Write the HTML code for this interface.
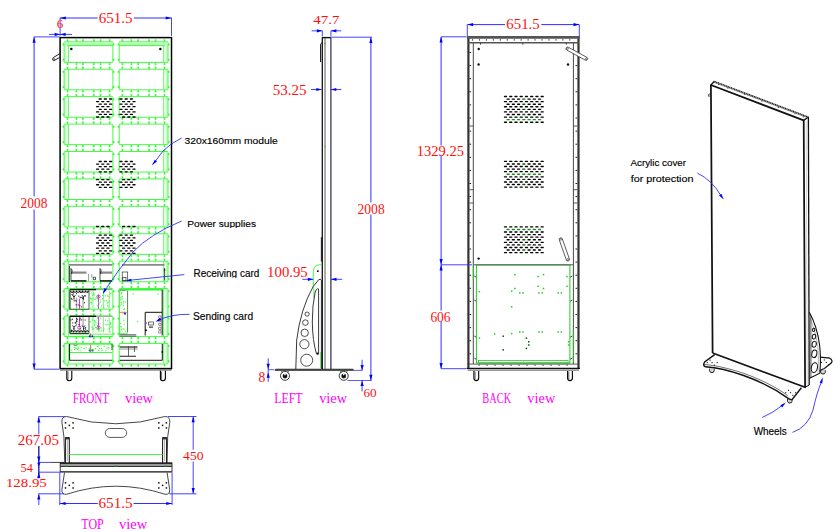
<!DOCTYPE html>
<html><head><meta charset="utf-8"><style>
html,body{margin:0;padding:0;background:#fff;width:840px;height:532px;overflow:hidden}
svg{display:block}

</style></head><body>
<svg width="840" height="532" viewBox="0 0 840 532">
<rect width="840" height="532" fill="#fff"/>
<rect x="62.6" y="43.65" width="1.7" height="1.7" rx="0" stroke="none" stroke-width="0" fill="#30f830" />
<rect x="112.7" y="43.65" width="1.7" height="1.7" rx="0" stroke="none" stroke-width="0" fill="#30f830" />
<rect x="62.6" y="58.85" width="1.7" height="1.7" rx="0" stroke="none" stroke-width="0" fill="#30f830" />
<rect x="112.7" y="58.85" width="1.7" height="1.7" rx="0" stroke="none" stroke-width="0" fill="#30f830" />
<rect x="64.4" y="42.3" width="2.1" height="19.6" rx="0" stroke="none" stroke-width="0" fill="#c8ffc8" />
<line x1="68.4" y1="42.3" x2="68.4" y2="61.9" stroke="#30f830" stroke-width="0.8" />
<rect x="64.1" y="41.8" width="48.8" height="20.6" rx="0.6" stroke="#30f830" stroke-width="0.9" fill="none" />
<rect x="66.65" y="39.3" width="1.7" height="1.7" rx="0" stroke="none" stroke-width="0" fill="#30f830" />
<line x1="67.5" y1="40.3" x2="67.5" y2="41.8" stroke="#30f830" stroke-width="0.7" />
<rect x="66.65" y="63.2" width="1.7" height="1.7" rx="0" stroke="none" stroke-width="0" fill="#30f830" />
<line x1="67.5" y1="62.4" x2="67.5" y2="63.9" stroke="#30f830" stroke-width="0.7" />
<rect x="75.55" y="39.3" width="1.7" height="1.7" rx="0" stroke="none" stroke-width="0" fill="#30f830" />
<line x1="76.4" y1="40.3" x2="76.4" y2="41.8" stroke="#30f830" stroke-width="0.7" />
<rect x="75.55" y="63.2" width="1.7" height="1.7" rx="0" stroke="none" stroke-width="0" fill="#30f830" />
<line x1="76.4" y1="62.4" x2="76.4" y2="63.9" stroke="#30f830" stroke-width="0.7" />
<rect x="82.05" y="39.3" width="1.7" height="1.7" rx="0" stroke="none" stroke-width="0" fill="#30f830" />
<line x1="82.9" y1="40.3" x2="82.9" y2="41.8" stroke="#30f830" stroke-width="0.7" />
<rect x="82.05" y="63.2" width="1.7" height="1.7" rx="0" stroke="none" stroke-width="0" fill="#30f830" />
<line x1="82.9" y1="62.4" x2="82.9" y2="63.9" stroke="#30f830" stroke-width="0.7" />
<rect x="92.95" y="39.3" width="1.7" height="1.7" rx="0" stroke="none" stroke-width="0" fill="#30f830" />
<line x1="93.8" y1="40.3" x2="93.8" y2="41.8" stroke="#30f830" stroke-width="0.7" />
<rect x="92.95" y="63.2" width="1.7" height="1.7" rx="0" stroke="none" stroke-width="0" fill="#30f830" />
<line x1="93.8" y1="62.4" x2="93.8" y2="63.9" stroke="#30f830" stroke-width="0.7" />
<rect x="99.75" y="39.3" width="1.7" height="1.7" rx="0" stroke="none" stroke-width="0" fill="#30f830" />
<line x1="100.6" y1="40.3" x2="100.6" y2="41.8" stroke="#30f830" stroke-width="0.7" />
<rect x="99.75" y="63.2" width="1.7" height="1.7" rx="0" stroke="none" stroke-width="0" fill="#30f830" />
<line x1="100.6" y1="62.4" x2="100.6" y2="63.9" stroke="#30f830" stroke-width="0.7" />
<rect x="108.75" y="39.3" width="1.7" height="1.7" rx="0" stroke="none" stroke-width="0" fill="#30f830" />
<line x1="109.6" y1="40.3" x2="109.6" y2="41.8" stroke="#30f830" stroke-width="0.7" />
<rect x="108.75" y="63.2" width="1.7" height="1.7" rx="0" stroke="none" stroke-width="0" fill="#30f830" />
<line x1="109.6" y1="62.4" x2="109.6" y2="63.9" stroke="#30f830" stroke-width="0.7" />
<rect x="117.7" y="43.65" width="1.7" height="1.7" rx="0" stroke="none" stroke-width="0" fill="#30f830" />
<rect x="167.8" y="43.65" width="1.7" height="1.7" rx="0" stroke="none" stroke-width="0" fill="#30f830" />
<rect x="117.7" y="58.85" width="1.7" height="1.7" rx="0" stroke="none" stroke-width="0" fill="#30f830" />
<rect x="167.8" y="58.85" width="1.7" height="1.7" rx="0" stroke="none" stroke-width="0" fill="#30f830" />
<rect x="165.6" y="42.3" width="2.1" height="19.6" rx="0" stroke="none" stroke-width="0" fill="#c8ffc8" />
<line x1="163.7" y1="42.3" x2="163.7" y2="61.9" stroke="#30f830" stroke-width="0.8" />
<rect x="119.2" y="41.8" width="48.8" height="20.6" rx="0.6" stroke="#30f830" stroke-width="0.9" fill="none" />
<rect x="163.65" y="39.3" width="1.7" height="1.7" rx="0" stroke="none" stroke-width="0" fill="#30f830" />
<line x1="164.5" y1="40.3" x2="164.5" y2="41.8" stroke="#30f830" stroke-width="0.7" />
<rect x="163.65" y="63.2" width="1.7" height="1.7" rx="0" stroke="none" stroke-width="0" fill="#30f830" />
<line x1="164.5" y1="62.4" x2="164.5" y2="63.9" stroke="#30f830" stroke-width="0.7" />
<rect x="154.75" y="39.3" width="1.7" height="1.7" rx="0" stroke="none" stroke-width="0" fill="#30f830" />
<line x1="155.6" y1="40.3" x2="155.6" y2="41.8" stroke="#30f830" stroke-width="0.7" />
<rect x="154.75" y="63.2" width="1.7" height="1.7" rx="0" stroke="none" stroke-width="0" fill="#30f830" />
<line x1="155.6" y1="62.4" x2="155.6" y2="63.9" stroke="#30f830" stroke-width="0.7" />
<rect x="148.25" y="39.3" width="1.7" height="1.7" rx="0" stroke="none" stroke-width="0" fill="#30f830" />
<line x1="149.1" y1="40.3" x2="149.1" y2="41.8" stroke="#30f830" stroke-width="0.7" />
<rect x="148.25" y="63.2" width="1.7" height="1.7" rx="0" stroke="none" stroke-width="0" fill="#30f830" />
<line x1="149.1" y1="62.4" x2="149.1" y2="63.9" stroke="#30f830" stroke-width="0.7" />
<rect x="137.35" y="39.3" width="1.7" height="1.7" rx="0" stroke="none" stroke-width="0" fill="#30f830" />
<line x1="138.2" y1="40.3" x2="138.2" y2="41.8" stroke="#30f830" stroke-width="0.7" />
<rect x="137.35" y="63.2" width="1.7" height="1.7" rx="0" stroke="none" stroke-width="0" fill="#30f830" />
<line x1="138.2" y1="62.4" x2="138.2" y2="63.9" stroke="#30f830" stroke-width="0.7" />
<rect x="130.55" y="39.3" width="1.7" height="1.7" rx="0" stroke="none" stroke-width="0" fill="#30f830" />
<line x1="131.4" y1="40.3" x2="131.4" y2="41.8" stroke="#30f830" stroke-width="0.7" />
<rect x="130.55" y="63.2" width="1.7" height="1.7" rx="0" stroke="none" stroke-width="0" fill="#30f830" />
<line x1="131.4" y1="62.4" x2="131.4" y2="63.9" stroke="#30f830" stroke-width="0.7" />
<rect x="121.55" y="39.3" width="1.7" height="1.7" rx="0" stroke="none" stroke-width="0" fill="#30f830" />
<line x1="122.4" y1="40.3" x2="122.4" y2="41.8" stroke="#30f830" stroke-width="0.7" />
<rect x="121.55" y="63.2" width="1.7" height="1.7" rx="0" stroke="none" stroke-width="0" fill="#30f830" />
<line x1="122.4" y1="62.4" x2="122.4" y2="63.9" stroke="#30f830" stroke-width="0.7" />
<rect x="62.6" y="71.07" width="1.7" height="1.7" rx="0" stroke="none" stroke-width="0" fill="#30f830" />
<rect x="112.7" y="71.07" width="1.7" height="1.7" rx="0" stroke="none" stroke-width="0" fill="#30f830" />
<rect x="62.6" y="86.27" width="1.7" height="1.7" rx="0" stroke="none" stroke-width="0" fill="#30f830" />
<rect x="112.7" y="86.27" width="1.7" height="1.7" rx="0" stroke="none" stroke-width="0" fill="#30f830" />
<rect x="64.4" y="69.72" width="2.1" height="19.6" rx="0" stroke="none" stroke-width="0" fill="#c8ffc8" />
<line x1="68.4" y1="69.72" x2="68.4" y2="89.32" stroke="#30f830" stroke-width="0.8" />
<rect x="64.1" y="69.22" width="48.8" height="20.6" rx="0.6" stroke="#30f830" stroke-width="0.9" fill="none" />
<rect x="66.65" y="66.72" width="1.7" height="1.7" rx="0" stroke="none" stroke-width="0" fill="#30f830" />
<line x1="67.5" y1="67.72" x2="67.5" y2="69.22" stroke="#30f830" stroke-width="0.7" />
<rect x="66.65" y="90.62" width="1.7" height="1.7" rx="0" stroke="none" stroke-width="0" fill="#30f830" />
<line x1="67.5" y1="89.82" x2="67.5" y2="91.32" stroke="#30f830" stroke-width="0.7" />
<rect x="75.55" y="66.72" width="1.7" height="1.7" rx="0" stroke="none" stroke-width="0" fill="#30f830" />
<line x1="76.4" y1="67.72" x2="76.4" y2="69.22" stroke="#30f830" stroke-width="0.7" />
<rect x="75.55" y="90.62" width="1.7" height="1.7" rx="0" stroke="none" stroke-width="0" fill="#30f830" />
<line x1="76.4" y1="89.82" x2="76.4" y2="91.32" stroke="#30f830" stroke-width="0.7" />
<rect x="82.05" y="66.72" width="1.7" height="1.7" rx="0" stroke="none" stroke-width="0" fill="#30f830" />
<line x1="82.9" y1="67.72" x2="82.9" y2="69.22" stroke="#30f830" stroke-width="0.7" />
<rect x="82.05" y="90.62" width="1.7" height="1.7" rx="0" stroke="none" stroke-width="0" fill="#30f830" />
<line x1="82.9" y1="89.82" x2="82.9" y2="91.32" stroke="#30f830" stroke-width="0.7" />
<rect x="92.95" y="66.72" width="1.7" height="1.7" rx="0" stroke="none" stroke-width="0" fill="#30f830" />
<line x1="93.8" y1="67.72" x2="93.8" y2="69.22" stroke="#30f830" stroke-width="0.7" />
<rect x="92.95" y="90.62" width="1.7" height="1.7" rx="0" stroke="none" stroke-width="0" fill="#30f830" />
<line x1="93.8" y1="89.82" x2="93.8" y2="91.32" stroke="#30f830" stroke-width="0.7" />
<rect x="99.75" y="66.72" width="1.7" height="1.7" rx="0" stroke="none" stroke-width="0" fill="#30f830" />
<line x1="100.6" y1="67.72" x2="100.6" y2="69.22" stroke="#30f830" stroke-width="0.7" />
<rect x="99.75" y="90.62" width="1.7" height="1.7" rx="0" stroke="none" stroke-width="0" fill="#30f830" />
<line x1="100.6" y1="89.82" x2="100.6" y2="91.32" stroke="#30f830" stroke-width="0.7" />
<rect x="108.75" y="66.72" width="1.7" height="1.7" rx="0" stroke="none" stroke-width="0" fill="#30f830" />
<line x1="109.6" y1="67.72" x2="109.6" y2="69.22" stroke="#30f830" stroke-width="0.7" />
<rect x="108.75" y="90.62" width="1.7" height="1.7" rx="0" stroke="none" stroke-width="0" fill="#30f830" />
<line x1="109.6" y1="89.82" x2="109.6" y2="91.32" stroke="#30f830" stroke-width="0.7" />
<rect x="117.7" y="71.07" width="1.7" height="1.7" rx="0" stroke="none" stroke-width="0" fill="#30f830" />
<rect x="167.8" y="71.07" width="1.7" height="1.7" rx="0" stroke="none" stroke-width="0" fill="#30f830" />
<rect x="117.7" y="86.27" width="1.7" height="1.7" rx="0" stroke="none" stroke-width="0" fill="#30f830" />
<rect x="167.8" y="86.27" width="1.7" height="1.7" rx="0" stroke="none" stroke-width="0" fill="#30f830" />
<rect x="165.6" y="69.72" width="2.1" height="19.6" rx="0" stroke="none" stroke-width="0" fill="#c8ffc8" />
<line x1="163.7" y1="69.72" x2="163.7" y2="89.32" stroke="#30f830" stroke-width="0.8" />
<rect x="119.2" y="69.22" width="48.8" height="20.6" rx="0.6" stroke="#30f830" stroke-width="0.9" fill="none" />
<rect x="163.65" y="66.72" width="1.7" height="1.7" rx="0" stroke="none" stroke-width="0" fill="#30f830" />
<line x1="164.5" y1="67.72" x2="164.5" y2="69.22" stroke="#30f830" stroke-width="0.7" />
<rect x="163.65" y="90.62" width="1.7" height="1.7" rx="0" stroke="none" stroke-width="0" fill="#30f830" />
<line x1="164.5" y1="89.82" x2="164.5" y2="91.32" stroke="#30f830" stroke-width="0.7" />
<rect x="154.75" y="66.72" width="1.7" height="1.7" rx="0" stroke="none" stroke-width="0" fill="#30f830" />
<line x1="155.6" y1="67.72" x2="155.6" y2="69.22" stroke="#30f830" stroke-width="0.7" />
<rect x="154.75" y="90.62" width="1.7" height="1.7" rx="0" stroke="none" stroke-width="0" fill="#30f830" />
<line x1="155.6" y1="89.82" x2="155.6" y2="91.32" stroke="#30f830" stroke-width="0.7" />
<rect x="148.25" y="66.72" width="1.7" height="1.7" rx="0" stroke="none" stroke-width="0" fill="#30f830" />
<line x1="149.1" y1="67.72" x2="149.1" y2="69.22" stroke="#30f830" stroke-width="0.7" />
<rect x="148.25" y="90.62" width="1.7" height="1.7" rx="0" stroke="none" stroke-width="0" fill="#30f830" />
<line x1="149.1" y1="89.82" x2="149.1" y2="91.32" stroke="#30f830" stroke-width="0.7" />
<rect x="137.35" y="66.72" width="1.7" height="1.7" rx="0" stroke="none" stroke-width="0" fill="#30f830" />
<line x1="138.2" y1="67.72" x2="138.2" y2="69.22" stroke="#30f830" stroke-width="0.7" />
<rect x="137.35" y="90.62" width="1.7" height="1.7" rx="0" stroke="none" stroke-width="0" fill="#30f830" />
<line x1="138.2" y1="89.82" x2="138.2" y2="91.32" stroke="#30f830" stroke-width="0.7" />
<rect x="130.55" y="66.72" width="1.7" height="1.7" rx="0" stroke="none" stroke-width="0" fill="#30f830" />
<line x1="131.4" y1="67.72" x2="131.4" y2="69.22" stroke="#30f830" stroke-width="0.7" />
<rect x="130.55" y="90.62" width="1.7" height="1.7" rx="0" stroke="none" stroke-width="0" fill="#30f830" />
<line x1="131.4" y1="89.82" x2="131.4" y2="91.32" stroke="#30f830" stroke-width="0.7" />
<rect x="121.55" y="66.72" width="1.7" height="1.7" rx="0" stroke="none" stroke-width="0" fill="#30f830" />
<line x1="122.4" y1="67.72" x2="122.4" y2="69.22" stroke="#30f830" stroke-width="0.7" />
<rect x="121.55" y="90.62" width="1.7" height="1.7" rx="0" stroke="none" stroke-width="0" fill="#30f830" />
<line x1="122.4" y1="89.82" x2="122.4" y2="91.32" stroke="#30f830" stroke-width="0.7" />
<rect x="62.6" y="98.49" width="1.7" height="1.7" rx="0" stroke="none" stroke-width="0" fill="#30f830" />
<rect x="112.7" y="98.49" width="1.7" height="1.7" rx="0" stroke="none" stroke-width="0" fill="#30f830" />
<rect x="62.6" y="113.69" width="1.7" height="1.7" rx="0" stroke="none" stroke-width="0" fill="#30f830" />
<rect x="112.7" y="113.69" width="1.7" height="1.7" rx="0" stroke="none" stroke-width="0" fill="#30f830" />
<rect x="64.4" y="97.14" width="2.1" height="19.6" rx="0" stroke="none" stroke-width="0" fill="#c8ffc8" />
<line x1="68.4" y1="97.14" x2="68.4" y2="116.74" stroke="#30f830" stroke-width="0.8" />
<rect x="64.1" y="96.64" width="48.8" height="20.6" rx="0.6" stroke="#30f830" stroke-width="0.9" fill="none" />
<rect x="66.65" y="94.14" width="1.7" height="1.7" rx="0" stroke="none" stroke-width="0" fill="#30f830" />
<line x1="67.5" y1="95.14" x2="67.5" y2="96.64" stroke="#30f830" stroke-width="0.7" />
<rect x="66.65" y="118.04" width="1.7" height="1.7" rx="0" stroke="none" stroke-width="0" fill="#30f830" />
<line x1="67.5" y1="117.24" x2="67.5" y2="118.74" stroke="#30f830" stroke-width="0.7" />
<rect x="75.55" y="94.14" width="1.7" height="1.7" rx="0" stroke="none" stroke-width="0" fill="#30f830" />
<line x1="76.4" y1="95.14" x2="76.4" y2="96.64" stroke="#30f830" stroke-width="0.7" />
<rect x="75.55" y="118.04" width="1.7" height="1.7" rx="0" stroke="none" stroke-width="0" fill="#30f830" />
<line x1="76.4" y1="117.24" x2="76.4" y2="118.74" stroke="#30f830" stroke-width="0.7" />
<rect x="82.05" y="94.14" width="1.7" height="1.7" rx="0" stroke="none" stroke-width="0" fill="#30f830" />
<line x1="82.9" y1="95.14" x2="82.9" y2="96.64" stroke="#30f830" stroke-width="0.7" />
<rect x="82.05" y="118.04" width="1.7" height="1.7" rx="0" stroke="none" stroke-width="0" fill="#30f830" />
<line x1="82.9" y1="117.24" x2="82.9" y2="118.74" stroke="#30f830" stroke-width="0.7" />
<rect x="92.95" y="94.14" width="1.7" height="1.7" rx="0" stroke="none" stroke-width="0" fill="#30f830" />
<line x1="93.8" y1="95.14" x2="93.8" y2="96.64" stroke="#30f830" stroke-width="0.7" />
<rect x="92.95" y="118.04" width="1.7" height="1.7" rx="0" stroke="none" stroke-width="0" fill="#30f830" />
<line x1="93.8" y1="117.24" x2="93.8" y2="118.74" stroke="#30f830" stroke-width="0.7" />
<rect x="99.75" y="94.14" width="1.7" height="1.7" rx="0" stroke="none" stroke-width="0" fill="#30f830" />
<line x1="100.6" y1="95.14" x2="100.6" y2="96.64" stroke="#30f830" stroke-width="0.7" />
<rect x="99.75" y="118.04" width="1.7" height="1.7" rx="0" stroke="none" stroke-width="0" fill="#30f830" />
<line x1="100.6" y1="117.24" x2="100.6" y2="118.74" stroke="#30f830" stroke-width="0.7" />
<rect x="108.75" y="94.14" width="1.7" height="1.7" rx="0" stroke="none" stroke-width="0" fill="#30f830" />
<line x1="109.6" y1="95.14" x2="109.6" y2="96.64" stroke="#30f830" stroke-width="0.7" />
<rect x="108.75" y="118.04" width="1.7" height="1.7" rx="0" stroke="none" stroke-width="0" fill="#30f830" />
<line x1="109.6" y1="117.24" x2="109.6" y2="118.74" stroke="#30f830" stroke-width="0.7" />
<rect x="117.7" y="98.49" width="1.7" height="1.7" rx="0" stroke="none" stroke-width="0" fill="#30f830" />
<rect x="167.8" y="98.49" width="1.7" height="1.7" rx="0" stroke="none" stroke-width="0" fill="#30f830" />
<rect x="117.7" y="113.69" width="1.7" height="1.7" rx="0" stroke="none" stroke-width="0" fill="#30f830" />
<rect x="167.8" y="113.69" width="1.7" height="1.7" rx="0" stroke="none" stroke-width="0" fill="#30f830" />
<rect x="165.6" y="97.14" width="2.1" height="19.6" rx="0" stroke="none" stroke-width="0" fill="#c8ffc8" />
<line x1="163.7" y1="97.14" x2="163.7" y2="116.74" stroke="#30f830" stroke-width="0.8" />
<rect x="119.2" y="96.64" width="48.8" height="20.6" rx="0.6" stroke="#30f830" stroke-width="0.9" fill="none" />
<rect x="163.65" y="94.14" width="1.7" height="1.7" rx="0" stroke="none" stroke-width="0" fill="#30f830" />
<line x1="164.5" y1="95.14" x2="164.5" y2="96.64" stroke="#30f830" stroke-width="0.7" />
<rect x="163.65" y="118.04" width="1.7" height="1.7" rx="0" stroke="none" stroke-width="0" fill="#30f830" />
<line x1="164.5" y1="117.24" x2="164.5" y2="118.74" stroke="#30f830" stroke-width="0.7" />
<rect x="154.75" y="94.14" width="1.7" height="1.7" rx="0" stroke="none" stroke-width="0" fill="#30f830" />
<line x1="155.6" y1="95.14" x2="155.6" y2="96.64" stroke="#30f830" stroke-width="0.7" />
<rect x="154.75" y="118.04" width="1.7" height="1.7" rx="0" stroke="none" stroke-width="0" fill="#30f830" />
<line x1="155.6" y1="117.24" x2="155.6" y2="118.74" stroke="#30f830" stroke-width="0.7" />
<rect x="148.25" y="94.14" width="1.7" height="1.7" rx="0" stroke="none" stroke-width="0" fill="#30f830" />
<line x1="149.1" y1="95.14" x2="149.1" y2="96.64" stroke="#30f830" stroke-width="0.7" />
<rect x="148.25" y="118.04" width="1.7" height="1.7" rx="0" stroke="none" stroke-width="0" fill="#30f830" />
<line x1="149.1" y1="117.24" x2="149.1" y2="118.74" stroke="#30f830" stroke-width="0.7" />
<rect x="137.35" y="94.14" width="1.7" height="1.7" rx="0" stroke="none" stroke-width="0" fill="#30f830" />
<line x1="138.2" y1="95.14" x2="138.2" y2="96.64" stroke="#30f830" stroke-width="0.7" />
<rect x="137.35" y="118.04" width="1.7" height="1.7" rx="0" stroke="none" stroke-width="0" fill="#30f830" />
<line x1="138.2" y1="117.24" x2="138.2" y2="118.74" stroke="#30f830" stroke-width="0.7" />
<rect x="130.55" y="94.14" width="1.7" height="1.7" rx="0" stroke="none" stroke-width="0" fill="#30f830" />
<line x1="131.4" y1="95.14" x2="131.4" y2="96.64" stroke="#30f830" stroke-width="0.7" />
<rect x="130.55" y="118.04" width="1.7" height="1.7" rx="0" stroke="none" stroke-width="0" fill="#30f830" />
<line x1="131.4" y1="117.24" x2="131.4" y2="118.74" stroke="#30f830" stroke-width="0.7" />
<rect x="121.55" y="94.14" width="1.7" height="1.7" rx="0" stroke="none" stroke-width="0" fill="#30f830" />
<line x1="122.4" y1="95.14" x2="122.4" y2="96.64" stroke="#30f830" stroke-width="0.7" />
<rect x="121.55" y="118.04" width="1.7" height="1.7" rx="0" stroke="none" stroke-width="0" fill="#30f830" />
<line x1="122.4" y1="117.24" x2="122.4" y2="118.74" stroke="#30f830" stroke-width="0.7" />
<rect x="62.6" y="125.91" width="1.7" height="1.7" rx="0" stroke="none" stroke-width="0" fill="#30f830" />
<rect x="112.7" y="125.91" width="1.7" height="1.7" rx="0" stroke="none" stroke-width="0" fill="#30f830" />
<rect x="62.6" y="141.11" width="1.7" height="1.7" rx="0" stroke="none" stroke-width="0" fill="#30f830" />
<rect x="112.7" y="141.11" width="1.7" height="1.7" rx="0" stroke="none" stroke-width="0" fill="#30f830" />
<rect x="64.4" y="124.56" width="2.1" height="19.6" rx="0" stroke="none" stroke-width="0" fill="#c8ffc8" />
<line x1="68.4" y1="124.56" x2="68.4" y2="144.16" stroke="#30f830" stroke-width="0.8" />
<rect x="64.1" y="124.06" width="48.8" height="20.6" rx="0.6" stroke="#30f830" stroke-width="0.9" fill="none" />
<rect x="66.65" y="121.56" width="1.7" height="1.7" rx="0" stroke="none" stroke-width="0" fill="#30f830" />
<line x1="67.5" y1="122.56" x2="67.5" y2="124.06" stroke="#30f830" stroke-width="0.7" />
<rect x="66.65" y="145.46" width="1.7" height="1.7" rx="0" stroke="none" stroke-width="0" fill="#30f830" />
<line x1="67.5" y1="144.66" x2="67.5" y2="146.16" stroke="#30f830" stroke-width="0.7" />
<rect x="75.55" y="121.56" width="1.7" height="1.7" rx="0" stroke="none" stroke-width="0" fill="#30f830" />
<line x1="76.4" y1="122.56" x2="76.4" y2="124.06" stroke="#30f830" stroke-width="0.7" />
<rect x="75.55" y="145.46" width="1.7" height="1.7" rx="0" stroke="none" stroke-width="0" fill="#30f830" />
<line x1="76.4" y1="144.66" x2="76.4" y2="146.16" stroke="#30f830" stroke-width="0.7" />
<rect x="82.05" y="121.56" width="1.7" height="1.7" rx="0" stroke="none" stroke-width="0" fill="#30f830" />
<line x1="82.9" y1="122.56" x2="82.9" y2="124.06" stroke="#30f830" stroke-width="0.7" />
<rect x="82.05" y="145.46" width="1.7" height="1.7" rx="0" stroke="none" stroke-width="0" fill="#30f830" />
<line x1="82.9" y1="144.66" x2="82.9" y2="146.16" stroke="#30f830" stroke-width="0.7" />
<rect x="92.95" y="121.56" width="1.7" height="1.7" rx="0" stroke="none" stroke-width="0" fill="#30f830" />
<line x1="93.8" y1="122.56" x2="93.8" y2="124.06" stroke="#30f830" stroke-width="0.7" />
<rect x="92.95" y="145.46" width="1.7" height="1.7" rx="0" stroke="none" stroke-width="0" fill="#30f830" />
<line x1="93.8" y1="144.66" x2="93.8" y2="146.16" stroke="#30f830" stroke-width="0.7" />
<rect x="99.75" y="121.56" width="1.7" height="1.7" rx="0" stroke="none" stroke-width="0" fill="#30f830" />
<line x1="100.6" y1="122.56" x2="100.6" y2="124.06" stroke="#30f830" stroke-width="0.7" />
<rect x="99.75" y="145.46" width="1.7" height="1.7" rx="0" stroke="none" stroke-width="0" fill="#30f830" />
<line x1="100.6" y1="144.66" x2="100.6" y2="146.16" stroke="#30f830" stroke-width="0.7" />
<rect x="108.75" y="121.56" width="1.7" height="1.7" rx="0" stroke="none" stroke-width="0" fill="#30f830" />
<line x1="109.6" y1="122.56" x2="109.6" y2="124.06" stroke="#30f830" stroke-width="0.7" />
<rect x="108.75" y="145.46" width="1.7" height="1.7" rx="0" stroke="none" stroke-width="0" fill="#30f830" />
<line x1="109.6" y1="144.66" x2="109.6" y2="146.16" stroke="#30f830" stroke-width="0.7" />
<rect x="117.7" y="125.91" width="1.7" height="1.7" rx="0" stroke="none" stroke-width="0" fill="#30f830" />
<rect x="167.8" y="125.91" width="1.7" height="1.7" rx="0" stroke="none" stroke-width="0" fill="#30f830" />
<rect x="117.7" y="141.11" width="1.7" height="1.7" rx="0" stroke="none" stroke-width="0" fill="#30f830" />
<rect x="167.8" y="141.11" width="1.7" height="1.7" rx="0" stroke="none" stroke-width="0" fill="#30f830" />
<rect x="165.6" y="124.56" width="2.1" height="19.6" rx="0" stroke="none" stroke-width="0" fill="#c8ffc8" />
<line x1="163.7" y1="124.56" x2="163.7" y2="144.16" stroke="#30f830" stroke-width="0.8" />
<rect x="119.2" y="124.06" width="48.8" height="20.6" rx="0.6" stroke="#30f830" stroke-width="0.9" fill="none" />
<rect x="163.65" y="121.56" width="1.7" height="1.7" rx="0" stroke="none" stroke-width="0" fill="#30f830" />
<line x1="164.5" y1="122.56" x2="164.5" y2="124.06" stroke="#30f830" stroke-width="0.7" />
<rect x="163.65" y="145.46" width="1.7" height="1.7" rx="0" stroke="none" stroke-width="0" fill="#30f830" />
<line x1="164.5" y1="144.66" x2="164.5" y2="146.16" stroke="#30f830" stroke-width="0.7" />
<rect x="154.75" y="121.56" width="1.7" height="1.7" rx="0" stroke="none" stroke-width="0" fill="#30f830" />
<line x1="155.6" y1="122.56" x2="155.6" y2="124.06" stroke="#30f830" stroke-width="0.7" />
<rect x="154.75" y="145.46" width="1.7" height="1.7" rx="0" stroke="none" stroke-width="0" fill="#30f830" />
<line x1="155.6" y1="144.66" x2="155.6" y2="146.16" stroke="#30f830" stroke-width="0.7" />
<rect x="148.25" y="121.56" width="1.7" height="1.7" rx="0" stroke="none" stroke-width="0" fill="#30f830" />
<line x1="149.1" y1="122.56" x2="149.1" y2="124.06" stroke="#30f830" stroke-width="0.7" />
<rect x="148.25" y="145.46" width="1.7" height="1.7" rx="0" stroke="none" stroke-width="0" fill="#30f830" />
<line x1="149.1" y1="144.66" x2="149.1" y2="146.16" stroke="#30f830" stroke-width="0.7" />
<rect x="137.35" y="121.56" width="1.7" height="1.7" rx="0" stroke="none" stroke-width="0" fill="#30f830" />
<line x1="138.2" y1="122.56" x2="138.2" y2="124.06" stroke="#30f830" stroke-width="0.7" />
<rect x="137.35" y="145.46" width="1.7" height="1.7" rx="0" stroke="none" stroke-width="0" fill="#30f830" />
<line x1="138.2" y1="144.66" x2="138.2" y2="146.16" stroke="#30f830" stroke-width="0.7" />
<rect x="130.55" y="121.56" width="1.7" height="1.7" rx="0" stroke="none" stroke-width="0" fill="#30f830" />
<line x1="131.4" y1="122.56" x2="131.4" y2="124.06" stroke="#30f830" stroke-width="0.7" />
<rect x="130.55" y="145.46" width="1.7" height="1.7" rx="0" stroke="none" stroke-width="0" fill="#30f830" />
<line x1="131.4" y1="144.66" x2="131.4" y2="146.16" stroke="#30f830" stroke-width="0.7" />
<rect x="121.55" y="121.56" width="1.7" height="1.7" rx="0" stroke="none" stroke-width="0" fill="#30f830" />
<line x1="122.4" y1="122.56" x2="122.4" y2="124.06" stroke="#30f830" stroke-width="0.7" />
<rect x="121.55" y="145.46" width="1.7" height="1.7" rx="0" stroke="none" stroke-width="0" fill="#30f830" />
<line x1="122.4" y1="144.66" x2="122.4" y2="146.16" stroke="#30f830" stroke-width="0.7" />
<rect x="62.6" y="153.33" width="1.7" height="1.7" rx="0" stroke="none" stroke-width="0" fill="#30f830" />
<rect x="112.7" y="153.33" width="1.7" height="1.7" rx="0" stroke="none" stroke-width="0" fill="#30f830" />
<rect x="62.6" y="168.53" width="1.7" height="1.7" rx="0" stroke="none" stroke-width="0" fill="#30f830" />
<rect x="112.7" y="168.53" width="1.7" height="1.7" rx="0" stroke="none" stroke-width="0" fill="#30f830" />
<rect x="64.4" y="151.98" width="2.1" height="19.6" rx="0" stroke="none" stroke-width="0" fill="#c8ffc8" />
<line x1="68.4" y1="151.98" x2="68.4" y2="171.58" stroke="#30f830" stroke-width="0.8" />
<rect x="64.1" y="151.48" width="48.8" height="20.6" rx="0.6" stroke="#30f830" stroke-width="0.9" fill="none" />
<rect x="66.65" y="148.98" width="1.7" height="1.7" rx="0" stroke="none" stroke-width="0" fill="#30f830" />
<line x1="67.5" y1="149.98" x2="67.5" y2="151.48" stroke="#30f830" stroke-width="0.7" />
<rect x="66.65" y="172.88" width="1.7" height="1.7" rx="0" stroke="none" stroke-width="0" fill="#30f830" />
<line x1="67.5" y1="172.08" x2="67.5" y2="173.58" stroke="#30f830" stroke-width="0.7" />
<rect x="75.55" y="148.98" width="1.7" height="1.7" rx="0" stroke="none" stroke-width="0" fill="#30f830" />
<line x1="76.4" y1="149.98" x2="76.4" y2="151.48" stroke="#30f830" stroke-width="0.7" />
<rect x="75.55" y="172.88" width="1.7" height="1.7" rx="0" stroke="none" stroke-width="0" fill="#30f830" />
<line x1="76.4" y1="172.08" x2="76.4" y2="173.58" stroke="#30f830" stroke-width="0.7" />
<rect x="82.05" y="148.98" width="1.7" height="1.7" rx="0" stroke="none" stroke-width="0" fill="#30f830" />
<line x1="82.9" y1="149.98" x2="82.9" y2="151.48" stroke="#30f830" stroke-width="0.7" />
<rect x="82.05" y="172.88" width="1.7" height="1.7" rx="0" stroke="none" stroke-width="0" fill="#30f830" />
<line x1="82.9" y1="172.08" x2="82.9" y2="173.58" stroke="#30f830" stroke-width="0.7" />
<rect x="92.95" y="148.98" width="1.7" height="1.7" rx="0" stroke="none" stroke-width="0" fill="#30f830" />
<line x1="93.8" y1="149.98" x2="93.8" y2="151.48" stroke="#30f830" stroke-width="0.7" />
<rect x="92.95" y="172.88" width="1.7" height="1.7" rx="0" stroke="none" stroke-width="0" fill="#30f830" />
<line x1="93.8" y1="172.08" x2="93.8" y2="173.58" stroke="#30f830" stroke-width="0.7" />
<rect x="99.75" y="148.98" width="1.7" height="1.7" rx="0" stroke="none" stroke-width="0" fill="#30f830" />
<line x1="100.6" y1="149.98" x2="100.6" y2="151.48" stroke="#30f830" stroke-width="0.7" />
<rect x="99.75" y="172.88" width="1.7" height="1.7" rx="0" stroke="none" stroke-width="0" fill="#30f830" />
<line x1="100.6" y1="172.08" x2="100.6" y2="173.58" stroke="#30f830" stroke-width="0.7" />
<rect x="108.75" y="148.98" width="1.7" height="1.7" rx="0" stroke="none" stroke-width="0" fill="#30f830" />
<line x1="109.6" y1="149.98" x2="109.6" y2="151.48" stroke="#30f830" stroke-width="0.7" />
<rect x="108.75" y="172.88" width="1.7" height="1.7" rx="0" stroke="none" stroke-width="0" fill="#30f830" />
<line x1="109.6" y1="172.08" x2="109.6" y2="173.58" stroke="#30f830" stroke-width="0.7" />
<rect x="117.7" y="153.33" width="1.7" height="1.7" rx="0" stroke="none" stroke-width="0" fill="#30f830" />
<rect x="167.8" y="153.33" width="1.7" height="1.7" rx="0" stroke="none" stroke-width="0" fill="#30f830" />
<rect x="117.7" y="168.53" width="1.7" height="1.7" rx="0" stroke="none" stroke-width="0" fill="#30f830" />
<rect x="167.8" y="168.53" width="1.7" height="1.7" rx="0" stroke="none" stroke-width="0" fill="#30f830" />
<rect x="165.6" y="151.98" width="2.1" height="19.6" rx="0" stroke="none" stroke-width="0" fill="#c8ffc8" />
<line x1="163.7" y1="151.98" x2="163.7" y2="171.58" stroke="#30f830" stroke-width="0.8" />
<rect x="119.2" y="151.48" width="48.8" height="20.6" rx="0.6" stroke="#30f830" stroke-width="0.9" fill="none" />
<rect x="163.65" y="148.98" width="1.7" height="1.7" rx="0" stroke="none" stroke-width="0" fill="#30f830" />
<line x1="164.5" y1="149.98" x2="164.5" y2="151.48" stroke="#30f830" stroke-width="0.7" />
<rect x="163.65" y="172.88" width="1.7" height="1.7" rx="0" stroke="none" stroke-width="0" fill="#30f830" />
<line x1="164.5" y1="172.08" x2="164.5" y2="173.58" stroke="#30f830" stroke-width="0.7" />
<rect x="154.75" y="148.98" width="1.7" height="1.7" rx="0" stroke="none" stroke-width="0" fill="#30f830" />
<line x1="155.6" y1="149.98" x2="155.6" y2="151.48" stroke="#30f830" stroke-width="0.7" />
<rect x="154.75" y="172.88" width="1.7" height="1.7" rx="0" stroke="none" stroke-width="0" fill="#30f830" />
<line x1="155.6" y1="172.08" x2="155.6" y2="173.58" stroke="#30f830" stroke-width="0.7" />
<rect x="148.25" y="148.98" width="1.7" height="1.7" rx="0" stroke="none" stroke-width="0" fill="#30f830" />
<line x1="149.1" y1="149.98" x2="149.1" y2="151.48" stroke="#30f830" stroke-width="0.7" />
<rect x="148.25" y="172.88" width="1.7" height="1.7" rx="0" stroke="none" stroke-width="0" fill="#30f830" />
<line x1="149.1" y1="172.08" x2="149.1" y2="173.58" stroke="#30f830" stroke-width="0.7" />
<rect x="137.35" y="148.98" width="1.7" height="1.7" rx="0" stroke="none" stroke-width="0" fill="#30f830" />
<line x1="138.2" y1="149.98" x2="138.2" y2="151.48" stroke="#30f830" stroke-width="0.7" />
<rect x="137.35" y="172.88" width="1.7" height="1.7" rx="0" stroke="none" stroke-width="0" fill="#30f830" />
<line x1="138.2" y1="172.08" x2="138.2" y2="173.58" stroke="#30f830" stroke-width="0.7" />
<rect x="130.55" y="148.98" width="1.7" height="1.7" rx="0" stroke="none" stroke-width="0" fill="#30f830" />
<line x1="131.4" y1="149.98" x2="131.4" y2="151.48" stroke="#30f830" stroke-width="0.7" />
<rect x="130.55" y="172.88" width="1.7" height="1.7" rx="0" stroke="none" stroke-width="0" fill="#30f830" />
<line x1="131.4" y1="172.08" x2="131.4" y2="173.58" stroke="#30f830" stroke-width="0.7" />
<rect x="121.55" y="148.98" width="1.7" height="1.7" rx="0" stroke="none" stroke-width="0" fill="#30f830" />
<line x1="122.4" y1="149.98" x2="122.4" y2="151.48" stroke="#30f830" stroke-width="0.7" />
<rect x="121.55" y="172.88" width="1.7" height="1.7" rx="0" stroke="none" stroke-width="0" fill="#30f830" />
<line x1="122.4" y1="172.08" x2="122.4" y2="173.58" stroke="#30f830" stroke-width="0.7" />
<rect x="62.6" y="180.75" width="1.7" height="1.7" rx="0" stroke="none" stroke-width="0" fill="#30f830" />
<rect x="112.7" y="180.75" width="1.7" height="1.7" rx="0" stroke="none" stroke-width="0" fill="#30f830" />
<rect x="62.6" y="195.95" width="1.7" height="1.7" rx="0" stroke="none" stroke-width="0" fill="#30f830" />
<rect x="112.7" y="195.95" width="1.7" height="1.7" rx="0" stroke="none" stroke-width="0" fill="#30f830" />
<rect x="64.4" y="179.4" width="2.1" height="19.6" rx="0" stroke="none" stroke-width="0" fill="#c8ffc8" />
<line x1="68.4" y1="179.4" x2="68.4" y2="199" stroke="#30f830" stroke-width="0.8" />
<rect x="64.1" y="178.9" width="48.8" height="20.6" rx="0.6" stroke="#30f830" stroke-width="0.9" fill="none" />
<rect x="66.65" y="176.4" width="1.7" height="1.7" rx="0" stroke="none" stroke-width="0" fill="#30f830" />
<line x1="67.5" y1="177.4" x2="67.5" y2="178.9" stroke="#30f830" stroke-width="0.7" />
<rect x="66.65" y="200.3" width="1.7" height="1.7" rx="0" stroke="none" stroke-width="0" fill="#30f830" />
<line x1="67.5" y1="199.5" x2="67.5" y2="201" stroke="#30f830" stroke-width="0.7" />
<rect x="75.55" y="176.4" width="1.7" height="1.7" rx="0" stroke="none" stroke-width="0" fill="#30f830" />
<line x1="76.4" y1="177.4" x2="76.4" y2="178.9" stroke="#30f830" stroke-width="0.7" />
<rect x="75.55" y="200.3" width="1.7" height="1.7" rx="0" stroke="none" stroke-width="0" fill="#30f830" />
<line x1="76.4" y1="199.5" x2="76.4" y2="201" stroke="#30f830" stroke-width="0.7" />
<rect x="82.05" y="176.4" width="1.7" height="1.7" rx="0" stroke="none" stroke-width="0" fill="#30f830" />
<line x1="82.9" y1="177.4" x2="82.9" y2="178.9" stroke="#30f830" stroke-width="0.7" />
<rect x="82.05" y="200.3" width="1.7" height="1.7" rx="0" stroke="none" stroke-width="0" fill="#30f830" />
<line x1="82.9" y1="199.5" x2="82.9" y2="201" stroke="#30f830" stroke-width="0.7" />
<rect x="92.95" y="176.4" width="1.7" height="1.7" rx="0" stroke="none" stroke-width="0" fill="#30f830" />
<line x1="93.8" y1="177.4" x2="93.8" y2="178.9" stroke="#30f830" stroke-width="0.7" />
<rect x="92.95" y="200.3" width="1.7" height="1.7" rx="0" stroke="none" stroke-width="0" fill="#30f830" />
<line x1="93.8" y1="199.5" x2="93.8" y2="201" stroke="#30f830" stroke-width="0.7" />
<rect x="99.75" y="176.4" width="1.7" height="1.7" rx="0" stroke="none" stroke-width="0" fill="#30f830" />
<line x1="100.6" y1="177.4" x2="100.6" y2="178.9" stroke="#30f830" stroke-width="0.7" />
<rect x="99.75" y="200.3" width="1.7" height="1.7" rx="0" stroke="none" stroke-width="0" fill="#30f830" />
<line x1="100.6" y1="199.5" x2="100.6" y2="201" stroke="#30f830" stroke-width="0.7" />
<rect x="108.75" y="176.4" width="1.7" height="1.7" rx="0" stroke="none" stroke-width="0" fill="#30f830" />
<line x1="109.6" y1="177.4" x2="109.6" y2="178.9" stroke="#30f830" stroke-width="0.7" />
<rect x="108.75" y="200.3" width="1.7" height="1.7" rx="0" stroke="none" stroke-width="0" fill="#30f830" />
<line x1="109.6" y1="199.5" x2="109.6" y2="201" stroke="#30f830" stroke-width="0.7" />
<rect x="117.7" y="180.75" width="1.7" height="1.7" rx="0" stroke="none" stroke-width="0" fill="#30f830" />
<rect x="167.8" y="180.75" width="1.7" height="1.7" rx="0" stroke="none" stroke-width="0" fill="#30f830" />
<rect x="117.7" y="195.95" width="1.7" height="1.7" rx="0" stroke="none" stroke-width="0" fill="#30f830" />
<rect x="167.8" y="195.95" width="1.7" height="1.7" rx="0" stroke="none" stroke-width="0" fill="#30f830" />
<rect x="165.6" y="179.4" width="2.1" height="19.6" rx="0" stroke="none" stroke-width="0" fill="#c8ffc8" />
<line x1="163.7" y1="179.4" x2="163.7" y2="199" stroke="#30f830" stroke-width="0.8" />
<rect x="119.2" y="178.9" width="48.8" height="20.6" rx="0.6" stroke="#30f830" stroke-width="0.9" fill="none" />
<rect x="163.65" y="176.4" width="1.7" height="1.7" rx="0" stroke="none" stroke-width="0" fill="#30f830" />
<line x1="164.5" y1="177.4" x2="164.5" y2="178.9" stroke="#30f830" stroke-width="0.7" />
<rect x="163.65" y="200.3" width="1.7" height="1.7" rx="0" stroke="none" stroke-width="0" fill="#30f830" />
<line x1="164.5" y1="199.5" x2="164.5" y2="201" stroke="#30f830" stroke-width="0.7" />
<rect x="154.75" y="176.4" width="1.7" height="1.7" rx="0" stroke="none" stroke-width="0" fill="#30f830" />
<line x1="155.6" y1="177.4" x2="155.6" y2="178.9" stroke="#30f830" stroke-width="0.7" />
<rect x="154.75" y="200.3" width="1.7" height="1.7" rx="0" stroke="none" stroke-width="0" fill="#30f830" />
<line x1="155.6" y1="199.5" x2="155.6" y2="201" stroke="#30f830" stroke-width="0.7" />
<rect x="148.25" y="176.4" width="1.7" height="1.7" rx="0" stroke="none" stroke-width="0" fill="#30f830" />
<line x1="149.1" y1="177.4" x2="149.1" y2="178.9" stroke="#30f830" stroke-width="0.7" />
<rect x="148.25" y="200.3" width="1.7" height="1.7" rx="0" stroke="none" stroke-width="0" fill="#30f830" />
<line x1="149.1" y1="199.5" x2="149.1" y2="201" stroke="#30f830" stroke-width="0.7" />
<rect x="137.35" y="176.4" width="1.7" height="1.7" rx="0" stroke="none" stroke-width="0" fill="#30f830" />
<line x1="138.2" y1="177.4" x2="138.2" y2="178.9" stroke="#30f830" stroke-width="0.7" />
<rect x="137.35" y="200.3" width="1.7" height="1.7" rx="0" stroke="none" stroke-width="0" fill="#30f830" />
<line x1="138.2" y1="199.5" x2="138.2" y2="201" stroke="#30f830" stroke-width="0.7" />
<rect x="130.55" y="176.4" width="1.7" height="1.7" rx="0" stroke="none" stroke-width="0" fill="#30f830" />
<line x1="131.4" y1="177.4" x2="131.4" y2="178.9" stroke="#30f830" stroke-width="0.7" />
<rect x="130.55" y="200.3" width="1.7" height="1.7" rx="0" stroke="none" stroke-width="0" fill="#30f830" />
<line x1="131.4" y1="199.5" x2="131.4" y2="201" stroke="#30f830" stroke-width="0.7" />
<rect x="121.55" y="176.4" width="1.7" height="1.7" rx="0" stroke="none" stroke-width="0" fill="#30f830" />
<line x1="122.4" y1="177.4" x2="122.4" y2="178.9" stroke="#30f830" stroke-width="0.7" />
<rect x="121.55" y="200.3" width="1.7" height="1.7" rx="0" stroke="none" stroke-width="0" fill="#30f830" />
<line x1="122.4" y1="199.5" x2="122.4" y2="201" stroke="#30f830" stroke-width="0.7" />
<rect x="62.6" y="208.17" width="1.7" height="1.7" rx="0" stroke="none" stroke-width="0" fill="#30f830" />
<rect x="112.7" y="208.17" width="1.7" height="1.7" rx="0" stroke="none" stroke-width="0" fill="#30f830" />
<rect x="62.6" y="223.37" width="1.7" height="1.7" rx="0" stroke="none" stroke-width="0" fill="#30f830" />
<rect x="112.7" y="223.37" width="1.7" height="1.7" rx="0" stroke="none" stroke-width="0" fill="#30f830" />
<rect x="64.4" y="206.82" width="2.1" height="19.6" rx="0" stroke="none" stroke-width="0" fill="#c8ffc8" />
<line x1="68.4" y1="206.82" x2="68.4" y2="226.42" stroke="#30f830" stroke-width="0.8" />
<rect x="64.1" y="206.32" width="48.8" height="20.6" rx="0.6" stroke="#30f830" stroke-width="0.9" fill="none" />
<rect x="66.65" y="203.82" width="1.7" height="1.7" rx="0" stroke="none" stroke-width="0" fill="#30f830" />
<line x1="67.5" y1="204.82" x2="67.5" y2="206.32" stroke="#30f830" stroke-width="0.7" />
<rect x="66.65" y="227.72" width="1.7" height="1.7" rx="0" stroke="none" stroke-width="0" fill="#30f830" />
<line x1="67.5" y1="226.92" x2="67.5" y2="228.42" stroke="#30f830" stroke-width="0.7" />
<rect x="75.55" y="203.82" width="1.7" height="1.7" rx="0" stroke="none" stroke-width="0" fill="#30f830" />
<line x1="76.4" y1="204.82" x2="76.4" y2="206.32" stroke="#30f830" stroke-width="0.7" />
<rect x="75.55" y="227.72" width="1.7" height="1.7" rx="0" stroke="none" stroke-width="0" fill="#30f830" />
<line x1="76.4" y1="226.92" x2="76.4" y2="228.42" stroke="#30f830" stroke-width="0.7" />
<rect x="82.05" y="203.82" width="1.7" height="1.7" rx="0" stroke="none" stroke-width="0" fill="#30f830" />
<line x1="82.9" y1="204.82" x2="82.9" y2="206.32" stroke="#30f830" stroke-width="0.7" />
<rect x="82.05" y="227.72" width="1.7" height="1.7" rx="0" stroke="none" stroke-width="0" fill="#30f830" />
<line x1="82.9" y1="226.92" x2="82.9" y2="228.42" stroke="#30f830" stroke-width="0.7" />
<rect x="92.95" y="203.82" width="1.7" height="1.7" rx="0" stroke="none" stroke-width="0" fill="#30f830" />
<line x1="93.8" y1="204.82" x2="93.8" y2="206.32" stroke="#30f830" stroke-width="0.7" />
<rect x="92.95" y="227.72" width="1.7" height="1.7" rx="0" stroke="none" stroke-width="0" fill="#30f830" />
<line x1="93.8" y1="226.92" x2="93.8" y2="228.42" stroke="#30f830" stroke-width="0.7" />
<rect x="99.75" y="203.82" width="1.7" height="1.7" rx="0" stroke="none" stroke-width="0" fill="#30f830" />
<line x1="100.6" y1="204.82" x2="100.6" y2="206.32" stroke="#30f830" stroke-width="0.7" />
<rect x="99.75" y="227.72" width="1.7" height="1.7" rx="0" stroke="none" stroke-width="0" fill="#30f830" />
<line x1="100.6" y1="226.92" x2="100.6" y2="228.42" stroke="#30f830" stroke-width="0.7" />
<rect x="108.75" y="203.82" width="1.7" height="1.7" rx="0" stroke="none" stroke-width="0" fill="#30f830" />
<line x1="109.6" y1="204.82" x2="109.6" y2="206.32" stroke="#30f830" stroke-width="0.7" />
<rect x="108.75" y="227.72" width="1.7" height="1.7" rx="0" stroke="none" stroke-width="0" fill="#30f830" />
<line x1="109.6" y1="226.92" x2="109.6" y2="228.42" stroke="#30f830" stroke-width="0.7" />
<rect x="117.7" y="208.17" width="1.7" height="1.7" rx="0" stroke="none" stroke-width="0" fill="#30f830" />
<rect x="167.8" y="208.17" width="1.7" height="1.7" rx="0" stroke="none" stroke-width="0" fill="#30f830" />
<rect x="117.7" y="223.37" width="1.7" height="1.7" rx="0" stroke="none" stroke-width="0" fill="#30f830" />
<rect x="167.8" y="223.37" width="1.7" height="1.7" rx="0" stroke="none" stroke-width="0" fill="#30f830" />
<rect x="165.6" y="206.82" width="2.1" height="19.6" rx="0" stroke="none" stroke-width="0" fill="#c8ffc8" />
<line x1="163.7" y1="206.82" x2="163.7" y2="226.42" stroke="#30f830" stroke-width="0.8" />
<rect x="119.2" y="206.32" width="48.8" height="20.6" rx="0.6" stroke="#30f830" stroke-width="0.9" fill="none" />
<rect x="163.65" y="203.82" width="1.7" height="1.7" rx="0" stroke="none" stroke-width="0" fill="#30f830" />
<line x1="164.5" y1="204.82" x2="164.5" y2="206.32" stroke="#30f830" stroke-width="0.7" />
<rect x="163.65" y="227.72" width="1.7" height="1.7" rx="0" stroke="none" stroke-width="0" fill="#30f830" />
<line x1="164.5" y1="226.92" x2="164.5" y2="228.42" stroke="#30f830" stroke-width="0.7" />
<rect x="154.75" y="203.82" width="1.7" height="1.7" rx="0" stroke="none" stroke-width="0" fill="#30f830" />
<line x1="155.6" y1="204.82" x2="155.6" y2="206.32" stroke="#30f830" stroke-width="0.7" />
<rect x="154.75" y="227.72" width="1.7" height="1.7" rx="0" stroke="none" stroke-width="0" fill="#30f830" />
<line x1="155.6" y1="226.92" x2="155.6" y2="228.42" stroke="#30f830" stroke-width="0.7" />
<rect x="148.25" y="203.82" width="1.7" height="1.7" rx="0" stroke="none" stroke-width="0" fill="#30f830" />
<line x1="149.1" y1="204.82" x2="149.1" y2="206.32" stroke="#30f830" stroke-width="0.7" />
<rect x="148.25" y="227.72" width="1.7" height="1.7" rx="0" stroke="none" stroke-width="0" fill="#30f830" />
<line x1="149.1" y1="226.92" x2="149.1" y2="228.42" stroke="#30f830" stroke-width="0.7" />
<rect x="137.35" y="203.82" width="1.7" height="1.7" rx="0" stroke="none" stroke-width="0" fill="#30f830" />
<line x1="138.2" y1="204.82" x2="138.2" y2="206.32" stroke="#30f830" stroke-width="0.7" />
<rect x="137.35" y="227.72" width="1.7" height="1.7" rx="0" stroke="none" stroke-width="0" fill="#30f830" />
<line x1="138.2" y1="226.92" x2="138.2" y2="228.42" stroke="#30f830" stroke-width="0.7" />
<rect x="130.55" y="203.82" width="1.7" height="1.7" rx="0" stroke="none" stroke-width="0" fill="#30f830" />
<line x1="131.4" y1="204.82" x2="131.4" y2="206.32" stroke="#30f830" stroke-width="0.7" />
<rect x="130.55" y="227.72" width="1.7" height="1.7" rx="0" stroke="none" stroke-width="0" fill="#30f830" />
<line x1="131.4" y1="226.92" x2="131.4" y2="228.42" stroke="#30f830" stroke-width="0.7" />
<rect x="121.55" y="203.82" width="1.7" height="1.7" rx="0" stroke="none" stroke-width="0" fill="#30f830" />
<line x1="122.4" y1="204.82" x2="122.4" y2="206.32" stroke="#30f830" stroke-width="0.7" />
<rect x="121.55" y="227.72" width="1.7" height="1.7" rx="0" stroke="none" stroke-width="0" fill="#30f830" />
<line x1="122.4" y1="226.92" x2="122.4" y2="228.42" stroke="#30f830" stroke-width="0.7" />
<rect x="62.6" y="235.59" width="1.7" height="1.7" rx="0" stroke="none" stroke-width="0" fill="#30f830" />
<rect x="112.7" y="235.59" width="1.7" height="1.7" rx="0" stroke="none" stroke-width="0" fill="#30f830" />
<rect x="62.6" y="250.79" width="1.7" height="1.7" rx="0" stroke="none" stroke-width="0" fill="#30f830" />
<rect x="112.7" y="250.79" width="1.7" height="1.7" rx="0" stroke="none" stroke-width="0" fill="#30f830" />
<rect x="64.4" y="234.24" width="2.1" height="19.6" rx="0" stroke="none" stroke-width="0" fill="#c8ffc8" />
<line x1="68.4" y1="234.24" x2="68.4" y2="253.84" stroke="#30f830" stroke-width="0.8" />
<rect x="64.1" y="233.74" width="48.8" height="20.6" rx="0.6" stroke="#30f830" stroke-width="0.9" fill="none" />
<rect x="66.65" y="231.24" width="1.7" height="1.7" rx="0" stroke="none" stroke-width="0" fill="#30f830" />
<line x1="67.5" y1="232.24" x2="67.5" y2="233.74" stroke="#30f830" stroke-width="0.7" />
<rect x="66.65" y="255.14" width="1.7" height="1.7" rx="0" stroke="none" stroke-width="0" fill="#30f830" />
<line x1="67.5" y1="254.34" x2="67.5" y2="255.84" stroke="#30f830" stroke-width="0.7" />
<rect x="75.55" y="231.24" width="1.7" height="1.7" rx="0" stroke="none" stroke-width="0" fill="#30f830" />
<line x1="76.4" y1="232.24" x2="76.4" y2="233.74" stroke="#30f830" stroke-width="0.7" />
<rect x="75.55" y="255.14" width="1.7" height="1.7" rx="0" stroke="none" stroke-width="0" fill="#30f830" />
<line x1="76.4" y1="254.34" x2="76.4" y2="255.84" stroke="#30f830" stroke-width="0.7" />
<rect x="82.05" y="231.24" width="1.7" height="1.7" rx="0" stroke="none" stroke-width="0" fill="#30f830" />
<line x1="82.9" y1="232.24" x2="82.9" y2="233.74" stroke="#30f830" stroke-width="0.7" />
<rect x="82.05" y="255.14" width="1.7" height="1.7" rx="0" stroke="none" stroke-width="0" fill="#30f830" />
<line x1="82.9" y1="254.34" x2="82.9" y2="255.84" stroke="#30f830" stroke-width="0.7" />
<rect x="92.95" y="231.24" width="1.7" height="1.7" rx="0" stroke="none" stroke-width="0" fill="#30f830" />
<line x1="93.8" y1="232.24" x2="93.8" y2="233.74" stroke="#30f830" stroke-width="0.7" />
<rect x="92.95" y="255.14" width="1.7" height="1.7" rx="0" stroke="none" stroke-width="0" fill="#30f830" />
<line x1="93.8" y1="254.34" x2="93.8" y2="255.84" stroke="#30f830" stroke-width="0.7" />
<rect x="99.75" y="231.24" width="1.7" height="1.7" rx="0" stroke="none" stroke-width="0" fill="#30f830" />
<line x1="100.6" y1="232.24" x2="100.6" y2="233.74" stroke="#30f830" stroke-width="0.7" />
<rect x="99.75" y="255.14" width="1.7" height="1.7" rx="0" stroke="none" stroke-width="0" fill="#30f830" />
<line x1="100.6" y1="254.34" x2="100.6" y2="255.84" stroke="#30f830" stroke-width="0.7" />
<rect x="108.75" y="231.24" width="1.7" height="1.7" rx="0" stroke="none" stroke-width="0" fill="#30f830" />
<line x1="109.6" y1="232.24" x2="109.6" y2="233.74" stroke="#30f830" stroke-width="0.7" />
<rect x="108.75" y="255.14" width="1.7" height="1.7" rx="0" stroke="none" stroke-width="0" fill="#30f830" />
<line x1="109.6" y1="254.34" x2="109.6" y2="255.84" stroke="#30f830" stroke-width="0.7" />
<rect x="117.7" y="235.59" width="1.7" height="1.7" rx="0" stroke="none" stroke-width="0" fill="#30f830" />
<rect x="167.8" y="235.59" width="1.7" height="1.7" rx="0" stroke="none" stroke-width="0" fill="#30f830" />
<rect x="117.7" y="250.79" width="1.7" height="1.7" rx="0" stroke="none" stroke-width="0" fill="#30f830" />
<rect x="167.8" y="250.79" width="1.7" height="1.7" rx="0" stroke="none" stroke-width="0" fill="#30f830" />
<rect x="165.6" y="234.24" width="2.1" height="19.6" rx="0" stroke="none" stroke-width="0" fill="#c8ffc8" />
<line x1="163.7" y1="234.24" x2="163.7" y2="253.84" stroke="#30f830" stroke-width="0.8" />
<rect x="119.2" y="233.74" width="48.8" height="20.6" rx="0.6" stroke="#30f830" stroke-width="0.9" fill="none" />
<rect x="163.65" y="231.24" width="1.7" height="1.7" rx="0" stroke="none" stroke-width="0" fill="#30f830" />
<line x1="164.5" y1="232.24" x2="164.5" y2="233.74" stroke="#30f830" stroke-width="0.7" />
<rect x="163.65" y="255.14" width="1.7" height="1.7" rx="0" stroke="none" stroke-width="0" fill="#30f830" />
<line x1="164.5" y1="254.34" x2="164.5" y2="255.84" stroke="#30f830" stroke-width="0.7" />
<rect x="154.75" y="231.24" width="1.7" height="1.7" rx="0" stroke="none" stroke-width="0" fill="#30f830" />
<line x1="155.6" y1="232.24" x2="155.6" y2="233.74" stroke="#30f830" stroke-width="0.7" />
<rect x="154.75" y="255.14" width="1.7" height="1.7" rx="0" stroke="none" stroke-width="0" fill="#30f830" />
<line x1="155.6" y1="254.34" x2="155.6" y2="255.84" stroke="#30f830" stroke-width="0.7" />
<rect x="148.25" y="231.24" width="1.7" height="1.7" rx="0" stroke="none" stroke-width="0" fill="#30f830" />
<line x1="149.1" y1="232.24" x2="149.1" y2="233.74" stroke="#30f830" stroke-width="0.7" />
<rect x="148.25" y="255.14" width="1.7" height="1.7" rx="0" stroke="none" stroke-width="0" fill="#30f830" />
<line x1="149.1" y1="254.34" x2="149.1" y2="255.84" stroke="#30f830" stroke-width="0.7" />
<rect x="137.35" y="231.24" width="1.7" height="1.7" rx="0" stroke="none" stroke-width="0" fill="#30f830" />
<line x1="138.2" y1="232.24" x2="138.2" y2="233.74" stroke="#30f830" stroke-width="0.7" />
<rect x="137.35" y="255.14" width="1.7" height="1.7" rx="0" stroke="none" stroke-width="0" fill="#30f830" />
<line x1="138.2" y1="254.34" x2="138.2" y2="255.84" stroke="#30f830" stroke-width="0.7" />
<rect x="130.55" y="231.24" width="1.7" height="1.7" rx="0" stroke="none" stroke-width="0" fill="#30f830" />
<line x1="131.4" y1="232.24" x2="131.4" y2="233.74" stroke="#30f830" stroke-width="0.7" />
<rect x="130.55" y="255.14" width="1.7" height="1.7" rx="0" stroke="none" stroke-width="0" fill="#30f830" />
<line x1="131.4" y1="254.34" x2="131.4" y2="255.84" stroke="#30f830" stroke-width="0.7" />
<rect x="121.55" y="231.24" width="1.7" height="1.7" rx="0" stroke="none" stroke-width="0" fill="#30f830" />
<line x1="122.4" y1="232.24" x2="122.4" y2="233.74" stroke="#30f830" stroke-width="0.7" />
<rect x="121.55" y="255.14" width="1.7" height="1.7" rx="0" stroke="none" stroke-width="0" fill="#30f830" />
<line x1="122.4" y1="254.34" x2="122.4" y2="255.84" stroke="#30f830" stroke-width="0.7" />
<rect x="62.6" y="263.01" width="1.7" height="1.7" rx="0" stroke="none" stroke-width="0" fill="#30f830" />
<rect x="112.7" y="263.01" width="1.7" height="1.7" rx="0" stroke="none" stroke-width="0" fill="#30f830" />
<rect x="62.6" y="278.21" width="1.7" height="1.7" rx="0" stroke="none" stroke-width="0" fill="#30f830" />
<rect x="112.7" y="278.21" width="1.7" height="1.7" rx="0" stroke="none" stroke-width="0" fill="#30f830" />
<rect x="64.4" y="261.66" width="2.1" height="19.6" rx="0" stroke="none" stroke-width="0" fill="#c8ffc8" />
<line x1="68.4" y1="261.66" x2="68.4" y2="281.26" stroke="#30f830" stroke-width="0.8" />
<rect x="64.1" y="261.16" width="48.8" height="20.6" rx="0.6" stroke="#30f830" stroke-width="0.9" fill="none" />
<rect x="66.65" y="258.66" width="1.7" height="1.7" rx="0" stroke="none" stroke-width="0" fill="#30f830" />
<line x1="67.5" y1="259.66" x2="67.5" y2="261.16" stroke="#30f830" stroke-width="0.7" />
<rect x="66.65" y="282.56" width="1.7" height="1.7" rx="0" stroke="none" stroke-width="0" fill="#30f830" />
<line x1="67.5" y1="281.76" x2="67.5" y2="283.26" stroke="#30f830" stroke-width="0.7" />
<rect x="75.55" y="258.66" width="1.7" height="1.7" rx="0" stroke="none" stroke-width="0" fill="#30f830" />
<line x1="76.4" y1="259.66" x2="76.4" y2="261.16" stroke="#30f830" stroke-width="0.7" />
<rect x="75.55" y="282.56" width="1.7" height="1.7" rx="0" stroke="none" stroke-width="0" fill="#30f830" />
<line x1="76.4" y1="281.76" x2="76.4" y2="283.26" stroke="#30f830" stroke-width="0.7" />
<rect x="82.05" y="258.66" width="1.7" height="1.7" rx="0" stroke="none" stroke-width="0" fill="#30f830" />
<line x1="82.9" y1="259.66" x2="82.9" y2="261.16" stroke="#30f830" stroke-width="0.7" />
<rect x="82.05" y="282.56" width="1.7" height="1.7" rx="0" stroke="none" stroke-width="0" fill="#30f830" />
<line x1="82.9" y1="281.76" x2="82.9" y2="283.26" stroke="#30f830" stroke-width="0.7" />
<rect x="92.95" y="258.66" width="1.7" height="1.7" rx="0" stroke="none" stroke-width="0" fill="#30f830" />
<line x1="93.8" y1="259.66" x2="93.8" y2="261.16" stroke="#30f830" stroke-width="0.7" />
<rect x="92.95" y="282.56" width="1.7" height="1.7" rx="0" stroke="none" stroke-width="0" fill="#30f830" />
<line x1="93.8" y1="281.76" x2="93.8" y2="283.26" stroke="#30f830" stroke-width="0.7" />
<rect x="99.75" y="258.66" width="1.7" height="1.7" rx="0" stroke="none" stroke-width="0" fill="#30f830" />
<line x1="100.6" y1="259.66" x2="100.6" y2="261.16" stroke="#30f830" stroke-width="0.7" />
<rect x="99.75" y="282.56" width="1.7" height="1.7" rx="0" stroke="none" stroke-width="0" fill="#30f830" />
<line x1="100.6" y1="281.76" x2="100.6" y2="283.26" stroke="#30f830" stroke-width="0.7" />
<rect x="108.75" y="258.66" width="1.7" height="1.7" rx="0" stroke="none" stroke-width="0" fill="#30f830" />
<line x1="109.6" y1="259.66" x2="109.6" y2="261.16" stroke="#30f830" stroke-width="0.7" />
<rect x="108.75" y="282.56" width="1.7" height="1.7" rx="0" stroke="none" stroke-width="0" fill="#30f830" />
<line x1="109.6" y1="281.76" x2="109.6" y2="283.26" stroke="#30f830" stroke-width="0.7" />
<rect x="117.7" y="263.01" width="1.7" height="1.7" rx="0" stroke="none" stroke-width="0" fill="#30f830" />
<rect x="167.8" y="263.01" width="1.7" height="1.7" rx="0" stroke="none" stroke-width="0" fill="#30f830" />
<rect x="117.7" y="278.21" width="1.7" height="1.7" rx="0" stroke="none" stroke-width="0" fill="#30f830" />
<rect x="167.8" y="278.21" width="1.7" height="1.7" rx="0" stroke="none" stroke-width="0" fill="#30f830" />
<rect x="165.6" y="261.66" width="2.1" height="19.6" rx="0" stroke="none" stroke-width="0" fill="#c8ffc8" />
<line x1="163.7" y1="261.66" x2="163.7" y2="281.26" stroke="#30f830" stroke-width="0.8" />
<rect x="119.2" y="261.16" width="48.8" height="20.6" rx="0.6" stroke="#30f830" stroke-width="0.9" fill="none" />
<rect x="163.65" y="258.66" width="1.7" height="1.7" rx="0" stroke="none" stroke-width="0" fill="#30f830" />
<line x1="164.5" y1="259.66" x2="164.5" y2="261.16" stroke="#30f830" stroke-width="0.7" />
<rect x="163.65" y="282.56" width="1.7" height="1.7" rx="0" stroke="none" stroke-width="0" fill="#30f830" />
<line x1="164.5" y1="281.76" x2="164.5" y2="283.26" stroke="#30f830" stroke-width="0.7" />
<rect x="154.75" y="258.66" width="1.7" height="1.7" rx="0" stroke="none" stroke-width="0" fill="#30f830" />
<line x1="155.6" y1="259.66" x2="155.6" y2="261.16" stroke="#30f830" stroke-width="0.7" />
<rect x="154.75" y="282.56" width="1.7" height="1.7" rx="0" stroke="none" stroke-width="0" fill="#30f830" />
<line x1="155.6" y1="281.76" x2="155.6" y2="283.26" stroke="#30f830" stroke-width="0.7" />
<rect x="148.25" y="258.66" width="1.7" height="1.7" rx="0" stroke="none" stroke-width="0" fill="#30f830" />
<line x1="149.1" y1="259.66" x2="149.1" y2="261.16" stroke="#30f830" stroke-width="0.7" />
<rect x="148.25" y="282.56" width="1.7" height="1.7" rx="0" stroke="none" stroke-width="0" fill="#30f830" />
<line x1="149.1" y1="281.76" x2="149.1" y2="283.26" stroke="#30f830" stroke-width="0.7" />
<rect x="137.35" y="258.66" width="1.7" height="1.7" rx="0" stroke="none" stroke-width="0" fill="#30f830" />
<line x1="138.2" y1="259.66" x2="138.2" y2="261.16" stroke="#30f830" stroke-width="0.7" />
<rect x="137.35" y="282.56" width="1.7" height="1.7" rx="0" stroke="none" stroke-width="0" fill="#30f830" />
<line x1="138.2" y1="281.76" x2="138.2" y2="283.26" stroke="#30f830" stroke-width="0.7" />
<rect x="130.55" y="258.66" width="1.7" height="1.7" rx="0" stroke="none" stroke-width="0" fill="#30f830" />
<line x1="131.4" y1="259.66" x2="131.4" y2="261.16" stroke="#30f830" stroke-width="0.7" />
<rect x="130.55" y="282.56" width="1.7" height="1.7" rx="0" stroke="none" stroke-width="0" fill="#30f830" />
<line x1="131.4" y1="281.76" x2="131.4" y2="283.26" stroke="#30f830" stroke-width="0.7" />
<rect x="121.55" y="258.66" width="1.7" height="1.7" rx="0" stroke="none" stroke-width="0" fill="#30f830" />
<line x1="122.4" y1="259.66" x2="122.4" y2="261.16" stroke="#30f830" stroke-width="0.7" />
<rect x="121.55" y="282.56" width="1.7" height="1.7" rx="0" stroke="none" stroke-width="0" fill="#30f830" />
<line x1="122.4" y1="281.76" x2="122.4" y2="283.26" stroke="#30f830" stroke-width="0.7" />
<rect x="62.6" y="290.43" width="1.7" height="1.7" rx="0" stroke="none" stroke-width="0" fill="#30f830" />
<rect x="112.7" y="290.43" width="1.7" height="1.7" rx="0" stroke="none" stroke-width="0" fill="#30f830" />
<rect x="62.6" y="305.63" width="1.7" height="1.7" rx="0" stroke="none" stroke-width="0" fill="#30f830" />
<rect x="112.7" y="305.63" width="1.7" height="1.7" rx="0" stroke="none" stroke-width="0" fill="#30f830" />
<rect x="64.4" y="289.08" width="2.1" height="19.6" rx="0" stroke="none" stroke-width="0" fill="#c8ffc8" />
<line x1="68.4" y1="289.08" x2="68.4" y2="308.68" stroke="#30f830" stroke-width="0.8" />
<rect x="64.1" y="288.58" width="48.8" height="20.6" rx="0.6" stroke="#30f830" stroke-width="0.9" fill="none" />
<rect x="66.65" y="286.08" width="1.7" height="1.7" rx="0" stroke="none" stroke-width="0" fill="#30f830" />
<line x1="67.5" y1="287.08" x2="67.5" y2="288.58" stroke="#30f830" stroke-width="0.7" />
<rect x="66.65" y="309.98" width="1.7" height="1.7" rx="0" stroke="none" stroke-width="0" fill="#30f830" />
<line x1="67.5" y1="309.18" x2="67.5" y2="310.68" stroke="#30f830" stroke-width="0.7" />
<rect x="75.55" y="286.08" width="1.7" height="1.7" rx="0" stroke="none" stroke-width="0" fill="#30f830" />
<line x1="76.4" y1="287.08" x2="76.4" y2="288.58" stroke="#30f830" stroke-width="0.7" />
<rect x="75.55" y="309.98" width="1.7" height="1.7" rx="0" stroke="none" stroke-width="0" fill="#30f830" />
<line x1="76.4" y1="309.18" x2="76.4" y2="310.68" stroke="#30f830" stroke-width="0.7" />
<rect x="82.05" y="286.08" width="1.7" height="1.7" rx="0" stroke="none" stroke-width="0" fill="#30f830" />
<line x1="82.9" y1="287.08" x2="82.9" y2="288.58" stroke="#30f830" stroke-width="0.7" />
<rect x="82.05" y="309.98" width="1.7" height="1.7" rx="0" stroke="none" stroke-width="0" fill="#30f830" />
<line x1="82.9" y1="309.18" x2="82.9" y2="310.68" stroke="#30f830" stroke-width="0.7" />
<rect x="92.95" y="286.08" width="1.7" height="1.7" rx="0" stroke="none" stroke-width="0" fill="#30f830" />
<line x1="93.8" y1="287.08" x2="93.8" y2="288.58" stroke="#30f830" stroke-width="0.7" />
<rect x="92.95" y="309.98" width="1.7" height="1.7" rx="0" stroke="none" stroke-width="0" fill="#30f830" />
<line x1="93.8" y1="309.18" x2="93.8" y2="310.68" stroke="#30f830" stroke-width="0.7" />
<rect x="99.75" y="286.08" width="1.7" height="1.7" rx="0" stroke="none" stroke-width="0" fill="#30f830" />
<line x1="100.6" y1="287.08" x2="100.6" y2="288.58" stroke="#30f830" stroke-width="0.7" />
<rect x="99.75" y="309.98" width="1.7" height="1.7" rx="0" stroke="none" stroke-width="0" fill="#30f830" />
<line x1="100.6" y1="309.18" x2="100.6" y2="310.68" stroke="#30f830" stroke-width="0.7" />
<rect x="108.75" y="286.08" width="1.7" height="1.7" rx="0" stroke="none" stroke-width="0" fill="#30f830" />
<line x1="109.6" y1="287.08" x2="109.6" y2="288.58" stroke="#30f830" stroke-width="0.7" />
<rect x="108.75" y="309.98" width="1.7" height="1.7" rx="0" stroke="none" stroke-width="0" fill="#30f830" />
<line x1="109.6" y1="309.18" x2="109.6" y2="310.68" stroke="#30f830" stroke-width="0.7" />
<rect x="117.7" y="290.43" width="1.7" height="1.7" rx="0" stroke="none" stroke-width="0" fill="#30f830" />
<rect x="167.8" y="290.43" width="1.7" height="1.7" rx="0" stroke="none" stroke-width="0" fill="#30f830" />
<rect x="117.7" y="305.63" width="1.7" height="1.7" rx="0" stroke="none" stroke-width="0" fill="#30f830" />
<rect x="167.8" y="305.63" width="1.7" height="1.7" rx="0" stroke="none" stroke-width="0" fill="#30f830" />
<rect x="165.6" y="289.08" width="2.1" height="47.02" rx="0" stroke="none" stroke-width="0" fill="#c8ffc8" />
<line x1="163.7" y1="289.08" x2="163.7" y2="336.1" stroke="#30f830" stroke-width="0.8" />
<rect x="119.2" y="288.58" width="48.8" height="48.02" rx="0.6" stroke="#30f830" stroke-width="0.9" fill="none" />
<rect x="163.65" y="286.08" width="1.7" height="1.7" rx="0" stroke="none" stroke-width="0" fill="#30f830" />
<line x1="164.5" y1="287.08" x2="164.5" y2="288.58" stroke="#30f830" stroke-width="0.7" />
<rect x="163.65" y="337.4" width="1.7" height="1.7" rx="0" stroke="none" stroke-width="0" fill="#30f830" />
<line x1="164.5" y1="336.6" x2="164.5" y2="338.1" stroke="#30f830" stroke-width="0.7" />
<rect x="154.75" y="286.08" width="1.7" height="1.7" rx="0" stroke="none" stroke-width="0" fill="#30f830" />
<line x1="155.6" y1="287.08" x2="155.6" y2="288.58" stroke="#30f830" stroke-width="0.7" />
<rect x="154.75" y="337.4" width="1.7" height="1.7" rx="0" stroke="none" stroke-width="0" fill="#30f830" />
<line x1="155.6" y1="336.6" x2="155.6" y2="338.1" stroke="#30f830" stroke-width="0.7" />
<rect x="148.25" y="286.08" width="1.7" height="1.7" rx="0" stroke="none" stroke-width="0" fill="#30f830" />
<line x1="149.1" y1="287.08" x2="149.1" y2="288.58" stroke="#30f830" stroke-width="0.7" />
<rect x="148.25" y="337.4" width="1.7" height="1.7" rx="0" stroke="none" stroke-width="0" fill="#30f830" />
<line x1="149.1" y1="336.6" x2="149.1" y2="338.1" stroke="#30f830" stroke-width="0.7" />
<rect x="137.35" y="286.08" width="1.7" height="1.7" rx="0" stroke="none" stroke-width="0" fill="#30f830" />
<line x1="138.2" y1="287.08" x2="138.2" y2="288.58" stroke="#30f830" stroke-width="0.7" />
<rect x="137.35" y="337.4" width="1.7" height="1.7" rx="0" stroke="none" stroke-width="0" fill="#30f830" />
<line x1="138.2" y1="336.6" x2="138.2" y2="338.1" stroke="#30f830" stroke-width="0.7" />
<rect x="130.55" y="286.08" width="1.7" height="1.7" rx="0" stroke="none" stroke-width="0" fill="#30f830" />
<line x1="131.4" y1="287.08" x2="131.4" y2="288.58" stroke="#30f830" stroke-width="0.7" />
<rect x="130.55" y="337.4" width="1.7" height="1.7" rx="0" stroke="none" stroke-width="0" fill="#30f830" />
<line x1="131.4" y1="336.6" x2="131.4" y2="338.1" stroke="#30f830" stroke-width="0.7" />
<rect x="121.55" y="286.08" width="1.7" height="1.7" rx="0" stroke="none" stroke-width="0" fill="#30f830" />
<line x1="122.4" y1="287.08" x2="122.4" y2="288.58" stroke="#30f830" stroke-width="0.7" />
<rect x="121.55" y="337.4" width="1.7" height="1.7" rx="0" stroke="none" stroke-width="0" fill="#30f830" />
<line x1="122.4" y1="336.6" x2="122.4" y2="338.1" stroke="#30f830" stroke-width="0.7" />
<rect x="62.6" y="317.85" width="1.7" height="1.7" rx="0" stroke="none" stroke-width="0" fill="#30f830" />
<rect x="112.7" y="317.85" width="1.7" height="1.7" rx="0" stroke="none" stroke-width="0" fill="#30f830" />
<rect x="62.6" y="333.05" width="1.7" height="1.7" rx="0" stroke="none" stroke-width="0" fill="#30f830" />
<rect x="112.7" y="333.05" width="1.7" height="1.7" rx="0" stroke="none" stroke-width="0" fill="#30f830" />
<rect x="64.4" y="316.5" width="2.1" height="19.6" rx="0" stroke="none" stroke-width="0" fill="#c8ffc8" />
<line x1="68.4" y1="316.5" x2="68.4" y2="336.1" stroke="#30f830" stroke-width="0.8" />
<rect x="64.1" y="316" width="48.8" height="20.6" rx="0.6" stroke="#30f830" stroke-width="0.9" fill="none" />
<rect x="66.65" y="313.5" width="1.7" height="1.7" rx="0" stroke="none" stroke-width="0" fill="#30f830" />
<line x1="67.5" y1="314.5" x2="67.5" y2="316" stroke="#30f830" stroke-width="0.7" />
<rect x="66.65" y="337.4" width="1.7" height="1.7" rx="0" stroke="none" stroke-width="0" fill="#30f830" />
<line x1="67.5" y1="336.6" x2="67.5" y2="338.1" stroke="#30f830" stroke-width="0.7" />
<rect x="75.55" y="313.5" width="1.7" height="1.7" rx="0" stroke="none" stroke-width="0" fill="#30f830" />
<line x1="76.4" y1="314.5" x2="76.4" y2="316" stroke="#30f830" stroke-width="0.7" />
<rect x="75.55" y="337.4" width="1.7" height="1.7" rx="0" stroke="none" stroke-width="0" fill="#30f830" />
<line x1="76.4" y1="336.6" x2="76.4" y2="338.1" stroke="#30f830" stroke-width="0.7" />
<rect x="82.05" y="313.5" width="1.7" height="1.7" rx="0" stroke="none" stroke-width="0" fill="#30f830" />
<line x1="82.9" y1="314.5" x2="82.9" y2="316" stroke="#30f830" stroke-width="0.7" />
<rect x="82.05" y="337.4" width="1.7" height="1.7" rx="0" stroke="none" stroke-width="0" fill="#30f830" />
<line x1="82.9" y1="336.6" x2="82.9" y2="338.1" stroke="#30f830" stroke-width="0.7" />
<rect x="92.95" y="313.5" width="1.7" height="1.7" rx="0" stroke="none" stroke-width="0" fill="#30f830" />
<line x1="93.8" y1="314.5" x2="93.8" y2="316" stroke="#30f830" stroke-width="0.7" />
<rect x="92.95" y="337.4" width="1.7" height="1.7" rx="0" stroke="none" stroke-width="0" fill="#30f830" />
<line x1="93.8" y1="336.6" x2="93.8" y2="338.1" stroke="#30f830" stroke-width="0.7" />
<rect x="99.75" y="313.5" width="1.7" height="1.7" rx="0" stroke="none" stroke-width="0" fill="#30f830" />
<line x1="100.6" y1="314.5" x2="100.6" y2="316" stroke="#30f830" stroke-width="0.7" />
<rect x="99.75" y="337.4" width="1.7" height="1.7" rx="0" stroke="none" stroke-width="0" fill="#30f830" />
<line x1="100.6" y1="336.6" x2="100.6" y2="338.1" stroke="#30f830" stroke-width="0.7" />
<rect x="108.75" y="313.5" width="1.7" height="1.7" rx="0" stroke="none" stroke-width="0" fill="#30f830" />
<line x1="109.6" y1="314.5" x2="109.6" y2="316" stroke="#30f830" stroke-width="0.7" />
<rect x="108.75" y="337.4" width="1.7" height="1.7" rx="0" stroke="none" stroke-width="0" fill="#30f830" />
<line x1="109.6" y1="336.6" x2="109.6" y2="338.1" stroke="#30f830" stroke-width="0.7" />
<rect x="117.7" y="317.85" width="1.7" height="1.7" rx="0" stroke="none" stroke-width="0" fill="#30f830" />
<rect x="167.8" y="317.85" width="1.7" height="1.7" rx="0" stroke="none" stroke-width="0" fill="#30f830" />
<rect x="117.7" y="333.05" width="1.7" height="1.7" rx="0" stroke="none" stroke-width="0" fill="#30f830" />
<rect x="167.8" y="333.05" width="1.7" height="1.7" rx="0" stroke="none" stroke-width="0" fill="#30f830" />
<rect x="62.6" y="345.27" width="1.7" height="1.7" rx="0" stroke="none" stroke-width="0" fill="#30f830" />
<rect x="112.7" y="345.27" width="1.7" height="1.7" rx="0" stroke="none" stroke-width="0" fill="#30f830" />
<rect x="62.6" y="360.47" width="1.7" height="1.7" rx="0" stroke="none" stroke-width="0" fill="#30f830" />
<rect x="112.7" y="360.47" width="1.7" height="1.7" rx="0" stroke="none" stroke-width="0" fill="#30f830" />
<rect x="64.4" y="343.92" width="2.1" height="19.6" rx="0" stroke="none" stroke-width="0" fill="#c8ffc8" />
<line x1="68.4" y1="343.92" x2="68.4" y2="363.52" stroke="#30f830" stroke-width="0.8" />
<rect x="64.1" y="343.42" width="48.8" height="20.6" rx="0.6" stroke="#30f830" stroke-width="0.9" fill="none" />
<rect x="66.65" y="340.92" width="1.7" height="1.7" rx="0" stroke="none" stroke-width="0" fill="#30f830" />
<line x1="67.5" y1="341.92" x2="67.5" y2="343.42" stroke="#30f830" stroke-width="0.7" />
<rect x="66.65" y="364.82" width="1.7" height="1.7" rx="0" stroke="none" stroke-width="0" fill="#30f830" />
<line x1="67.5" y1="364.02" x2="67.5" y2="365.52" stroke="#30f830" stroke-width="0.7" />
<rect x="75.55" y="340.92" width="1.7" height="1.7" rx="0" stroke="none" stroke-width="0" fill="#30f830" />
<line x1="76.4" y1="341.92" x2="76.4" y2="343.42" stroke="#30f830" stroke-width="0.7" />
<rect x="75.55" y="364.82" width="1.7" height="1.7" rx="0" stroke="none" stroke-width="0" fill="#30f830" />
<line x1="76.4" y1="364.02" x2="76.4" y2="365.52" stroke="#30f830" stroke-width="0.7" />
<rect x="82.05" y="340.92" width="1.7" height="1.7" rx="0" stroke="none" stroke-width="0" fill="#30f830" />
<line x1="82.9" y1="341.92" x2="82.9" y2="343.42" stroke="#30f830" stroke-width="0.7" />
<rect x="82.05" y="364.82" width="1.7" height="1.7" rx="0" stroke="none" stroke-width="0" fill="#30f830" />
<line x1="82.9" y1="364.02" x2="82.9" y2="365.52" stroke="#30f830" stroke-width="0.7" />
<rect x="92.95" y="340.92" width="1.7" height="1.7" rx="0" stroke="none" stroke-width="0" fill="#30f830" />
<line x1="93.8" y1="341.92" x2="93.8" y2="343.42" stroke="#30f830" stroke-width="0.7" />
<rect x="92.95" y="364.82" width="1.7" height="1.7" rx="0" stroke="none" stroke-width="0" fill="#30f830" />
<line x1="93.8" y1="364.02" x2="93.8" y2="365.52" stroke="#30f830" stroke-width="0.7" />
<rect x="99.75" y="340.92" width="1.7" height="1.7" rx="0" stroke="none" stroke-width="0" fill="#30f830" />
<line x1="100.6" y1="341.92" x2="100.6" y2="343.42" stroke="#30f830" stroke-width="0.7" />
<rect x="99.75" y="364.82" width="1.7" height="1.7" rx="0" stroke="none" stroke-width="0" fill="#30f830" />
<line x1="100.6" y1="364.02" x2="100.6" y2="365.52" stroke="#30f830" stroke-width="0.7" />
<rect x="108.75" y="340.92" width="1.7" height="1.7" rx="0" stroke="none" stroke-width="0" fill="#30f830" />
<line x1="109.6" y1="341.92" x2="109.6" y2="343.42" stroke="#30f830" stroke-width="0.7" />
<rect x="108.75" y="364.82" width="1.7" height="1.7" rx="0" stroke="none" stroke-width="0" fill="#30f830" />
<line x1="109.6" y1="364.02" x2="109.6" y2="365.52" stroke="#30f830" stroke-width="0.7" />
<rect x="117.7" y="345.27" width="1.7" height="1.7" rx="0" stroke="none" stroke-width="0" fill="#30f830" />
<rect x="167.8" y="345.27" width="1.7" height="1.7" rx="0" stroke="none" stroke-width="0" fill="#30f830" />
<rect x="117.7" y="360.47" width="1.7" height="1.7" rx="0" stroke="none" stroke-width="0" fill="#30f830" />
<rect x="167.8" y="360.47" width="1.7" height="1.7" rx="0" stroke="none" stroke-width="0" fill="#30f830" />
<rect x="165.6" y="343.92" width="2.1" height="19.6" rx="0" stroke="none" stroke-width="0" fill="#c8ffc8" />
<line x1="163.7" y1="343.92" x2="163.7" y2="363.52" stroke="#30f830" stroke-width="0.8" />
<rect x="119.2" y="343.42" width="48.8" height="20.6" rx="0.6" stroke="#30f830" stroke-width="0.9" fill="none" />
<rect x="163.65" y="340.92" width="1.7" height="1.7" rx="0" stroke="none" stroke-width="0" fill="#30f830" />
<line x1="164.5" y1="341.92" x2="164.5" y2="343.42" stroke="#30f830" stroke-width="0.7" />
<rect x="163.65" y="364.82" width="1.7" height="1.7" rx="0" stroke="none" stroke-width="0" fill="#30f830" />
<line x1="164.5" y1="364.02" x2="164.5" y2="365.52" stroke="#30f830" stroke-width="0.7" />
<rect x="154.75" y="340.92" width="1.7" height="1.7" rx="0" stroke="none" stroke-width="0" fill="#30f830" />
<line x1="155.6" y1="341.92" x2="155.6" y2="343.42" stroke="#30f830" stroke-width="0.7" />
<rect x="154.75" y="364.82" width="1.7" height="1.7" rx="0" stroke="none" stroke-width="0" fill="#30f830" />
<line x1="155.6" y1="364.02" x2="155.6" y2="365.52" stroke="#30f830" stroke-width="0.7" />
<rect x="148.25" y="340.92" width="1.7" height="1.7" rx="0" stroke="none" stroke-width="0" fill="#30f830" />
<line x1="149.1" y1="341.92" x2="149.1" y2="343.42" stroke="#30f830" stroke-width="0.7" />
<rect x="148.25" y="364.82" width="1.7" height="1.7" rx="0" stroke="none" stroke-width="0" fill="#30f830" />
<line x1="149.1" y1="364.02" x2="149.1" y2="365.52" stroke="#30f830" stroke-width="0.7" />
<rect x="137.35" y="340.92" width="1.7" height="1.7" rx="0" stroke="none" stroke-width="0" fill="#30f830" />
<line x1="138.2" y1="341.92" x2="138.2" y2="343.42" stroke="#30f830" stroke-width="0.7" />
<rect x="137.35" y="364.82" width="1.7" height="1.7" rx="0" stroke="none" stroke-width="0" fill="#30f830" />
<line x1="138.2" y1="364.02" x2="138.2" y2="365.52" stroke="#30f830" stroke-width="0.7" />
<rect x="130.55" y="340.92" width="1.7" height="1.7" rx="0" stroke="none" stroke-width="0" fill="#30f830" />
<line x1="131.4" y1="341.92" x2="131.4" y2="343.42" stroke="#30f830" stroke-width="0.7" />
<rect x="130.55" y="364.82" width="1.7" height="1.7" rx="0" stroke="none" stroke-width="0" fill="#30f830" />
<line x1="131.4" y1="364.02" x2="131.4" y2="365.52" stroke="#30f830" stroke-width="0.7" />
<rect x="121.55" y="340.92" width="1.7" height="1.7" rx="0" stroke="none" stroke-width="0" fill="#30f830" />
<line x1="122.4" y1="341.92" x2="122.4" y2="343.42" stroke="#30f830" stroke-width="0.7" />
<rect x="121.55" y="364.82" width="1.7" height="1.7" rx="0" stroke="none" stroke-width="0" fill="#30f830" />
<line x1="122.4" y1="364.02" x2="122.4" y2="365.52" stroke="#30f830" stroke-width="0.7" />
<rect x="64.6" y="42.4" width="47.8" height="3" rx="0" stroke="none" stroke-width="0" fill="#b8ffb8" />
<rect x="119.7" y="42.4" width="47.8" height="3" rx="0" stroke="none" stroke-width="0" fill="#b8ffb8" />
<line x1="67.5" y1="45.6" x2="112.9" y2="45.6" stroke="#30f830" stroke-width="0.9" />
<line x1="119.2" y1="45.6" x2="164.7" y2="45.6" stroke="#30f830" stroke-width="0.9" />
<circle cx="71.3" cy="49" r="1.25" stroke="none" stroke-width="0" fill="#000"/>
<circle cx="160.4" cy="49" r="1.25" stroke="none" stroke-width="0" fill="#000"/>
<rect x="98.55" y="98.35" width="3.3" height="1.3" rx="0.6" stroke="none" stroke-width="0" fill="#000" />
<rect x="103.75" y="98.35" width="3.3" height="1.3" rx="0.6" stroke="none" stroke-width="0" fill="#000" />
<rect x="108.95" y="98.35" width="3.3" height="1.3" rx="0.6" stroke="none" stroke-width="0" fill="#000" />
<rect x="119.35" y="98.35" width="3.3" height="1.3" rx="0.6" stroke="none" stroke-width="0" fill="#000" />
<rect x="124.55" y="98.35" width="3.3" height="1.3" rx="0.6" stroke="none" stroke-width="0" fill="#000" />
<rect x="129.75" y="98.35" width="3.3" height="1.3" rx="0.6" stroke="none" stroke-width="0" fill="#000" />
<rect x="95.95" y="100.92" width="3.3" height="1.3" rx="0.6" stroke="none" stroke-width="0" fill="#000" />
<rect x="101.15" y="100.92" width="3.3" height="1.3" rx="0.6" stroke="none" stroke-width="0" fill="#000" />
<rect x="106.35" y="100.92" width="3.3" height="1.3" rx="0.6" stroke="none" stroke-width="0" fill="#000" />
<rect x="121.95" y="100.92" width="3.3" height="1.3" rx="0.6" stroke="none" stroke-width="0" fill="#000" />
<rect x="127.15" y="100.92" width="3.3" height="1.3" rx="0.6" stroke="none" stroke-width="0" fill="#000" />
<rect x="132.35" y="100.92" width="3.3" height="1.3" rx="0.6" stroke="none" stroke-width="0" fill="#000" />
<rect x="98.55" y="103.49" width="3.3" height="1.3" rx="0.6" stroke="none" stroke-width="0" fill="#000" />
<rect x="103.75" y="103.49" width="3.3" height="1.3" rx="0.6" stroke="none" stroke-width="0" fill="#000" />
<rect x="108.95" y="103.49" width="3.3" height="1.3" rx="0.6" stroke="none" stroke-width="0" fill="#000" />
<rect x="119.35" y="103.49" width="3.3" height="1.3" rx="0.6" stroke="none" stroke-width="0" fill="#000" />
<rect x="124.55" y="103.49" width="3.3" height="1.3" rx="0.6" stroke="none" stroke-width="0" fill="#000" />
<rect x="129.75" y="103.49" width="3.3" height="1.3" rx="0.6" stroke="none" stroke-width="0" fill="#000" />
<rect x="95.95" y="106.06" width="3.3" height="1.3" rx="0.6" stroke="none" stroke-width="0" fill="#000" />
<rect x="101.15" y="106.06" width="3.3" height="1.3" rx="0.6" stroke="none" stroke-width="0" fill="#000" />
<rect x="106.35" y="106.06" width="3.3" height="1.3" rx="0.6" stroke="none" stroke-width="0" fill="#000" />
<rect x="121.95" y="106.06" width="3.3" height="1.3" rx="0.6" stroke="none" stroke-width="0" fill="#000" />
<rect x="127.15" y="106.06" width="3.3" height="1.3" rx="0.6" stroke="none" stroke-width="0" fill="#000" />
<rect x="132.35" y="106.06" width="3.3" height="1.3" rx="0.6" stroke="none" stroke-width="0" fill="#000" />
<rect x="98.55" y="108.63" width="3.3" height="1.3" rx="0.6" stroke="none" stroke-width="0" fill="#000" />
<rect x="103.75" y="108.63" width="3.3" height="1.3" rx="0.6" stroke="none" stroke-width="0" fill="#000" />
<rect x="108.95" y="108.63" width="3.3" height="1.3" rx="0.6" stroke="none" stroke-width="0" fill="#000" />
<rect x="119.35" y="108.63" width="3.3" height="1.3" rx="0.6" stroke="none" stroke-width="0" fill="#000" />
<rect x="124.55" y="108.63" width="3.3" height="1.3" rx="0.6" stroke="none" stroke-width="0" fill="#000" />
<rect x="129.75" y="108.63" width="3.3" height="1.3" rx="0.6" stroke="none" stroke-width="0" fill="#000" />
<rect x="95.95" y="111.2" width="3.3" height="1.3" rx="0.6" stroke="none" stroke-width="0" fill="#000" />
<rect x="101.15" y="111.2" width="3.3" height="1.3" rx="0.6" stroke="none" stroke-width="0" fill="#000" />
<rect x="106.35" y="111.2" width="3.3" height="1.3" rx="0.6" stroke="none" stroke-width="0" fill="#000" />
<rect x="121.95" y="111.2" width="3.3" height="1.3" rx="0.6" stroke="none" stroke-width="0" fill="#000" />
<rect x="127.15" y="111.2" width="3.3" height="1.3" rx="0.6" stroke="none" stroke-width="0" fill="#000" />
<rect x="132.35" y="111.2" width="3.3" height="1.3" rx="0.6" stroke="none" stroke-width="0" fill="#000" />
<rect x="98.55" y="113.77" width="3.3" height="1.3" rx="0.6" stroke="none" stroke-width="0" fill="#000" />
<rect x="103.75" y="113.77" width="3.3" height="1.3" rx="0.6" stroke="none" stroke-width="0" fill="#000" />
<rect x="108.95" y="113.77" width="3.3" height="1.3" rx="0.6" stroke="none" stroke-width="0" fill="#000" />
<rect x="119.35" y="113.77" width="3.3" height="1.3" rx="0.6" stroke="none" stroke-width="0" fill="#000" />
<rect x="124.55" y="113.77" width="3.3" height="1.3" rx="0.6" stroke="none" stroke-width="0" fill="#000" />
<rect x="129.75" y="113.77" width="3.3" height="1.3" rx="0.6" stroke="none" stroke-width="0" fill="#000" />
<rect x="95.95" y="116.34" width="3.3" height="1.3" rx="0.6" stroke="none" stroke-width="0" fill="#000" />
<rect x="101.15" y="116.34" width="3.3" height="1.3" rx="0.6" stroke="none" stroke-width="0" fill="#000" />
<rect x="106.35" y="116.34" width="3.3" height="1.3" rx="0.6" stroke="none" stroke-width="0" fill="#000" />
<rect x="121.95" y="116.34" width="3.3" height="1.3" rx="0.6" stroke="none" stroke-width="0" fill="#000" />
<rect x="127.15" y="116.34" width="3.3" height="1.3" rx="0.6" stroke="none" stroke-width="0" fill="#000" />
<rect x="132.35" y="116.34" width="3.3" height="1.3" rx="0.6" stroke="none" stroke-width="0" fill="#000" />
<rect x="98.55" y="160.85" width="3.3" height="1.3" rx="0.6" stroke="none" stroke-width="0" fill="#000" />
<rect x="103.75" y="160.85" width="3.3" height="1.3" rx="0.6" stroke="none" stroke-width="0" fill="#000" />
<rect x="108.95" y="160.85" width="3.3" height="1.3" rx="0.6" stroke="none" stroke-width="0" fill="#000" />
<rect x="119.35" y="160.85" width="3.3" height="1.3" rx="0.6" stroke="none" stroke-width="0" fill="#000" />
<rect x="124.55" y="160.85" width="3.3" height="1.3" rx="0.6" stroke="none" stroke-width="0" fill="#000" />
<rect x="129.75" y="160.85" width="3.3" height="1.3" rx="0.6" stroke="none" stroke-width="0" fill="#000" />
<rect x="95.95" y="163.42" width="3.3" height="1.3" rx="0.6" stroke="none" stroke-width="0" fill="#000" />
<rect x="101.15" y="163.42" width="3.3" height="1.3" rx="0.6" stroke="none" stroke-width="0" fill="#000" />
<rect x="106.35" y="163.42" width="3.3" height="1.3" rx="0.6" stroke="none" stroke-width="0" fill="#000" />
<rect x="121.95" y="163.42" width="3.3" height="1.3" rx="0.6" stroke="none" stroke-width="0" fill="#000" />
<rect x="127.15" y="163.42" width="3.3" height="1.3" rx="0.6" stroke="none" stroke-width="0" fill="#000" />
<rect x="132.35" y="163.42" width="3.3" height="1.3" rx="0.6" stroke="none" stroke-width="0" fill="#000" />
<rect x="98.55" y="165.99" width="3.3" height="1.3" rx="0.6" stroke="none" stroke-width="0" fill="#000" />
<rect x="103.75" y="165.99" width="3.3" height="1.3" rx="0.6" stroke="none" stroke-width="0" fill="#000" />
<rect x="108.95" y="165.99" width="3.3" height="1.3" rx="0.6" stroke="none" stroke-width="0" fill="#000" />
<rect x="119.35" y="165.99" width="3.3" height="1.3" rx="0.6" stroke="none" stroke-width="0" fill="#000" />
<rect x="124.55" y="165.99" width="3.3" height="1.3" rx="0.6" stroke="none" stroke-width="0" fill="#000" />
<rect x="129.75" y="165.99" width="3.3" height="1.3" rx="0.6" stroke="none" stroke-width="0" fill="#000" />
<rect x="95.95" y="168.56" width="3.3" height="1.3" rx="0.6" stroke="none" stroke-width="0" fill="#000" />
<rect x="101.15" y="168.56" width="3.3" height="1.3" rx="0.6" stroke="none" stroke-width="0" fill="#000" />
<rect x="106.35" y="168.56" width="3.3" height="1.3" rx="0.6" stroke="none" stroke-width="0" fill="#000" />
<rect x="121.95" y="168.56" width="3.3" height="1.3" rx="0.6" stroke="none" stroke-width="0" fill="#000" />
<rect x="127.15" y="168.56" width="3.3" height="1.3" rx="0.6" stroke="none" stroke-width="0" fill="#000" />
<rect x="132.35" y="168.56" width="3.3" height="1.3" rx="0.6" stroke="none" stroke-width="0" fill="#000" />
<rect x="98.55" y="171.13" width="3.3" height="1.3" rx="0.6" stroke="none" stroke-width="0" fill="#000" />
<rect x="103.75" y="171.13" width="3.3" height="1.3" rx="0.6" stroke="none" stroke-width="0" fill="#000" />
<rect x="108.95" y="171.13" width="3.3" height="1.3" rx="0.6" stroke="none" stroke-width="0" fill="#000" />
<rect x="119.35" y="171.13" width="3.3" height="1.3" rx="0.6" stroke="none" stroke-width="0" fill="#000" />
<rect x="124.55" y="171.13" width="3.3" height="1.3" rx="0.6" stroke="none" stroke-width="0" fill="#000" />
<rect x="129.75" y="171.13" width="3.3" height="1.3" rx="0.6" stroke="none" stroke-width="0" fill="#000" />
<rect x="95.95" y="178.95" width="3.3" height="1.3" rx="0.6" stroke="none" stroke-width="0" fill="#000" />
<rect x="101.15" y="178.95" width="3.3" height="1.3" rx="0.6" stroke="none" stroke-width="0" fill="#000" />
<rect x="106.35" y="178.95" width="3.3" height="1.3" rx="0.6" stroke="none" stroke-width="0" fill="#000" />
<rect x="121.95" y="178.95" width="3.3" height="1.3" rx="0.6" stroke="none" stroke-width="0" fill="#000" />
<rect x="127.15" y="178.95" width="3.3" height="1.3" rx="0.6" stroke="none" stroke-width="0" fill="#000" />
<rect x="132.35" y="178.95" width="3.3" height="1.3" rx="0.6" stroke="none" stroke-width="0" fill="#000" />
<rect x="98.55" y="181.52" width="3.3" height="1.3" rx="0.6" stroke="none" stroke-width="0" fill="#000" />
<rect x="103.75" y="181.52" width="3.3" height="1.3" rx="0.6" stroke="none" stroke-width="0" fill="#000" />
<rect x="108.95" y="181.52" width="3.3" height="1.3" rx="0.6" stroke="none" stroke-width="0" fill="#000" />
<rect x="119.35" y="181.52" width="3.3" height="1.3" rx="0.6" stroke="none" stroke-width="0" fill="#000" />
<rect x="124.55" y="181.52" width="3.3" height="1.3" rx="0.6" stroke="none" stroke-width="0" fill="#000" />
<rect x="129.75" y="181.52" width="3.3" height="1.3" rx="0.6" stroke="none" stroke-width="0" fill="#000" />
<rect x="95.95" y="184.09" width="3.3" height="1.3" rx="0.6" stroke="none" stroke-width="0" fill="#000" />
<rect x="101.15" y="184.09" width="3.3" height="1.3" rx="0.6" stroke="none" stroke-width="0" fill="#000" />
<rect x="106.35" y="184.09" width="3.3" height="1.3" rx="0.6" stroke="none" stroke-width="0" fill="#000" />
<rect x="121.95" y="184.09" width="3.3" height="1.3" rx="0.6" stroke="none" stroke-width="0" fill="#000" />
<rect x="127.15" y="184.09" width="3.3" height="1.3" rx="0.6" stroke="none" stroke-width="0" fill="#000" />
<rect x="132.35" y="184.09" width="3.3" height="1.3" rx="0.6" stroke="none" stroke-width="0" fill="#000" />
<rect x="98.55" y="186.66" width="3.3" height="1.3" rx="0.6" stroke="none" stroke-width="0" fill="#000" />
<rect x="103.75" y="186.66" width="3.3" height="1.3" rx="0.6" stroke="none" stroke-width="0" fill="#000" />
<rect x="108.95" y="186.66" width="3.3" height="1.3" rx="0.6" stroke="none" stroke-width="0" fill="#000" />
<rect x="119.35" y="186.66" width="3.3" height="1.3" rx="0.6" stroke="none" stroke-width="0" fill="#000" />
<rect x="124.55" y="186.66" width="3.3" height="1.3" rx="0.6" stroke="none" stroke-width="0" fill="#000" />
<rect x="129.75" y="186.66" width="3.3" height="1.3" rx="0.6" stroke="none" stroke-width="0" fill="#000" />
<rect x="95.95" y="225.85" width="3.3" height="1.3" rx="0.6" stroke="none" stroke-width="0" fill="#000" />
<rect x="101.15" y="225.85" width="3.3" height="1.3" rx="0.6" stroke="none" stroke-width="0" fill="#000" />
<rect x="106.35" y="225.85" width="3.3" height="1.3" rx="0.6" stroke="none" stroke-width="0" fill="#000" />
<rect x="121.95" y="225.85" width="3.3" height="1.3" rx="0.6" stroke="none" stroke-width="0" fill="#000" />
<rect x="127.15" y="225.85" width="3.3" height="1.3" rx="0.6" stroke="none" stroke-width="0" fill="#000" />
<rect x="132.35" y="225.85" width="3.3" height="1.3" rx="0.6" stroke="none" stroke-width="0" fill="#000" />
<rect x="98.55" y="234.55" width="3.3" height="1.3" rx="0.6" stroke="none" stroke-width="0" fill="#000" />
<rect x="103.75" y="234.55" width="3.3" height="1.3" rx="0.6" stroke="none" stroke-width="0" fill="#000" />
<rect x="108.95" y="234.55" width="3.3" height="1.3" rx="0.6" stroke="none" stroke-width="0" fill="#000" />
<rect x="119.35" y="234.55" width="3.3" height="1.3" rx="0.6" stroke="none" stroke-width="0" fill="#000" />
<rect x="124.55" y="234.55" width="3.3" height="1.3" rx="0.6" stroke="none" stroke-width="0" fill="#000" />
<rect x="129.75" y="234.55" width="3.3" height="1.3" rx="0.6" stroke="none" stroke-width="0" fill="#000" />
<rect x="95.95" y="237.15" width="3.3" height="1.3" rx="0.6" stroke="none" stroke-width="0" fill="#000" />
<rect x="101.15" y="237.15" width="3.3" height="1.3" rx="0.6" stroke="none" stroke-width="0" fill="#000" />
<rect x="106.35" y="237.15" width="3.3" height="1.3" rx="0.6" stroke="none" stroke-width="0" fill="#000" />
<rect x="121.95" y="237.15" width="3.3" height="1.3" rx="0.6" stroke="none" stroke-width="0" fill="#000" />
<rect x="127.15" y="237.15" width="3.3" height="1.3" rx="0.6" stroke="none" stroke-width="0" fill="#000" />
<rect x="132.35" y="237.15" width="3.3" height="1.3" rx="0.6" stroke="none" stroke-width="0" fill="#000" />
<rect x="98.55" y="239.75" width="3.3" height="1.3" rx="0.6" stroke="none" stroke-width="0" fill="#000" />
<rect x="103.75" y="239.75" width="3.3" height="1.3" rx="0.6" stroke="none" stroke-width="0" fill="#000" />
<rect x="108.95" y="239.75" width="3.3" height="1.3" rx="0.6" stroke="none" stroke-width="0" fill="#000" />
<rect x="119.35" y="239.75" width="3.3" height="1.3" rx="0.6" stroke="none" stroke-width="0" fill="#000" />
<rect x="124.55" y="239.75" width="3.3" height="1.3" rx="0.6" stroke="none" stroke-width="0" fill="#000" />
<rect x="129.75" y="239.75" width="3.3" height="1.3" rx="0.6" stroke="none" stroke-width="0" fill="#000" />
<rect x="95.95" y="242.35" width="3.3" height="1.3" rx="0.6" stroke="none" stroke-width="0" fill="#000" />
<rect x="101.15" y="242.35" width="3.3" height="1.3" rx="0.6" stroke="none" stroke-width="0" fill="#000" />
<rect x="106.35" y="242.35" width="3.3" height="1.3" rx="0.6" stroke="none" stroke-width="0" fill="#000" />
<rect x="121.95" y="242.35" width="3.3" height="1.3" rx="0.6" stroke="none" stroke-width="0" fill="#000" />
<rect x="127.15" y="242.35" width="3.3" height="1.3" rx="0.6" stroke="none" stroke-width="0" fill="#000" />
<rect x="132.35" y="242.35" width="3.3" height="1.3" rx="0.6" stroke="none" stroke-width="0" fill="#000" />
<rect x="98.55" y="244.95" width="3.3" height="1.3" rx="0.6" stroke="none" stroke-width="0" fill="#000" />
<rect x="103.75" y="244.95" width="3.3" height="1.3" rx="0.6" stroke="none" stroke-width="0" fill="#000" />
<rect x="108.95" y="244.95" width="3.3" height="1.3" rx="0.6" stroke="none" stroke-width="0" fill="#000" />
<rect x="119.35" y="244.95" width="3.3" height="1.3" rx="0.6" stroke="none" stroke-width="0" fill="#000" />
<rect x="124.55" y="244.95" width="3.3" height="1.3" rx="0.6" stroke="none" stroke-width="0" fill="#000" />
<rect x="129.75" y="244.95" width="3.3" height="1.3" rx="0.6" stroke="none" stroke-width="0" fill="#000" />
<rect x="95.95" y="247.55" width="3.3" height="1.3" rx="0.6" stroke="none" stroke-width="0" fill="#000" />
<rect x="101.15" y="247.55" width="3.3" height="1.3" rx="0.6" stroke="none" stroke-width="0" fill="#000" />
<rect x="106.35" y="247.55" width="3.3" height="1.3" rx="0.6" stroke="none" stroke-width="0" fill="#000" />
<rect x="121.95" y="247.55" width="3.3" height="1.3" rx="0.6" stroke="none" stroke-width="0" fill="#000" />
<rect x="127.15" y="247.55" width="3.3" height="1.3" rx="0.6" stroke="none" stroke-width="0" fill="#000" />
<rect x="132.35" y="247.55" width="3.3" height="1.3" rx="0.6" stroke="none" stroke-width="0" fill="#000" />
<rect x="98.55" y="250.15" width="3.3" height="1.3" rx="0.6" stroke="none" stroke-width="0" fill="#000" />
<rect x="103.75" y="250.15" width="3.3" height="1.3" rx="0.6" stroke="none" stroke-width="0" fill="#000" />
<rect x="108.95" y="250.15" width="3.3" height="1.3" rx="0.6" stroke="none" stroke-width="0" fill="#000" />
<rect x="119.35" y="250.15" width="3.3" height="1.3" rx="0.6" stroke="none" stroke-width="0" fill="#000" />
<rect x="124.55" y="250.15" width="3.3" height="1.3" rx="0.6" stroke="none" stroke-width="0" fill="#000" />
<rect x="129.75" y="250.15" width="3.3" height="1.3" rx="0.6" stroke="none" stroke-width="0" fill="#000" />
<rect x="95.95" y="252.75" width="3.3" height="1.3" rx="0.6" stroke="none" stroke-width="0" fill="#000" />
<rect x="101.15" y="252.75" width="3.3" height="1.3" rx="0.6" stroke="none" stroke-width="0" fill="#000" />
<rect x="106.35" y="252.75" width="3.3" height="1.3" rx="0.6" stroke="none" stroke-width="0" fill="#000" />
<rect x="121.95" y="252.75" width="3.3" height="1.3" rx="0.6" stroke="none" stroke-width="0" fill="#000" />
<rect x="127.15" y="252.75" width="3.3" height="1.3" rx="0.6" stroke="none" stroke-width="0" fill="#000" />
<rect x="132.35" y="252.75" width="3.3" height="1.3" rx="0.6" stroke="none" stroke-width="0" fill="#000" />
<line x1="69" y1="264.8" x2="112.3" y2="264.8" stroke="#888" stroke-width="1.7" />
<line x1="122" y1="264.8" x2="164.5" y2="264.8" stroke="#888" stroke-width="1.7" />
<line x1="69.4" y1="266" x2="69.4" y2="282" stroke="#222" stroke-width="0.9" />
<line x1="71" y1="272.6" x2="86.5" y2="272.6" stroke="#888" stroke-width="2.2" />
<line x1="71" y1="280.9" x2="86.5" y2="280.9" stroke="#111" stroke-width="1.5" />
<line x1="71" y1="268.5" x2="71" y2="280.9" stroke="#222" stroke-width="0.8" />
<path d="M71,268.5 q1.5,1 1,3.5 q-1,1 0,2" stroke="#111" stroke-width="0.8" fill="none" />
<line x1="100" y1="272.6" x2="112" y2="272.6" stroke="#888" stroke-width="2.2" />
<line x1="100" y1="280.9" x2="112" y2="280.9" stroke="#111" stroke-width="1.5" />
<line x1="100" y1="268.5" x2="100" y2="280.9" stroke="#222" stroke-width="0.8" />
<path d="M100,268.5 q1.5,1 1,3.5 q-1,1 0,2" stroke="#111" stroke-width="0.8" fill="none" />
<line x1="88.5" y1="274" x2="88.5" y2="281" stroke="#777" stroke-width="0.7" />
<rect x="93.2" y="277.2" width="2.4" height="2.6" rx="0" stroke="#222" stroke-width="0.7" fill="none" />
<line x1="91.8" y1="274" x2="91.8" y2="277.5" stroke="#777" stroke-width="0.7" />
<rect x="122.2" y="272" width="5.5" height="9" rx="0" stroke="#333" stroke-width="0.7" fill="none" />
<rect x="122.8" y="277.5" width="3.2" height="2.8" rx="0" stroke="#111" stroke-width="0.6" fill="none" />
<line x1="164.6" y1="268" x2="164.6" y2="280.6" stroke="#333" stroke-width="0.9" />
<circle cx="164.5" cy="270" r="0.8" stroke="none" stroke-width="0" fill="#222"/>
<line x1="69.9" y1="289.6" x2="69.9" y2="309.3" stroke="#111" stroke-width="1.1" />
<line x1="69.9" y1="289.6" x2="96.2" y2="289.6" stroke="#111" stroke-width="1.4" />
<line x1="96.2" y1="289.6" x2="112" y2="289.6" stroke="#999" stroke-width="1" />
<line x1="76.5" y1="297.6" x2="76.5" y2="308.3" stroke="#aaa" stroke-width="1.3" />
<line x1="83.1" y1="297.6" x2="83.1" y2="308.3" stroke="#aaa" stroke-width="1.3" />
<line x1="79.5" y1="298.6" x2="79.5" y2="308.8" stroke="#ff00ff" stroke-width="0.9" />
<line x1="89" y1="289.6" x2="89" y2="309.3" stroke="#2a6a2a" stroke-width="0.9" />
<line x1="98.5" y1="294.6" x2="98.5" y2="308.8" stroke="#ff00ff" stroke-width="0.9" />
<circle cx="98.5" cy="296.6" r="1.6" stroke="#905090" stroke-width="0.9" fill="none"/>
<line x1="93" y1="290.6" x2="93" y2="308.3" stroke="#30f830" stroke-width="0.6" />
<line x1="103.5" y1="290.6" x2="103.5" y2="308.3" stroke="#30f830" stroke-width="0.6" />
<line x1="109.4" y1="290.6" x2="109.4" y2="308.3" stroke="#30f830" stroke-width="0.6" />
<path d="M70.6,291.2 q1.5,2.2 3,0 q1.5,2.2 3,0 q1.5,2.2 3,0 q1.5,2.2 3,0 q1.5,2.2 3,0 q1.5,2.2 3,0" stroke="#111" stroke-width="1.1" fill="none" />
<path d="M72.5,295.1 l1.5,2 l1.5,-2 M74,297.1 l0,2.5 M82,295.1 l1.5,2 l1.5,-2 M83.5,297.1 l0,2.5" stroke="#111" stroke-width="0.9" fill="none" />
<rect x="76.01" y="293.12" width="1" height="1" rx="0" stroke="none" stroke-width="0" fill="#111" />
<rect x="81.57" y="291.81" width="1" height="1" rx="0" stroke="none" stroke-width="0" fill="#111" />
<rect x="79.61" y="296.71" width="1" height="1" rx="0" stroke="none" stroke-width="0" fill="#111" />
<rect x="71.49" y="299.07" width="1" height="1" rx="0" stroke="none" stroke-width="0" fill="#111" />
<rect x="71.14" y="297.84" width="1" height="1" rx="0" stroke="none" stroke-width="0" fill="#111" />
<rect x="71.69" y="292.11" width="1" height="1" rx="0" stroke="none" stroke-width="0" fill="#111" />
<rect x="77.72" y="304.41" width="1" height="1" rx="0" stroke="none" stroke-width="0" fill="#111" />
<rect x="72.6" y="294.33" width="1" height="1" rx="0" stroke="none" stroke-width="0" fill="#111" />
<rect x="81.17" y="306.43" width="1" height="1" rx="0" stroke="none" stroke-width="0" fill="#111" />
<rect x="80.31" y="297.22" width="1" height="1" rx="0" stroke="none" stroke-width="0" fill="#111" />
<rect x="87.1" y="291.38" width="1" height="1" rx="0" stroke="none" stroke-width="0" fill="#111" />
<rect x="85.09" y="295.44" width="1" height="1" rx="0" stroke="none" stroke-width="0" fill="#111" />
<rect x="72.95" y="292.57" width="1" height="1" rx="0" stroke="none" stroke-width="0" fill="#111" />
<rect x="75.74" y="304.23" width="1" height="1" rx="0" stroke="none" stroke-width="0" fill="#111" />
<rect x="73.57" y="300.31" width="1" height="1" rx="0" stroke="none" stroke-width="0" fill="#111" />
<rect x="81.36" y="296.82" width="1" height="1" rx="0" stroke="none" stroke-width="0" fill="#111" />
<rect x="79.81" y="291.65" width="1" height="1" rx="0" stroke="none" stroke-width="0" fill="#111" />
<rect x="71.51" y="294.04" width="1" height="1" rx="0" stroke="none" stroke-width="0" fill="#111" />
<rect x="82.07" y="297.74" width="1" height="1" rx="0" stroke="none" stroke-width="0" fill="#111" />
<rect x="75.84" y="300.38" width="1" height="1" rx="0" stroke="none" stroke-width="0" fill="#111" />
<rect x="78.2" y="295.61" width="1" height="1" rx="0" stroke="none" stroke-width="0" fill="#111" />
<rect x="84" y="302.27" width="1" height="1" rx="0" stroke="none" stroke-width="0" fill="#111" />
<rect x="74.65" y="300.19" width="1" height="1" rx="0" stroke="none" stroke-width="0" fill="#111" />
<rect x="79.43" y="305.21" width="1" height="1" rx="0" stroke="none" stroke-width="0" fill="#111" />
<rect x="105.11" y="295.38" width="1.1" height="1.1" rx="0" stroke="none" stroke-width="0" fill="#30f830" />
<rect x="110.48" y="292.56" width="1.1" height="1.1" rx="0" stroke="none" stroke-width="0" fill="#30f830" />
<rect x="98.45" y="303.17" width="1.1" height="1.1" rx="0" stroke="none" stroke-width="0" fill="#30f830" />
<rect x="92.75" y="298.72" width="1.1" height="1.1" rx="0" stroke="none" stroke-width="0" fill="#30f830" />
<rect x="90.34" y="301.69" width="1.1" height="1.1" rx="0" stroke="none" stroke-width="0" fill="#30f830" />
<rect x="105.86" y="300.11" width="1.1" height="1.1" rx="0" stroke="none" stroke-width="0" fill="#30f830" />
<rect x="108.24" y="295.81" width="1.1" height="1.1" rx="0" stroke="none" stroke-width="0" fill="#30f830" />
<rect x="104.38" y="300.47" width="1.1" height="1.1" rx="0" stroke="none" stroke-width="0" fill="#30f830" />
<rect x="101.91" y="298.17" width="1.1" height="1.1" rx="0" stroke="none" stroke-width="0" fill="#30f830" />
<rect x="107.48" y="306.28" width="1.1" height="1.1" rx="0" stroke="none" stroke-width="0" fill="#30f830" />
<rect x="99.65" y="301.62" width="1.1" height="1.1" rx="0" stroke="none" stroke-width="0" fill="#30f830" />
<rect x="90.8" y="302.24" width="1.1" height="1.1" rx="0" stroke="none" stroke-width="0" fill="#30f830" />
<rect x="103.35" y="307.09" width="1.1" height="1.1" rx="0" stroke="none" stroke-width="0" fill="#30f830" />
<rect x="107.09" y="295.32" width="1.1" height="1.1" rx="0" stroke="none" stroke-width="0" fill="#30f830" />
<rect x="97.76" y="301.7" width="1.1" height="1.1" rx="0" stroke="none" stroke-width="0" fill="#30f830" />
<rect x="89.98" y="298.26" width="1.1" height="1.1" rx="0" stroke="none" stroke-width="0" fill="#30f830" />
<rect x="93.1" y="292.54" width="1.1" height="1.1" rx="0" stroke="none" stroke-width="0" fill="#30f830" />
<rect x="90.76" y="303.35" width="1.1" height="1.1" rx="0" stroke="none" stroke-width="0" fill="#30f830" />
<rect x="92.27" y="294.71" width="1.1" height="1.1" rx="0" stroke="none" stroke-width="0" fill="#30f830" />
<rect x="97.87" y="305.07" width="1.1" height="1.1" rx="0" stroke="none" stroke-width="0" fill="#30f830" />
<rect x="91.22" y="298.06" width="1.1" height="1.1" rx="0" stroke="none" stroke-width="0" fill="#30f830" />
<rect x="101.26" y="305.26" width="1.1" height="1.1" rx="0" stroke="none" stroke-width="0" fill="#30f830" />
<rect x="107.03" y="304.94" width="1.1" height="1.1" rx="0" stroke="none" stroke-width="0" fill="#30f830" />
<rect x="95.46" y="297.49" width="1.1" height="1.1" rx="0" stroke="none" stroke-width="0" fill="#30f830" />
<rect x="97.18" y="305.28" width="1.1" height="1.1" rx="0" stroke="none" stroke-width="0" fill="#30f830" />
<rect x="110" y="293.11" width="1.1" height="1.1" rx="0" stroke="none" stroke-width="0" fill="#30f830" />
<rect x="93.27" y="294.45" width="1.1" height="1.1" rx="0" stroke="none" stroke-width="0" fill="#30f830" />
<rect x="94.49" y="298.65" width="1.1" height="1.1" rx="0" stroke="none" stroke-width="0" fill="#30f830" />
<rect x="102.11" y="294.96" width="1.1" height="1.1" rx="0" stroke="none" stroke-width="0" fill="#30f830" />
<rect x="89.59" y="297.55" width="1.1" height="1.1" rx="0" stroke="none" stroke-width="0" fill="#30f830" />
<path d="M97.07,298.36 q1,1.2 0,2.2" stroke="#30f830" stroke-width="0.6" fill="none" />
<path d="M109.04,300.06 q1,1.2 0,2.2" stroke="#30f830" stroke-width="0.6" fill="none" />
<path d="M100.07,299.06 q1,1.2 0,2.2" stroke="#30f830" stroke-width="0.6" fill="none" />
<path d="M103.36,291.34 q1,1.2 0,2.2" stroke="#30f830" stroke-width="0.6" fill="none" />
<path d="M107.94,301.29 q1,1.2 0,2.2" stroke="#30f830" stroke-width="0.6" fill="none" />
<path d="M107.43,301.53 q1,1.2 0,2.2" stroke="#30f830" stroke-width="0.6" fill="none" />
<path d="M97.54,296.07 q1,1.2 0,2.2" stroke="#30f830" stroke-width="0.6" fill="none" />
<path d="M91.62,299.29 q1,1.2 0,2.2" stroke="#30f830" stroke-width="0.6" fill="none" />
<path d="M90.78,291.52 q1,1.2 0,2.2" stroke="#30f830" stroke-width="0.6" fill="none" />
<path d="M93.78,292.82 q1,1.2 0,2.2" stroke="#30f830" stroke-width="0.6" fill="none" />
<line x1="69.9" y1="309.3" x2="88.8" y2="309.3" stroke="#111" stroke-width="0.6" />
<line x1="69.9" y1="316.3" x2="69.9" y2="333.4" stroke="#111" stroke-width="1.1" />
<line x1="69.9" y1="316.3" x2="96.2" y2="316.3" stroke="#111" stroke-width="1.4" />
<line x1="96.2" y1="316.3" x2="112" y2="316.3" stroke="#999" stroke-width="1" />
<line x1="76.5" y1="317.3" x2="76.5" y2="326.4" stroke="#aaa" stroke-width="1.3" />
<line x1="83.1" y1="317.3" x2="83.1" y2="326.4" stroke="#aaa" stroke-width="1.3" />
<line x1="79.5" y1="317.3" x2="79.5" y2="327.4" stroke="#ff00ff" stroke-width="0.9" />
<line x1="89" y1="316.3" x2="89" y2="333.4" stroke="#2a6a2a" stroke-width="0.9" />
<line x1="98.5" y1="316.8" x2="98.5" y2="329.4" stroke="#ff00ff" stroke-width="0.9" />
<circle cx="98.5" cy="327.7" r="1.6" stroke="#905090" stroke-width="0.9" fill="none"/>
<circle cx="79.3" cy="327.7" r="1.6" stroke="#905090" stroke-width="0.9" fill="none"/>
<line x1="93" y1="317.3" x2="93" y2="332.4" stroke="#30f830" stroke-width="0.6" />
<line x1="103.5" y1="317.3" x2="103.5" y2="332.4" stroke="#30f830" stroke-width="0.6" />
<line x1="109.4" y1="317.3" x2="109.4" y2="332.4" stroke="#30f830" stroke-width="0.6" />
<path d="M70.6,331.8 q1.5,-2.2 3,0 q1.5,-2.2 3,0 q1.5,-2.2 3,0 q1.5,-2.2 3,0 q1.5,-2.2 3,0 q1.5,-2.2 3,0" stroke="#111" stroke-width="1.1" fill="none" />
<path d="M72.5,325.4 l1.5,2 l1.5,-2 M74,327.4 l0,2.5 M82,325.4 l1.5,2 l1.5,-2 M83.5,327.4 l0,2.5" stroke="#111" stroke-width="0.9" fill="none" />
<rect x="76.28" y="318.04" width="1" height="1" rx="0" stroke="none" stroke-width="0" fill="#111" />
<rect x="70.5" y="319.43" width="1" height="1" rx="0" stroke="none" stroke-width="0" fill="#111" />
<rect x="72.22" y="322.43" width="1" height="1" rx="0" stroke="none" stroke-width="0" fill="#111" />
<rect x="70.93" y="329.63" width="1" height="1" rx="0" stroke="none" stroke-width="0" fill="#111" />
<rect x="80.94" y="319.39" width="1" height="1" rx="0" stroke="none" stroke-width="0" fill="#111" />
<rect x="74.79" y="322.2" width="1" height="1" rx="0" stroke="none" stroke-width="0" fill="#111" />
<rect x="76.69" y="319.03" width="1" height="1" rx="0" stroke="none" stroke-width="0" fill="#111" />
<rect x="84.93" y="331.3" width="1" height="1" rx="0" stroke="none" stroke-width="0" fill="#111" />
<rect x="78.42" y="324.12" width="1" height="1" rx="0" stroke="none" stroke-width="0" fill="#111" />
<rect x="71.96" y="318.74" width="1" height="1" rx="0" stroke="none" stroke-width="0" fill="#111" />
<rect x="76.32" y="321.03" width="1" height="1" rx="0" stroke="none" stroke-width="0" fill="#111" />
<rect x="84.59" y="319.58" width="1" height="1" rx="0" stroke="none" stroke-width="0" fill="#111" />
<rect x="70.89" y="330.71" width="1" height="1" rx="0" stroke="none" stroke-width="0" fill="#111" />
<rect x="79.48" y="319.37" width="1" height="1" rx="0" stroke="none" stroke-width="0" fill="#111" />
<rect x="79.73" y="317.68" width="1" height="1" rx="0" stroke="none" stroke-width="0" fill="#111" />
<rect x="79.48" y="331.1" width="1" height="1" rx="0" stroke="none" stroke-width="0" fill="#111" />
<rect x="85.18" y="327.12" width="1" height="1" rx="0" stroke="none" stroke-width="0" fill="#111" />
<rect x="74.94" y="322.47" width="1" height="1" rx="0" stroke="none" stroke-width="0" fill="#111" />
<rect x="73.34" y="328.18" width="1" height="1" rx="0" stroke="none" stroke-width="0" fill="#111" />
<rect x="79.55" y="328.28" width="1" height="1" rx="0" stroke="none" stroke-width="0" fill="#111" />
<rect x="76.1" y="320.44" width="1" height="1" rx="0" stroke="none" stroke-width="0" fill="#111" />
<rect x="84.3" y="331.19" width="1" height="1" rx="0" stroke="none" stroke-width="0" fill="#111" />
<rect x="84.99" y="328.67" width="1" height="1" rx="0" stroke="none" stroke-width="0" fill="#111" />
<rect x="84.41" y="327.73" width="1" height="1" rx="0" stroke="none" stroke-width="0" fill="#111" />
<rect x="94.35" y="324.55" width="1.1" height="1.1" rx="0" stroke="none" stroke-width="0" fill="#30f830" />
<rect x="97.11" y="317.71" width="1.1" height="1.1" rx="0" stroke="none" stroke-width="0" fill="#30f830" />
<rect x="90.1" y="321.21" width="1.1" height="1.1" rx="0" stroke="none" stroke-width="0" fill="#30f830" />
<rect x="95.05" y="327" width="1.1" height="1.1" rx="0" stroke="none" stroke-width="0" fill="#30f830" />
<rect x="109.97" y="323.56" width="1.1" height="1.1" rx="0" stroke="none" stroke-width="0" fill="#30f830" />
<rect x="109.55" y="331.13" width="1.1" height="1.1" rx="0" stroke="none" stroke-width="0" fill="#30f830" />
<rect x="109.94" y="322.4" width="1.1" height="1.1" rx="0" stroke="none" stroke-width="0" fill="#30f830" />
<rect x="94.22" y="320.48" width="1.1" height="1.1" rx="0" stroke="none" stroke-width="0" fill="#30f830" />
<rect x="93.71" y="320.16" width="1.1" height="1.1" rx="0" stroke="none" stroke-width="0" fill="#30f830" />
<rect x="102.86" y="329.9" width="1.1" height="1.1" rx="0" stroke="none" stroke-width="0" fill="#30f830" />
<rect x="107.49" y="324.01" width="1.1" height="1.1" rx="0" stroke="none" stroke-width="0" fill="#30f830" />
<rect x="103.47" y="328.5" width="1.1" height="1.1" rx="0" stroke="none" stroke-width="0" fill="#30f830" />
<rect x="91.31" y="326.55" width="1.1" height="1.1" rx="0" stroke="none" stroke-width="0" fill="#30f830" />
<rect x="108.97" y="328.25" width="1.1" height="1.1" rx="0" stroke="none" stroke-width="0" fill="#30f830" />
<rect x="105.55" y="323.99" width="1.1" height="1.1" rx="0" stroke="none" stroke-width="0" fill="#30f830" />
<rect x="93.32" y="328.35" width="1.1" height="1.1" rx="0" stroke="none" stroke-width="0" fill="#30f830" />
<rect x="96.62" y="328.51" width="1.1" height="1.1" rx="0" stroke="none" stroke-width="0" fill="#30f830" />
<rect x="110.29" y="322.84" width="1.1" height="1.1" rx="0" stroke="none" stroke-width="0" fill="#30f830" />
<rect x="98.09" y="330.56" width="1.1" height="1.1" rx="0" stroke="none" stroke-width="0" fill="#30f830" />
<rect x="105.01" y="319.68" width="1.1" height="1.1" rx="0" stroke="none" stroke-width="0" fill="#30f830" />
<rect x="92.22" y="319.42" width="1.1" height="1.1" rx="0" stroke="none" stroke-width="0" fill="#30f830" />
<rect x="108.86" y="328.59" width="1.1" height="1.1" rx="0" stroke="none" stroke-width="0" fill="#30f830" />
<rect x="92.63" y="328.87" width="1.1" height="1.1" rx="0" stroke="none" stroke-width="0" fill="#30f830" />
<rect x="110.48" y="326.5" width="1.1" height="1.1" rx="0" stroke="none" stroke-width="0" fill="#30f830" />
<rect x="97" y="324.98" width="1.1" height="1.1" rx="0" stroke="none" stroke-width="0" fill="#30f830" />
<rect x="92.3" y="317.5" width="1.1" height="1.1" rx="0" stroke="none" stroke-width="0" fill="#30f830" />
<rect x="110.28" y="326.4" width="1.1" height="1.1" rx="0" stroke="none" stroke-width="0" fill="#30f830" />
<rect x="100.77" y="330.37" width="1.1" height="1.1" rx="0" stroke="none" stroke-width="0" fill="#30f830" />
<rect x="98.78" y="329.5" width="1.1" height="1.1" rx="0" stroke="none" stroke-width="0" fill="#30f830" />
<rect x="107.18" y="320.25" width="1.1" height="1.1" rx="0" stroke="none" stroke-width="0" fill="#30f830" />
<path d="M94.66,320.55 q1,1.2 0,2.2" stroke="#30f830" stroke-width="0.6" fill="none" />
<path d="M94.43,323.81 q1,1.2 0,2.2" stroke="#30f830" stroke-width="0.6" fill="none" />
<path d="M94.82,321.95 q1,1.2 0,2.2" stroke="#30f830" stroke-width="0.6" fill="none" />
<path d="M92.19,327.4 q1,1.2 0,2.2" stroke="#30f830" stroke-width="0.6" fill="none" />
<path d="M96.75,322.39 q1,1.2 0,2.2" stroke="#30f830" stroke-width="0.6" fill="none" />
<path d="M101.46,327.34 q1,1.2 0,2.2" stroke="#30f830" stroke-width="0.6" fill="none" />
<path d="M98.12,327.49 q1,1.2 0,2.2" stroke="#30f830" stroke-width="0.6" fill="none" />
<path d="M99.78,323.2 q1,1.2 0,2.2" stroke="#30f830" stroke-width="0.6" fill="none" />
<path d="M100.23,317.51 q1,1.2 0,2.2" stroke="#30f830" stroke-width="0.6" fill="none" />
<path d="M98.52,319.33 q1,1.2 0,2.2" stroke="#30f830" stroke-width="0.6" fill="none" />
<line x1="69.9" y1="333.4" x2="88.8" y2="333.4" stroke="#111" stroke-width="1.2" />
<line x1="70" y1="334.2" x2="112" y2="334.2" stroke="#30f830" stroke-width="0.8" />
<line x1="70" y1="336.8" x2="112" y2="336.8" stroke="#30f830" stroke-width="0.8" />
<circle cx="89.7" cy="336.2" r="1" stroke="none" stroke-width="0" fill="#1010ff"/>
<circle cx="92.4" cy="336.2" r="1" stroke="none" stroke-width="0" fill="#1010ff"/>
<circle cx="89.7" cy="350.4" r="1" stroke="none" stroke-width="0" fill="#1010ff"/>
<circle cx="92.4" cy="350.4" r="1" stroke="none" stroke-width="0" fill="#1010ff"/>
<line x1="90.6" y1="333.4" x2="90.6" y2="337.5" stroke="#ff1010" stroke-width="0.7" />
<line x1="90.6" y1="344.5" x2="90.6" y2="353" stroke="#ff1010" stroke-width="0.7" />
<line x1="70" y1="344.2" x2="112" y2="344.2" stroke="#30f830" stroke-width="0.9" />
<line x1="70" y1="352.5" x2="112" y2="352.5" stroke="#30f830" stroke-width="0.9" />
<rect x="71.15" y="349.42" width="1.1" height="1.1" rx="0" stroke="none" stroke-width="0" fill="#30f830" />
<rect x="77.7" y="347.82" width="1.1" height="1.1" rx="0" stroke="none" stroke-width="0" fill="#30f830" />
<rect x="99.21" y="348.23" width="1.1" height="1.1" rx="0" stroke="none" stroke-width="0" fill="#30f830" />
<rect x="83.68" y="348.04" width="1.1" height="1.1" rx="0" stroke="none" stroke-width="0" fill="#30f830" />
<rect x="92.61" y="349.34" width="1.1" height="1.1" rx="0" stroke="none" stroke-width="0" fill="#30f830" />
<rect x="75.13" y="348.25" width="1.1" height="1.1" rx="0" stroke="none" stroke-width="0" fill="#30f830" />
<rect x="80.67" y="346.86" width="1.1" height="1.1" rx="0" stroke="none" stroke-width="0" fill="#30f830" />
<rect x="101.04" y="347.99" width="1.1" height="1.1" rx="0" stroke="none" stroke-width="0" fill="#30f830" />
<rect x="92.85" y="349.22" width="1.1" height="1.1" rx="0" stroke="none" stroke-width="0" fill="#30f830" />
<rect x="106.5" y="347.67" width="1.1" height="1.1" rx="0" stroke="none" stroke-width="0" fill="#30f830" />
<rect x="94.83" y="347.98" width="1.1" height="1.1" rx="0" stroke="none" stroke-width="0" fill="#30f830" />
<rect x="90.92" y="348.89" width="1.1" height="1.1" rx="0" stroke="none" stroke-width="0" fill="#30f830" />
<rect x="88.6" y="348.11" width="1.1" height="1.1" rx="0" stroke="none" stroke-width="0" fill="#30f830" />
<rect x="89.6" y="350.11" width="1.1" height="1.1" rx="0" stroke="none" stroke-width="0" fill="#30f830" />
<rect x="98.2" y="349.8" width="1.1" height="1.1" rx="0" stroke="none" stroke-width="0" fill="#30f830" />
<rect x="107.65" y="346.77" width="1.1" height="1.1" rx="0" stroke="none" stroke-width="0" fill="#30f830" />
<rect x="92.77" y="350.12" width="1.1" height="1.1" rx="0" stroke="none" stroke-width="0" fill="#30f830" />
<rect x="103.68" y="346.17" width="1.1" height="1.1" rx="0" stroke="none" stroke-width="0" fill="#30f830" />
<rect x="75.73" y="347.67" width="1.1" height="1.1" rx="0" stroke="none" stroke-width="0" fill="#30f830" />
<rect x="73.82" y="346.68" width="1.1" height="1.1" rx="0" stroke="none" stroke-width="0" fill="#30f830" />
<rect x="73.84" y="348.78" width="1.1" height="1.1" rx="0" stroke="none" stroke-width="0" fill="#30f830" />
<rect x="101.5" y="349.9" width="1.1" height="1.1" rx="0" stroke="none" stroke-width="0" fill="#30f830" />
<rect x="77.01" y="349.01" width="1.1" height="1.1" rx="0" stroke="none" stroke-width="0" fill="#30f830" />
<rect x="96.68" y="346.2" width="1.1" height="1.1" rx="0" stroke="none" stroke-width="0" fill="#30f830" />
<rect x="105.34" y="350.24" width="1.1" height="1.1" rx="0" stroke="none" stroke-width="0" fill="#30f830" />
<rect x="79.54" y="350.17" width="1.1" height="1.1" rx="0" stroke="none" stroke-width="0" fill="#30f830" />
<path d="M86.13,346.46 q1,1.2 0,2.2" stroke="#30f830" stroke-width="0.6" fill="none" />
<path d="M108.62,347.5 q1,1.2 0,2.2" stroke="#30f830" stroke-width="0.6" fill="none" />
<path d="M77.14,346.29 q1,1.2 0,2.2" stroke="#30f830" stroke-width="0.6" fill="none" />
<path d="M90.59,346.02 q1,1.2 0,2.2" stroke="#30f830" stroke-width="0.6" fill="none" />
<path d="M78.44,345.96 q1,1.2 0,2.2" stroke="#30f830" stroke-width="0.6" fill="none" />
<path d="M98.44,345.06 q1,1.2 0,2.2" stroke="#30f830" stroke-width="0.6" fill="none" />
<line x1="69.6" y1="344" x2="69.6" y2="360.5" stroke="#111" stroke-width="1" />
<line x1="69.6" y1="360.3" x2="112.3" y2="360.3" stroke="#143814" stroke-width="1" />
<line x1="112" y1="344" x2="112" y2="350" stroke="#111" stroke-width="0.8" />
<path d="M73.5,344.8 q2,1.5 4,0" stroke="#333" stroke-width="0.7" fill="none" />
<line x1="119.3" y1="289.6" x2="162" y2="289.6" stroke="#30f830" stroke-width="1.6" />
<rect x="119.3" y="290" width="8.3" height="43.4" rx="0" stroke="#30f830" stroke-width="0.7" fill="none" />
<line x1="127.6" y1="291" x2="127.6" y2="332" stroke="#444" stroke-width="0.6" />
<rect x="123.27" y="309.01" width="1.1" height="1.1" rx="0" stroke="none" stroke-width="0" fill="#30f830" />
<rect x="120.11" y="304.56" width="1.1" height="1.1" rx="0" stroke="none" stroke-width="0" fill="#30f830" />
<rect x="123.68" y="311.95" width="1.1" height="1.1" rx="0" stroke="none" stroke-width="0" fill="#30f830" />
<rect x="120.38" y="331.29" width="1.1" height="1.1" rx="0" stroke="none" stroke-width="0" fill="#30f830" />
<rect x="124.65" y="330.74" width="1.1" height="1.1" rx="0" stroke="none" stroke-width="0" fill="#30f830" />
<rect x="120.62" y="301.86" width="1.1" height="1.1" rx="0" stroke="none" stroke-width="0" fill="#30f830" />
<rect x="120.23" y="322.86" width="1.1" height="1.1" rx="0" stroke="none" stroke-width="0" fill="#30f830" />
<rect x="121.6" y="296.3" width="1.1" height="1.1" rx="0" stroke="none" stroke-width="0" fill="#30f830" />
<rect x="122.49" y="328.28" width="1.1" height="1.1" rx="0" stroke="none" stroke-width="0" fill="#30f830" />
<rect x="124.83" y="301.58" width="1.1" height="1.1" rx="0" stroke="none" stroke-width="0" fill="#30f830" />
<rect x="120.88" y="328.59" width="1.1" height="1.1" rx="0" stroke="none" stroke-width="0" fill="#30f830" />
<rect x="123.37" y="319.65" width="1.1" height="1.1" rx="0" stroke="none" stroke-width="0" fill="#30f830" />
<rect x="120.53" y="293.35" width="1.1" height="1.1" rx="0" stroke="none" stroke-width="0" fill="#30f830" />
<rect x="124.06" y="308.4" width="1.1" height="1.1" rx="0" stroke="none" stroke-width="0" fill="#30f830" />
<rect x="120.43" y="329.38" width="1.1" height="1.1" rx="0" stroke="none" stroke-width="0" fill="#30f830" />
<rect x="123.74" y="323.79" width="1.1" height="1.1" rx="0" stroke="none" stroke-width="0" fill="#30f830" />
<rect x="120.49" y="326.02" width="1.1" height="1.1" rx="0" stroke="none" stroke-width="0" fill="#30f830" />
<rect x="120.39" y="326.29" width="1.1" height="1.1" rx="0" stroke="none" stroke-width="0" fill="#30f830" />
<rect x="122.68" y="304.87" width="1.1" height="1.1" rx="0" stroke="none" stroke-width="0" fill="#30f830" />
<rect x="123.26" y="328.9" width="1.1" height="1.1" rx="0" stroke="none" stroke-width="0" fill="#30f830" />
<rect x="121.58" y="296.29" width="1.1" height="1.1" rx="0" stroke="none" stroke-width="0" fill="#30f830" />
<rect x="123.11" y="300.75" width="1.1" height="1.1" rx="0" stroke="none" stroke-width="0" fill="#30f830" />
<path d="M120.44,297.14 q1,1.2 0,2.2" stroke="#30f830" stroke-width="0.6" fill="none" />
<path d="M120.2,298.67 q1,1.2 0,2.2" stroke="#30f830" stroke-width="0.6" fill="none" />
<path d="M121.25,302.59 q1,1.2 0,2.2" stroke="#30f830" stroke-width="0.6" fill="none" />
<path d="M123.04,302.02 q1,1.2 0,2.2" stroke="#30f830" stroke-width="0.6" fill="none" />
<path d="M122,297.76 q1,1.2 0,2.2" stroke="#30f830" stroke-width="0.6" fill="none" />
<path d="M121.39,291.69 q1,1.2 0,2.2" stroke="#30f830" stroke-width="0.6" fill="none" />
<path d="M121,291.58 q1,1.2 0,2.2" stroke="#30f830" stroke-width="0.6" fill="none" />
<path d="M122.93,311.94 q1,1.2 0,2.2" stroke="#30f830" stroke-width="0.6" fill="none" />
<line x1="119.5" y1="312.3" x2="127" y2="312.3" stroke="#ff4040" stroke-width="0.8" />
<circle cx="125" cy="313.8" r="1" stroke="none" stroke-width="0" fill="#1010ff"/>
<line x1="120" y1="290.3" x2="125.5" y2="290.3" stroke="#a080a0" stroke-width="1" />
<line x1="162.2" y1="289.5" x2="162.2" y2="335.5" stroke="#111" stroke-width="1" />
<line x1="119.5" y1="334.8" x2="136.3" y2="334.8" stroke="#888" stroke-width="1.6" />
<line x1="119.5" y1="336.3" x2="136.3" y2="336.3" stroke="#555" stroke-width="0.8" />
<path d="M145.2,335.5 L145.2,312.3 L162,312.3" stroke="#111" stroke-width="1" fill="none" />
<rect x="148.5" y="322" width="5" height="3" rx="0" stroke="#333" stroke-width="0.7" fill="none" />
<rect x="149" y="326.5" width="4" height="1.2" rx="0" stroke="none" stroke-width="0" fill="#333" />
<circle cx="146" cy="323" r="0.9" stroke="none" stroke-width="0" fill="#a040a0"/>
<circle cx="146" cy="330.3" r="1" stroke="none" stroke-width="0" fill="#111"/>
<rect x="158.8" y="316" width="2.2" height="2.2" rx="0" stroke="#333" stroke-width="0.5" fill="none" />
<rect x="158.8" y="319.7" width="2.2" height="2.2" rx="0" stroke="#333" stroke-width="0.5" fill="none" />
<rect x="158.8" y="323.4" width="2.2" height="2.2" rx="0" stroke="#333" stroke-width="0.5" fill="none" />
<rect x="158.8" y="327.1" width="2.2" height="2.2" rx="0" stroke="#333" stroke-width="0.5" fill="none" />
<rect x="158.8" y="330.8" width="2.2" height="2.2" rx="0" stroke="#333" stroke-width="0.5" fill="none" />
<circle cx="137.7" cy="321.5" r="0.7" stroke="none" stroke-width="0" fill="#30f830"/>
<circle cx="133" cy="294" r="0.7" stroke="none" stroke-width="0" fill="#30f830"/>
<circle cx="158" cy="294" r="0.7" stroke="none" stroke-width="0" fill="#30f830"/>
<line x1="119.8" y1="347" x2="137.5" y2="347" stroke="#222" stroke-width="1.2" />
<line x1="119.8" y1="349" x2="137.5" y2="349" stroke="#888" stroke-width="0.9" />
<line x1="128.5" y1="346" x2="128.5" y2="356" stroke="#444" stroke-width="0.8" />
<line x1="134.5" y1="346" x2="134.5" y2="352" stroke="#444" stroke-width="0.8" />
<line x1="119.8" y1="356.3" x2="136" y2="356.3" stroke="#444" stroke-width="1.2" />
<line x1="162.3" y1="344" x2="162.3" y2="360.3" stroke="#111" stroke-width="1" />
<line x1="119.8" y1="360.3" x2="162.3" y2="360.3" stroke="#111" stroke-width="1" />
<circle cx="162.3" cy="352" r="0.9" stroke="none" stroke-width="0" fill="#111"/>
<rect x="60.1" y="37.6" width="111.4" height="331" rx="0" stroke="#000" stroke-width="1.5" fill="none" />
<line x1="60.1" y1="369.9" x2="171.5" y2="369.9" stroke="#888" stroke-width="1.8" />
<path d="M66.8,370.8 L66.8,378 Q66.8,380.7 69.3,380.7 Q71.8,380.7 71.8,378 L71.8,370.8" stroke="#000" stroke-width="1.1" fill="none" />
<line x1="68" y1="371.5" x2="68" y2="379" stroke="#444" stroke-width="0.8" />
<path d="M160.4,370.8 L160.4,378 Q160.4,380.7 162.9,380.7 Q165.4,380.7 165.4,378 L165.4,370.8" stroke="#000" stroke-width="1.1" fill="none" />
<line x1="161.6" y1="371.5" x2="161.6" y2="379" stroke="#444" stroke-width="0.8" />
<path d="M59.8,53.6 L53.3,57.6 Q51.6,59.6 53.6,60.8 L59.8,57.4" stroke="#222" stroke-width="1" fill="none" />
<circle cx="54.2" cy="59.3" r="0.8" stroke="#333" stroke-width="0.6" fill="none"/>
<line x1="60.1" y1="17.9" x2="60.1" y2="35.8" stroke="#3030ff" stroke-width="0.9" />
<line x1="171.5" y1="17.9" x2="171.5" y2="35.8" stroke="#3030ff" stroke-width="0.9" />
<line x1="60.1" y1="18" x2="97.7" y2="18" stroke="#3030ff" stroke-width="1" />
<line x1="133.8" y1="18" x2="171.5" y2="18" stroke="#3030ff" stroke-width="1" />
<polygon points="60.1,18 65.9,16.4 65.9,19.6" stroke="none" stroke-width="1" fill="#0000ff" />
<polygon points="171.5,18 165.7,19.6 165.7,16.4" stroke="none" stroke-width="1" fill="#0000ff" />
<line x1="49" y1="34.4" x2="72" y2="34.4" stroke="#3030ff" stroke-width="0.9" />
<polygon points="60.1,34.4 54.6,36 54.6,32.8" stroke="none" stroke-width="1" fill="#0000ff" />
<polygon points="60.1,34.4 65.6,32.8 65.6,36" stroke="none" stroke-width="1" fill="#0000ff" />
<line x1="33.9" y1="36.9" x2="59.5" y2="36.9" stroke="#3030ff" stroke-width="0.9" />
<line x1="33.9" y1="369.2" x2="59" y2="369.2" stroke="#3030ff" stroke-width="0.9" />
<line x1="34.1" y1="36.9" x2="34.1" y2="196.5" stroke="#3030ff" stroke-width="1" />
<line x1="34.1" y1="209.6" x2="34.1" y2="369.2" stroke="#3030ff" stroke-width="1" />
<polygon points="34.1,36.9 35.7,42.7 32.5,42.7" stroke="none" stroke-width="1" fill="#0000ff" />
<polygon points="34.1,369.2 32.5,363.4 35.7,363.4" stroke="none" stroke-width="1" fill="#0000ff" />
<path d="M181.7,138 Q170,143.5 163,151 L155.5,161" stroke="#3030ff" stroke-width="0.9" fill="none" />
<polygon points="151.8,165.6 154.8,159.66 156.97,161.42" stroke="none" stroke-width="1" fill="#0000ff" />
<path d="M181.7,221 Q150,234 133,252 Q118,270 103.5,292.5" stroke="#3030ff" stroke-width="0.9" fill="none" />
<polygon points="102.8,294 104.46,288.07 106.92,289.42" stroke="none" stroke-width="1" fill="#0000ff" />
<path d="M184.3,274.6 L127,280.5" stroke="#3030ff" stroke-width="0.9" fill="none" />
<polygon points="125.4,280.7 131.23,278.71 131.51,281.5" stroke="none" stroke-width="1" fill="#0000ff" />
<path d="M189.6,314.3 Q170,314 157,321" stroke="#3030ff" stroke-width="0.9" fill="none" />
<polygon points="155.4,321.8 159.98,317.68 161.33,320.14" stroke="none" stroke-width="1" fill="#0000ff" />
<line x1="322.3" y1="37.3" x2="322.3" y2="369" stroke="#111" stroke-width="1.3" />
<line x1="325" y1="38" x2="325" y2="369" stroke="#333" stroke-width="0.8" />
<line x1="330.9" y1="37.3" x2="330.9" y2="369" stroke="#2a2a50" stroke-width="1.2" />
<line x1="322.3" y1="37.6" x2="330.9" y2="37.6" stroke="#111" stroke-width="1.4" />
<path d="M322,42.6 Q320.6,43.5 320.6,45 L320.6,62" stroke="#111" stroke-width="1" fill="none" />
<line x1="321.4" y1="237.3" x2="321.4" y2="261.6" stroke="#222" stroke-width="1.1" />
<rect x="324.4" y="43" width="1.2" height="1.2" rx="0" stroke="none" stroke-width="0" fill="#2a2" />
<rect x="324.8" y="146" width="0.9" height="0.9" rx="0" stroke="none" stroke-width="0" fill="#2a2" />
<path d="M321.5,264.8 Q314,264 313.3,271 L313.3,287" stroke="#30f830" stroke-width="0.9" fill="none" />
<line x1="313.8" y1="287" x2="313.8" y2="298" stroke="#30f830" stroke-width="0.8" />
<line x1="320.6" y1="352" x2="320.6" y2="368" stroke="#30f830" stroke-width="0.7" />
<circle cx="317.8" cy="271.2" r="0.9" stroke="none" stroke-width="0" fill="#000"/>
<path d="M321.2,279.3 L318.8,279.6 L313.2,286.5 Q300.5,309 296.7,340 L295.8,369" stroke="#222" stroke-width="0.9" fill="none" />
<line x1="321.4" y1="280" x2="321.4" y2="369" stroke="#222" stroke-width="0.9" />
<path d="M317.8,288.6 Q316.2,288.8 315.2,292 Q312.2,305 312.3,322 Q312.6,341 316.4,353.6 Q317.4,355.6 318.6,354.2 L318.6,290 Q318.6,288.6 317.8,288.6 Z" stroke="#222" stroke-width="0.9" fill="none" />
<ellipse cx="317.4" cy="353.3" rx="1" ry="0.9" stroke="none" stroke-width="0" fill="#000" />
<circle cx="307.1" cy="314.1" r="2.1" stroke="#222" stroke-width="0.8" fill="none"/>
<circle cx="305.4" cy="322.6" r="2.8" stroke="#222" stroke-width="0.8" fill="none"/>
<circle cx="304.7" cy="332.8" r="3.7" stroke="#222" stroke-width="0.8" fill="none"/>
<circle cx="304.4" cy="344.2" r="4.6" stroke="#222" stroke-width="0.8" fill="none"/>
<circle cx="306.7" cy="360.2" r="6" stroke="#222" stroke-width="0.8" fill="none"/>
<line x1="275.5" y1="370.1" x2="353" y2="370.1" stroke="#555" stroke-width="2" stroke-linecap="round"/>
<line x1="275.5" y1="369.1" x2="353" y2="369.1" stroke="#222" stroke-width="0.6" />
<circle cx="285" cy="375.8" r="4.5" stroke="#222" stroke-width="0.9" fill="none"/>
<circle cx="285" cy="376.1" r="2.4" stroke="none" stroke-width="0" fill="#111"/>
<circle cx="285" cy="374.6" r="0.8" stroke="none" stroke-width="0" fill="#fff"/>
<line x1="281.5" y1="371" x2="282.4" y2="373" stroke="#222" stroke-width="0.7" />
<line x1="288.5" y1="371" x2="287.6" y2="373" stroke="#222" stroke-width="0.7" />
<circle cx="343.7" cy="375.8" r="4.5" stroke="#222" stroke-width="0.9" fill="none"/>
<circle cx="343.7" cy="376.1" r="2.4" stroke="none" stroke-width="0" fill="#111"/>
<circle cx="343.7" cy="374.6" r="0.8" stroke="none" stroke-width="0" fill="#fff"/>
<line x1="340.2" y1="371" x2="341.1" y2="373" stroke="#222" stroke-width="0.7" />
<line x1="347.2" y1="371" x2="346.3" y2="373" stroke="#222" stroke-width="0.7" />
<rect x="340.5" y="370.6" width="1.3" height="1.3" rx="0" stroke="none" stroke-width="0" fill="#2a2" />
<line x1="322.3" y1="30.8" x2="322.3" y2="36.5" stroke="#3030ff" stroke-width="0.9" />
<line x1="330.9" y1="30.8" x2="330.9" y2="36.5" stroke="#3030ff" stroke-width="0.9" />
<line x1="311.6" y1="30.8" x2="322.3" y2="30.8" stroke="#3030ff" stroke-width="0.9" />
<line x1="330.9" y1="30.8" x2="341.3" y2="30.8" stroke="#3030ff" stroke-width="0.9" />
<polygon points="322.3,30.8 316.8,32.4 316.8,29.2" stroke="none" stroke-width="1" fill="#0000ff" />
<polygon points="330.9,30.8 336.4,29.2 336.4,32.4" stroke="none" stroke-width="1" fill="#0000ff" />
<line x1="311" y1="89.5" x2="321.6" y2="89.5" stroke="#3030ff" stroke-width="0.9" />
<line x1="330.8" y1="89.5" x2="341.3" y2="89.5" stroke="#3030ff" stroke-width="0.9" />
<polygon points="321.8,89.5 316.3,91.1 316.3,87.9" stroke="none" stroke-width="1" fill="#0000ff" />
<polygon points="330.8,89.5 336.3,87.9 336.3,91.1" stroke="none" stroke-width="1" fill="#0000ff" />
<line x1="331.5" y1="37.2" x2="372" y2="37.2" stroke="#3030ff" stroke-width="0.9" />
<line x1="370.9" y1="37.2" x2="370.9" y2="202.5" stroke="#3030ff" stroke-width="1" />
<line x1="370.9" y1="214.5" x2="370.9" y2="380.5" stroke="#3030ff" stroke-width="1" />
<polygon points="370.9,37.2 372.5,43 369.3,43" stroke="none" stroke-width="1" fill="#0000ff" />
<polygon points="370.9,380.5 369.3,374.7 372.5,374.7" stroke="none" stroke-width="1" fill="#0000ff" />
<line x1="302.3" y1="279.3" x2="313.3" y2="279.3" stroke="#3030ff" stroke-width="0.9" />
<line x1="331" y1="279.3" x2="342.2" y2="279.3" stroke="#3030ff" stroke-width="0.9" />
<polygon points="313.3,279.3 307.8,280.9 307.8,277.7" stroke="none" stroke-width="1" fill="#0000ff" />
<polygon points="331,279.3 336.5,277.7 336.5,280.9" stroke="none" stroke-width="1" fill="#0000ff" />
<line x1="268.2" y1="358.3" x2="268.2" y2="381.7" stroke="#3030ff" stroke-width="0.9" />
<line x1="268.2" y1="369.7" x2="274" y2="369.7" stroke="#3030ff" stroke-width="0.8" />
<polygon points="268.2,369.3 266.6,363.8 269.8,363.8" stroke="none" stroke-width="1" fill="#0000ff" />
<polygon points="268.2,372.2 269.8,377.7 266.6,377.7" stroke="none" stroke-width="1" fill="#0000ff" />
<line x1="362.1" y1="359.7" x2="362.1" y2="370.6" stroke="#3030ff" stroke-width="0.9" />
<line x1="362.1" y1="380.4" x2="362.1" y2="391.4" stroke="#3030ff" stroke-width="0.9" />
<line x1="354" y1="370.4" x2="362.1" y2="370.4" stroke="#3030ff" stroke-width="0.8" />
<line x1="347.5" y1="380.5" x2="371.7" y2="380.5" stroke="#3030ff" stroke-width="0.8" />
<polygon points="362.1,370.4 360.5,364.9 363.7,364.9" stroke="none" stroke-width="1" fill="#0000ff" />
<polygon points="362.1,380.5 363.7,386 360.5,386" stroke="none" stroke-width="1" fill="#0000ff" />
<line x1="468.4" y1="36.5" x2="468.4" y2="369" stroke="#333" stroke-width="2.2" />
<line x1="578.5" y1="36.5" x2="578.5" y2="369" stroke="#333" stroke-width="2.2" />
<line x1="473.3" y1="43" x2="473.3" y2="364" stroke="#333" stroke-width="0.9" />
<line x1="573.4" y1="43" x2="573.4" y2="364" stroke="#333" stroke-width="0.9" />
<line x1="466.9" y1="37.35" x2="579.7" y2="37.35" stroke="#555" stroke-width="2.6" />
<line x1="467.6" y1="42.75" x2="579" y2="42.75" stroke="#555" stroke-width="1.5" />
<rect x="471.95" y="39.3" width="1.1" height="1.2" rx="0" stroke="none" stroke-width="0" fill="#222" />
<rect x="478.9" y="39.3" width="1.1" height="1.2" rx="0" stroke="none" stroke-width="0" fill="#222" />
<rect x="485.85" y="39.3" width="1.1" height="1.2" rx="0" stroke="none" stroke-width="0" fill="#222" />
<rect x="492.8" y="39.3" width="1.1" height="1.2" rx="0" stroke="none" stroke-width="0" fill="#222" />
<rect x="499.75" y="39.3" width="1.1" height="1.2" rx="0" stroke="none" stroke-width="0" fill="#222" />
<rect x="506.7" y="39.3" width="1.1" height="1.2" rx="0" stroke="none" stroke-width="0" fill="#222" />
<rect x="513.65" y="39.3" width="1.1" height="1.2" rx="0" stroke="none" stroke-width="0" fill="#222" />
<rect x="520.6" y="39.3" width="1.1" height="1.2" rx="0" stroke="none" stroke-width="0" fill="#222" />
<rect x="527.55" y="39.3" width="1.1" height="1.2" rx="0" stroke="none" stroke-width="0" fill="#222" />
<rect x="534.5" y="39.3" width="1.1" height="1.2" rx="0" stroke="none" stroke-width="0" fill="#222" />
<rect x="541.45" y="39.3" width="1.1" height="1.2" rx="0" stroke="none" stroke-width="0" fill="#222" />
<rect x="548.4" y="39.3" width="1.1" height="1.2" rx="0" stroke="none" stroke-width="0" fill="#222" />
<rect x="555.35" y="39.3" width="1.1" height="1.2" rx="0" stroke="none" stroke-width="0" fill="#222" />
<rect x="562.3" y="39.3" width="1.1" height="1.2" rx="0" stroke="none" stroke-width="0" fill="#222" />
<rect x="569.25" y="39.3" width="1.1" height="1.2" rx="0" stroke="none" stroke-width="0" fill="#222" />
<rect x="480" y="43.2" width="1.1" height="1.3" rx="0" stroke="none" stroke-width="0" fill="#222" />
<rect x="522.3" y="43.2" width="1.1" height="1.3" rx="0" stroke="none" stroke-width="0" fill="#222" />
<rect x="565.7" y="43.2" width="1.1" height="1.3" rx="0" stroke="none" stroke-width="0" fill="#222" />
<rect x="469.4" y="52" width="1.7" height="1" rx="0" stroke="none" stroke-width="0" fill="#222" />
<rect x="575.5" y="52" width="1.7" height="1" rx="0" stroke="none" stroke-width="0" fill="#222" />
<rect x="469.4" y="65.1" width="1.7" height="1" rx="0" stroke="none" stroke-width="0" fill="#222" />
<rect x="575.5" y="65.1" width="1.7" height="1" rx="0" stroke="none" stroke-width="0" fill="#222" />
<rect x="469.4" y="78.2" width="1.7" height="1" rx="0" stroke="none" stroke-width="0" fill="#222" />
<rect x="575.5" y="78.2" width="1.7" height="1" rx="0" stroke="none" stroke-width="0" fill="#222" />
<rect x="469.4" y="91.3" width="1.7" height="1" rx="0" stroke="none" stroke-width="0" fill="#222" />
<rect x="575.5" y="91.3" width="1.7" height="1" rx="0" stroke="none" stroke-width="0" fill="#222" />
<rect x="469.4" y="104.4" width="1.7" height="1" rx="0" stroke="none" stroke-width="0" fill="#222" />
<rect x="575.5" y="104.4" width="1.7" height="1" rx="0" stroke="none" stroke-width="0" fill="#222" />
<rect x="469.4" y="117.5" width="1.7" height="1" rx="0" stroke="none" stroke-width="0" fill="#222" />
<rect x="575.5" y="117.5" width="1.7" height="1" rx="0" stroke="none" stroke-width="0" fill="#222" />
<rect x="469.4" y="130.6" width="1.7" height="1" rx="0" stroke="none" stroke-width="0" fill="#222" />
<rect x="575.5" y="130.6" width="1.7" height="1" rx="0" stroke="none" stroke-width="0" fill="#222" />
<rect x="469.4" y="143.7" width="1.7" height="1" rx="0" stroke="none" stroke-width="0" fill="#222" />
<rect x="575.5" y="143.7" width="1.7" height="1" rx="0" stroke="none" stroke-width="0" fill="#222" />
<rect x="469.4" y="156.8" width="1.7" height="1" rx="0" stroke="none" stroke-width="0" fill="#222" />
<rect x="575.5" y="156.8" width="1.7" height="1" rx="0" stroke="none" stroke-width="0" fill="#222" />
<rect x="469.4" y="169.9" width="1.7" height="1" rx="0" stroke="none" stroke-width="0" fill="#222" />
<rect x="575.5" y="169.9" width="1.7" height="1" rx="0" stroke="none" stroke-width="0" fill="#222" />
<rect x="469.4" y="183" width="1.7" height="1" rx="0" stroke="none" stroke-width="0" fill="#222" />
<rect x="575.5" y="183" width="1.7" height="1" rx="0" stroke="none" stroke-width="0" fill="#222" />
<rect x="469.4" y="196.1" width="1.7" height="1" rx="0" stroke="none" stroke-width="0" fill="#222" />
<rect x="575.5" y="196.1" width="1.7" height="1" rx="0" stroke="none" stroke-width="0" fill="#222" />
<rect x="469.4" y="209.2" width="1.7" height="1" rx="0" stroke="none" stroke-width="0" fill="#222" />
<rect x="575.5" y="209.2" width="1.7" height="1" rx="0" stroke="none" stroke-width="0" fill="#222" />
<rect x="469.4" y="222.3" width="1.7" height="1" rx="0" stroke="none" stroke-width="0" fill="#222" />
<rect x="575.5" y="222.3" width="1.7" height="1" rx="0" stroke="none" stroke-width="0" fill="#222" />
<rect x="469.4" y="235.4" width="1.7" height="1" rx="0" stroke="none" stroke-width="0" fill="#222" />
<rect x="575.5" y="235.4" width="1.7" height="1" rx="0" stroke="none" stroke-width="0" fill="#222" />
<rect x="469.4" y="248.5" width="1.7" height="1" rx="0" stroke="none" stroke-width="0" fill="#222" />
<rect x="575.5" y="248.5" width="1.7" height="1" rx="0" stroke="none" stroke-width="0" fill="#222" />
<rect x="469.4" y="261.6" width="1.7" height="1" rx="0" stroke="none" stroke-width="0" fill="#222" />
<rect x="575.5" y="261.6" width="1.7" height="1" rx="0" stroke="none" stroke-width="0" fill="#222" />
<rect x="469.4" y="274.7" width="1.7" height="1" rx="0" stroke="none" stroke-width="0" fill="#222" />
<rect x="575.5" y="274.7" width="1.7" height="1" rx="0" stroke="none" stroke-width="0" fill="#222" />
<rect x="469.4" y="287.8" width="1.7" height="1" rx="0" stroke="none" stroke-width="0" fill="#222" />
<rect x="575.5" y="287.8" width="1.7" height="1" rx="0" stroke="none" stroke-width="0" fill="#222" />
<rect x="469.4" y="300.9" width="1.7" height="1" rx="0" stroke="none" stroke-width="0" fill="#222" />
<rect x="575.5" y="300.9" width="1.7" height="1" rx="0" stroke="none" stroke-width="0" fill="#222" />
<rect x="469.4" y="314" width="1.7" height="1" rx="0" stroke="none" stroke-width="0" fill="#222" />
<rect x="575.5" y="314" width="1.7" height="1" rx="0" stroke="none" stroke-width="0" fill="#222" />
<rect x="469.4" y="327.1" width="1.7" height="1" rx="0" stroke="none" stroke-width="0" fill="#222" />
<rect x="575.5" y="327.1" width="1.7" height="1" rx="0" stroke="none" stroke-width="0" fill="#222" />
<rect x="469.4" y="340.2" width="1.7" height="1" rx="0" stroke="none" stroke-width="0" fill="#222" />
<rect x="575.5" y="340.2" width="1.7" height="1" rx="0" stroke="none" stroke-width="0" fill="#222" />
<rect x="469.4" y="353.3" width="1.7" height="1" rx="0" stroke="none" stroke-width="0" fill="#222" />
<rect x="575.5" y="353.3" width="1.7" height="1" rx="0" stroke="none" stroke-width="0" fill="#222" />
<line x1="469.4" y1="126" x2="473.3" y2="126" stroke="#333" stroke-width="0.8" />
<line x1="573.4" y1="126" x2="577.3" y2="126" stroke="#333" stroke-width="0.8" />
<line x1="469.4" y1="189.7" x2="473.3" y2="189.7" stroke="#333" stroke-width="0.8" />
<line x1="573.4" y1="189.7" x2="577.3" y2="189.7" stroke="#333" stroke-width="0.8" />
<line x1="469.4" y1="203" x2="473.3" y2="203" stroke="#333" stroke-width="0.8" />
<line x1="573.4" y1="203" x2="577.3" y2="203" stroke="#333" stroke-width="0.8" />
<circle cx="478.7" cy="49" r="1.2" stroke="none" stroke-width="0" fill="#111"/>
<circle cx="478.6" cy="64.5" r="1.2" stroke="none" stroke-width="0" fill="#111"/>
<circle cx="568" cy="49.1" r="1.2" stroke="none" stroke-width="0" fill="#111"/>
<circle cx="568" cy="64.5" r="1.2" stroke="none" stroke-width="0" fill="#111"/>
<circle cx="478.6" cy="258.6" r="1.2" stroke="none" stroke-width="0" fill="#111"/>
<rect x="503.85" y="95.82" width="3.3" height="1.36" rx="0.6" stroke="none" stroke-width="0" fill="#000" />
<rect x="509.09" y="95.82" width="3.3" height="1.36" rx="0.6" stroke="none" stroke-width="0" fill="#000" />
<rect x="514.33" y="95.82" width="3.3" height="1.36" rx="0.6" stroke="none" stroke-width="0" fill="#000" />
<rect x="519.57" y="95.82" width="3.3" height="1.36" rx="0.6" stroke="none" stroke-width="0" fill="#000" />
<rect x="524.81" y="95.82" width="3.3" height="1.36" rx="0.6" stroke="none" stroke-width="0" fill="#000" />
<rect x="530.05" y="95.82" width="3.3" height="1.36" rx="0.6" stroke="none" stroke-width="0" fill="#000" />
<rect x="535.29" y="95.82" width="3.3" height="1.36" rx="0.6" stroke="none" stroke-width="0" fill="#000" />
<rect x="540.53" y="95.82" width="3.3" height="1.36" rx="0.6" stroke="none" stroke-width="0" fill="#000" />
<rect x="506.45" y="98.39" width="3.3" height="1.36" rx="0.6" stroke="none" stroke-width="0" fill="#000" />
<rect x="511.69" y="98.39" width="3.3" height="1.36" rx="0.6" stroke="none" stroke-width="0" fill="#000" />
<rect x="516.93" y="98.39" width="3.3" height="1.36" rx="0.6" stroke="none" stroke-width="0" fill="#000" />
<rect x="522.17" y="98.39" width="3.3" height="1.36" rx="0.6" stroke="none" stroke-width="0" fill="#1f4f1f" />
<rect x="527.41" y="98.39" width="3.3" height="1.36" rx="0.6" stroke="none" stroke-width="0" fill="#000" />
<rect x="532.65" y="98.39" width="3.3" height="1.36" rx="0.6" stroke="none" stroke-width="0" fill="#000" />
<rect x="537.89" y="98.39" width="3.3" height="1.36" rx="0.6" stroke="none" stroke-width="0" fill="#000" />
<rect x="503.85" y="100.96" width="3.3" height="1.36" rx="0.6" stroke="none" stroke-width="0" fill="#000" />
<rect x="509.09" y="100.96" width="3.3" height="1.36" rx="0.6" stroke="none" stroke-width="0" fill="#000" />
<rect x="514.33" y="100.96" width="3.3" height="1.36" rx="0.6" stroke="none" stroke-width="0" fill="#000" />
<rect x="519.57" y="100.96" width="3.3" height="1.36" rx="0.6" stroke="none" stroke-width="0" fill="#000" />
<rect x="524.81" y="100.96" width="3.3" height="1.36" rx="0.6" stroke="none" stroke-width="0" fill="#000" />
<rect x="530.05" y="100.96" width="3.3" height="1.36" rx="0.6" stroke="none" stroke-width="0" fill="#000" />
<rect x="535.29" y="100.96" width="3.3" height="1.36" rx="0.6" stroke="none" stroke-width="0" fill="#000" />
<rect x="540.53" y="100.96" width="3.3" height="1.36" rx="0.6" stroke="none" stroke-width="0" fill="#000" />
<rect x="506.45" y="103.53" width="3.3" height="1.36" rx="0.6" stroke="none" stroke-width="0" fill="#000" />
<rect x="511.69" y="103.53" width="3.3" height="1.36" rx="0.6" stroke="none" stroke-width="0" fill="#000" />
<rect x="516.93" y="103.53" width="3.3" height="1.36" rx="0.6" stroke="none" stroke-width="0" fill="#000" />
<rect x="522.17" y="103.53" width="3.3" height="1.36" rx="0.6" stroke="none" stroke-width="0" fill="#1f4f1f" />
<rect x="527.41" y="103.53" width="3.3" height="1.36" rx="0.6" stroke="none" stroke-width="0" fill="#000" />
<rect x="532.65" y="103.53" width="3.3" height="1.36" rx="0.6" stroke="none" stroke-width="0" fill="#000" />
<rect x="537.89" y="103.53" width="3.3" height="1.36" rx="0.6" stroke="none" stroke-width="0" fill="#000" />
<rect x="503.85" y="106.1" width="3.3" height="1.36" rx="0.6" stroke="none" stroke-width="0" fill="#000" />
<rect x="509.09" y="106.1" width="3.3" height="1.36" rx="0.6" stroke="none" stroke-width="0" fill="#000" />
<rect x="514.33" y="106.1" width="3.3" height="1.36" rx="0.6" stroke="none" stroke-width="0" fill="#000" />
<rect x="519.57" y="106.1" width="3.3" height="1.36" rx="0.6" stroke="none" stroke-width="0" fill="#000" />
<rect x="524.81" y="106.1" width="3.3" height="1.36" rx="0.6" stroke="none" stroke-width="0" fill="#000" />
<rect x="530.05" y="106.1" width="3.3" height="1.36" rx="0.6" stroke="none" stroke-width="0" fill="#000" />
<rect x="535.29" y="106.1" width="3.3" height="1.36" rx="0.6" stroke="none" stroke-width="0" fill="#000" />
<rect x="540.53" y="106.1" width="3.3" height="1.36" rx="0.6" stroke="none" stroke-width="0" fill="#000" />
<rect x="506.45" y="108.67" width="3.3" height="1.36" rx="0.6" stroke="none" stroke-width="0" fill="#000" />
<rect x="511.69" y="108.67" width="3.3" height="1.36" rx="0.6" stroke="none" stroke-width="0" fill="#000" />
<rect x="516.93" y="108.67" width="3.3" height="1.36" rx="0.6" stroke="none" stroke-width="0" fill="#000" />
<rect x="522.17" y="108.67" width="3.3" height="1.36" rx="0.6" stroke="none" stroke-width="0" fill="#1f4f1f" />
<rect x="527.41" y="108.67" width="3.3" height="1.36" rx="0.6" stroke="none" stroke-width="0" fill="#000" />
<rect x="532.65" y="108.67" width="3.3" height="1.36" rx="0.6" stroke="none" stroke-width="0" fill="#000" />
<rect x="537.89" y="108.67" width="3.3" height="1.36" rx="0.6" stroke="none" stroke-width="0" fill="#000" />
<rect x="503.85" y="111.24" width="3.3" height="1.36" rx="0.6" stroke="none" stroke-width="0" fill="#000" />
<rect x="509.09" y="111.24" width="3.3" height="1.36" rx="0.6" stroke="none" stroke-width="0" fill="#000" />
<rect x="514.33" y="111.24" width="3.3" height="1.36" rx="0.6" stroke="none" stroke-width="0" fill="#000" />
<rect x="519.57" y="111.24" width="3.3" height="1.36" rx="0.6" stroke="none" stroke-width="0" fill="#000" />
<rect x="524.81" y="111.24" width="3.3" height="1.36" rx="0.6" stroke="none" stroke-width="0" fill="#000" />
<rect x="530.05" y="111.24" width="3.3" height="1.36" rx="0.6" stroke="none" stroke-width="0" fill="#000" />
<rect x="535.29" y="111.24" width="3.3" height="1.36" rx="0.6" stroke="none" stroke-width="0" fill="#000" />
<rect x="540.53" y="111.24" width="3.3" height="1.36" rx="0.6" stroke="none" stroke-width="0" fill="#000" />
<rect x="506.45" y="113.81" width="3.3" height="1.36" rx="0.6" stroke="none" stroke-width="0" fill="#000" />
<rect x="511.69" y="113.81" width="3.3" height="1.36" rx="0.6" stroke="none" stroke-width="0" fill="#000" />
<rect x="516.93" y="113.81" width="3.3" height="1.36" rx="0.6" stroke="none" stroke-width="0" fill="#000" />
<rect x="522.17" y="113.81" width="3.3" height="1.36" rx="0.6" stroke="none" stroke-width="0" fill="#1f4f1f" />
<rect x="527.41" y="113.81" width="3.3" height="1.36" rx="0.6" stroke="none" stroke-width="0" fill="#000" />
<rect x="532.65" y="113.81" width="3.3" height="1.36" rx="0.6" stroke="none" stroke-width="0" fill="#000" />
<rect x="537.89" y="113.81" width="3.3" height="1.36" rx="0.6" stroke="none" stroke-width="0" fill="#000" />
<rect x="503.85" y="116.38" width="3.3" height="1.36" rx="0.6" stroke="none" stroke-width="0" fill="#000" />
<rect x="509.09" y="116.38" width="3.3" height="1.36" rx="0.6" stroke="none" stroke-width="0" fill="#000" />
<rect x="514.33" y="116.38" width="3.3" height="1.36" rx="0.6" stroke="none" stroke-width="0" fill="#000" />
<rect x="519.57" y="116.38" width="3.3" height="1.36" rx="0.6" stroke="none" stroke-width="0" fill="#000" />
<rect x="524.81" y="116.38" width="3.3" height="1.36" rx="0.6" stroke="none" stroke-width="0" fill="#000" />
<rect x="530.05" y="116.38" width="3.3" height="1.36" rx="0.6" stroke="none" stroke-width="0" fill="#000" />
<rect x="535.29" y="116.38" width="3.3" height="1.36" rx="0.6" stroke="none" stroke-width="0" fill="#000" />
<rect x="540.53" y="116.38" width="3.3" height="1.36" rx="0.6" stroke="none" stroke-width="0" fill="#000" />
<rect x="506.45" y="118.95" width="3.3" height="1.36" rx="0.6" stroke="none" stroke-width="0" fill="#1a8a1a" />
<rect x="511.69" y="118.95" width="3.3" height="1.36" rx="0.6" stroke="none" stroke-width="0" fill="#1a8a1a" />
<rect x="516.93" y="118.95" width="3.3" height="1.36" rx="0.6" stroke="none" stroke-width="0" fill="#1a8a1a" />
<rect x="522.17" y="118.95" width="3.3" height="1.36" rx="0.6" stroke="none" stroke-width="0" fill="#1a8a1a" />
<rect x="527.41" y="118.95" width="3.3" height="1.36" rx="0.6" stroke="none" stroke-width="0" fill="#1a8a1a" />
<rect x="532.65" y="118.95" width="3.3" height="1.36" rx="0.6" stroke="none" stroke-width="0" fill="#1a8a1a" />
<rect x="537.89" y="118.95" width="3.3" height="1.36" rx="0.6" stroke="none" stroke-width="0" fill="#1a8a1a" />
<rect x="503.85" y="121.52" width="3.3" height="1.36" rx="0.6" stroke="none" stroke-width="0" fill="#000" />
<rect x="509.09" y="121.52" width="3.3" height="1.36" rx="0.6" stroke="none" stroke-width="0" fill="#000" />
<rect x="514.33" y="121.52" width="3.3" height="1.36" rx="0.6" stroke="none" stroke-width="0" fill="#000" />
<rect x="519.57" y="121.52" width="3.3" height="1.36" rx="0.6" stroke="none" stroke-width="0" fill="#000" />
<rect x="524.81" y="121.52" width="3.3" height="1.36" rx="0.6" stroke="none" stroke-width="0" fill="#000" />
<rect x="530.05" y="121.52" width="3.3" height="1.36" rx="0.6" stroke="none" stroke-width="0" fill="#000" />
<rect x="535.29" y="121.52" width="3.3" height="1.36" rx="0.6" stroke="none" stroke-width="0" fill="#000" />
<rect x="540.53" y="121.52" width="3.3" height="1.36" rx="0.6" stroke="none" stroke-width="0" fill="#000" />
<rect x="503.85" y="160.72" width="3.3" height="1.36" rx="0.6" stroke="none" stroke-width="0" fill="#000" />
<rect x="509.09" y="160.72" width="3.3" height="1.36" rx="0.6" stroke="none" stroke-width="0" fill="#000" />
<rect x="514.33" y="160.72" width="3.3" height="1.36" rx="0.6" stroke="none" stroke-width="0" fill="#000" />
<rect x="519.57" y="160.72" width="3.3" height="1.36" rx="0.6" stroke="none" stroke-width="0" fill="#000" />
<rect x="524.81" y="160.72" width="3.3" height="1.36" rx="0.6" stroke="none" stroke-width="0" fill="#000" />
<rect x="530.05" y="160.72" width="3.3" height="1.36" rx="0.6" stroke="none" stroke-width="0" fill="#000" />
<rect x="535.29" y="160.72" width="3.3" height="1.36" rx="0.6" stroke="none" stroke-width="0" fill="#000" />
<rect x="540.53" y="160.72" width="3.3" height="1.36" rx="0.6" stroke="none" stroke-width="0" fill="#000" />
<rect x="506.45" y="163.29" width="3.3" height="1.36" rx="0.6" stroke="none" stroke-width="0" fill="#000" />
<rect x="511.69" y="163.29" width="3.3" height="1.36" rx="0.6" stroke="none" stroke-width="0" fill="#000" />
<rect x="516.93" y="163.29" width="3.3" height="1.36" rx="0.6" stroke="none" stroke-width="0" fill="#000" />
<rect x="522.17" y="163.29" width="3.3" height="1.36" rx="0.6" stroke="none" stroke-width="0" fill="#1f4f1f" />
<rect x="527.41" y="163.29" width="3.3" height="1.36" rx="0.6" stroke="none" stroke-width="0" fill="#000" />
<rect x="532.65" y="163.29" width="3.3" height="1.36" rx="0.6" stroke="none" stroke-width="0" fill="#000" />
<rect x="537.89" y="163.29" width="3.3" height="1.36" rx="0.6" stroke="none" stroke-width="0" fill="#000" />
<rect x="503.85" y="165.86" width="3.3" height="1.36" rx="0.6" stroke="none" stroke-width="0" fill="#000" />
<rect x="509.09" y="165.86" width="3.3" height="1.36" rx="0.6" stroke="none" stroke-width="0" fill="#000" />
<rect x="514.33" y="165.86" width="3.3" height="1.36" rx="0.6" stroke="none" stroke-width="0" fill="#000" />
<rect x="519.57" y="165.86" width="3.3" height="1.36" rx="0.6" stroke="none" stroke-width="0" fill="#000" />
<rect x="524.81" y="165.86" width="3.3" height="1.36" rx="0.6" stroke="none" stroke-width="0" fill="#000" />
<rect x="530.05" y="165.86" width="3.3" height="1.36" rx="0.6" stroke="none" stroke-width="0" fill="#000" />
<rect x="535.29" y="165.86" width="3.3" height="1.36" rx="0.6" stroke="none" stroke-width="0" fill="#000" />
<rect x="540.53" y="165.86" width="3.3" height="1.36" rx="0.6" stroke="none" stroke-width="0" fill="#000" />
<rect x="506.45" y="168.43" width="3.3" height="1.36" rx="0.6" stroke="none" stroke-width="0" fill="#000" />
<rect x="511.69" y="168.43" width="3.3" height="1.36" rx="0.6" stroke="none" stroke-width="0" fill="#000" />
<rect x="516.93" y="168.43" width="3.3" height="1.36" rx="0.6" stroke="none" stroke-width="0" fill="#000" />
<rect x="522.17" y="168.43" width="3.3" height="1.36" rx="0.6" stroke="none" stroke-width="0" fill="#1f4f1f" />
<rect x="527.41" y="168.43" width="3.3" height="1.36" rx="0.6" stroke="none" stroke-width="0" fill="#000" />
<rect x="532.65" y="168.43" width="3.3" height="1.36" rx="0.6" stroke="none" stroke-width="0" fill="#000" />
<rect x="537.89" y="168.43" width="3.3" height="1.36" rx="0.6" stroke="none" stroke-width="0" fill="#000" />
<rect x="503.85" y="171" width="3.3" height="1.36" rx="0.6" stroke="none" stroke-width="0" fill="#000" />
<rect x="509.09" y="171" width="3.3" height="1.36" rx="0.6" stroke="none" stroke-width="0" fill="#000" />
<rect x="514.33" y="171" width="3.3" height="1.36" rx="0.6" stroke="none" stroke-width="0" fill="#000" />
<rect x="519.57" y="171" width="3.3" height="1.36" rx="0.6" stroke="none" stroke-width="0" fill="#000" />
<rect x="524.81" y="171" width="3.3" height="1.36" rx="0.6" stroke="none" stroke-width="0" fill="#000" />
<rect x="530.05" y="171" width="3.3" height="1.36" rx="0.6" stroke="none" stroke-width="0" fill="#000" />
<rect x="535.29" y="171" width="3.3" height="1.36" rx="0.6" stroke="none" stroke-width="0" fill="#000" />
<rect x="540.53" y="171" width="3.3" height="1.36" rx="0.6" stroke="none" stroke-width="0" fill="#000" />
<rect x="506.45" y="173.57" width="3.3" height="1.36" rx="0.6" stroke="none" stroke-width="0" fill="#1a8a1a" />
<rect x="511.69" y="173.57" width="3.3" height="1.36" rx="0.6" stroke="none" stroke-width="0" fill="#1a8a1a" />
<rect x="516.93" y="173.57" width="3.3" height="1.36" rx="0.6" stroke="none" stroke-width="0" fill="#1a8a1a" />
<rect x="522.17" y="173.57" width="3.3" height="1.36" rx="0.6" stroke="none" stroke-width="0" fill="#1a8a1a" />
<rect x="527.41" y="173.57" width="3.3" height="1.36" rx="0.6" stroke="none" stroke-width="0" fill="#1a8a1a" />
<rect x="532.65" y="173.57" width="3.3" height="1.36" rx="0.6" stroke="none" stroke-width="0" fill="#1a8a1a" />
<rect x="537.89" y="173.57" width="3.3" height="1.36" rx="0.6" stroke="none" stroke-width="0" fill="#1a8a1a" />
<rect x="503.85" y="176.14" width="3.3" height="1.36" rx="0.6" stroke="none" stroke-width="0" fill="#000" />
<rect x="509.09" y="176.14" width="3.3" height="1.36" rx="0.6" stroke="none" stroke-width="0" fill="#000" />
<rect x="514.33" y="176.14" width="3.3" height="1.36" rx="0.6" stroke="none" stroke-width="0" fill="#000" />
<rect x="519.57" y="176.14" width="3.3" height="1.36" rx="0.6" stroke="none" stroke-width="0" fill="#000" />
<rect x="524.81" y="176.14" width="3.3" height="1.36" rx="0.6" stroke="none" stroke-width="0" fill="#000" />
<rect x="530.05" y="176.14" width="3.3" height="1.36" rx="0.6" stroke="none" stroke-width="0" fill="#000" />
<rect x="535.29" y="176.14" width="3.3" height="1.36" rx="0.6" stroke="none" stroke-width="0" fill="#000" />
<rect x="540.53" y="176.14" width="3.3" height="1.36" rx="0.6" stroke="none" stroke-width="0" fill="#000" />
<rect x="506.45" y="178.71" width="3.3" height="1.36" rx="0.6" stroke="none" stroke-width="0" fill="#000" />
<rect x="511.69" y="178.71" width="3.3" height="1.36" rx="0.6" stroke="none" stroke-width="0" fill="#000" />
<rect x="516.93" y="178.71" width="3.3" height="1.36" rx="0.6" stroke="none" stroke-width="0" fill="#000" />
<rect x="522.17" y="178.71" width="3.3" height="1.36" rx="0.6" stroke="none" stroke-width="0" fill="#1f4f1f" />
<rect x="527.41" y="178.71" width="3.3" height="1.36" rx="0.6" stroke="none" stroke-width="0" fill="#000" />
<rect x="532.65" y="178.71" width="3.3" height="1.36" rx="0.6" stroke="none" stroke-width="0" fill="#000" />
<rect x="537.89" y="178.71" width="3.3" height="1.36" rx="0.6" stroke="none" stroke-width="0" fill="#000" />
<rect x="503.85" y="181.28" width="3.3" height="1.36" rx="0.6" stroke="none" stroke-width="0" fill="#000" />
<rect x="509.09" y="181.28" width="3.3" height="1.36" rx="0.6" stroke="none" stroke-width="0" fill="#000" />
<rect x="514.33" y="181.28" width="3.3" height="1.36" rx="0.6" stroke="none" stroke-width="0" fill="#000" />
<rect x="519.57" y="181.28" width="3.3" height="1.36" rx="0.6" stroke="none" stroke-width="0" fill="#000" />
<rect x="524.81" y="181.28" width="3.3" height="1.36" rx="0.6" stroke="none" stroke-width="0" fill="#000" />
<rect x="530.05" y="181.28" width="3.3" height="1.36" rx="0.6" stroke="none" stroke-width="0" fill="#000" />
<rect x="535.29" y="181.28" width="3.3" height="1.36" rx="0.6" stroke="none" stroke-width="0" fill="#000" />
<rect x="540.53" y="181.28" width="3.3" height="1.36" rx="0.6" stroke="none" stroke-width="0" fill="#000" />
<rect x="506.45" y="183.85" width="3.3" height="1.36" rx="0.6" stroke="none" stroke-width="0" fill="#000" />
<rect x="511.69" y="183.85" width="3.3" height="1.36" rx="0.6" stroke="none" stroke-width="0" fill="#000" />
<rect x="516.93" y="183.85" width="3.3" height="1.36" rx="0.6" stroke="none" stroke-width="0" fill="#000" />
<rect x="522.17" y="183.85" width="3.3" height="1.36" rx="0.6" stroke="none" stroke-width="0" fill="#1f4f1f" />
<rect x="527.41" y="183.85" width="3.3" height="1.36" rx="0.6" stroke="none" stroke-width="0" fill="#000" />
<rect x="532.65" y="183.85" width="3.3" height="1.36" rx="0.6" stroke="none" stroke-width="0" fill="#000" />
<rect x="537.89" y="183.85" width="3.3" height="1.36" rx="0.6" stroke="none" stroke-width="0" fill="#000" />
<rect x="503.85" y="186.42" width="3.3" height="1.36" rx="0.6" stroke="none" stroke-width="0" fill="#000" />
<rect x="509.09" y="186.42" width="3.3" height="1.36" rx="0.6" stroke="none" stroke-width="0" fill="#000" />
<rect x="514.33" y="186.42" width="3.3" height="1.36" rx="0.6" stroke="none" stroke-width="0" fill="#000" />
<rect x="519.57" y="186.42" width="3.3" height="1.36" rx="0.6" stroke="none" stroke-width="0" fill="#000" />
<rect x="524.81" y="186.42" width="3.3" height="1.36" rx="0.6" stroke="none" stroke-width="0" fill="#000" />
<rect x="530.05" y="186.42" width="3.3" height="1.36" rx="0.6" stroke="none" stroke-width="0" fill="#000" />
<rect x="535.29" y="186.42" width="3.3" height="1.36" rx="0.6" stroke="none" stroke-width="0" fill="#000" />
<rect x="540.53" y="186.42" width="3.3" height="1.36" rx="0.6" stroke="none" stroke-width="0" fill="#000" />
<rect x="503.85" y="226.22" width="3.3" height="1.36" rx="0.6" stroke="none" stroke-width="0" fill="#000" />
<rect x="509.09" y="226.22" width="3.3" height="1.36" rx="0.6" stroke="none" stroke-width="0" fill="#000" />
<rect x="514.33" y="226.22" width="3.3" height="1.36" rx="0.6" stroke="none" stroke-width="0" fill="#000" />
<rect x="519.57" y="226.22" width="3.3" height="1.36" rx="0.6" stroke="none" stroke-width="0" fill="#000" />
<rect x="524.81" y="226.22" width="3.3" height="1.36" rx="0.6" stroke="none" stroke-width="0" fill="#000" />
<rect x="530.05" y="226.22" width="3.3" height="1.36" rx="0.6" stroke="none" stroke-width="0" fill="#000" />
<rect x="535.29" y="226.22" width="3.3" height="1.36" rx="0.6" stroke="none" stroke-width="0" fill="#000" />
<rect x="540.53" y="226.22" width="3.3" height="1.36" rx="0.6" stroke="none" stroke-width="0" fill="#000" />
<rect x="506.45" y="228.79" width="3.3" height="1.36" rx="0.6" stroke="none" stroke-width="0" fill="#1a8a1a" />
<rect x="511.69" y="228.79" width="3.3" height="1.36" rx="0.6" stroke="none" stroke-width="0" fill="#1a8a1a" />
<rect x="516.93" y="228.79" width="3.3" height="1.36" rx="0.6" stroke="none" stroke-width="0" fill="#1a8a1a" />
<rect x="522.17" y="228.79" width="3.3" height="1.36" rx="0.6" stroke="none" stroke-width="0" fill="#1a8a1a" />
<rect x="527.41" y="228.79" width="3.3" height="1.36" rx="0.6" stroke="none" stroke-width="0" fill="#1a8a1a" />
<rect x="532.65" y="228.79" width="3.3" height="1.36" rx="0.6" stroke="none" stroke-width="0" fill="#1a8a1a" />
<rect x="537.89" y="228.79" width="3.3" height="1.36" rx="0.6" stroke="none" stroke-width="0" fill="#1a8a1a" />
<rect x="503.85" y="231.36" width="3.3" height="1.36" rx="0.6" stroke="none" stroke-width="0" fill="#000" />
<rect x="509.09" y="231.36" width="3.3" height="1.36" rx="0.6" stroke="none" stroke-width="0" fill="#000" />
<rect x="514.33" y="231.36" width="3.3" height="1.36" rx="0.6" stroke="none" stroke-width="0" fill="#000" />
<rect x="519.57" y="231.36" width="3.3" height="1.36" rx="0.6" stroke="none" stroke-width="0" fill="#000" />
<rect x="524.81" y="231.36" width="3.3" height="1.36" rx="0.6" stroke="none" stroke-width="0" fill="#000" />
<rect x="530.05" y="231.36" width="3.3" height="1.36" rx="0.6" stroke="none" stroke-width="0" fill="#000" />
<rect x="535.29" y="231.36" width="3.3" height="1.36" rx="0.6" stroke="none" stroke-width="0" fill="#000" />
<rect x="540.53" y="231.36" width="3.3" height="1.36" rx="0.6" stroke="none" stroke-width="0" fill="#000" />
<rect x="506.45" y="233.93" width="3.3" height="1.36" rx="0.6" stroke="none" stroke-width="0" fill="#000" />
<rect x="511.69" y="233.93" width="3.3" height="1.36" rx="0.6" stroke="none" stroke-width="0" fill="#000" />
<rect x="516.93" y="233.93" width="3.3" height="1.36" rx="0.6" stroke="none" stroke-width="0" fill="#000" />
<rect x="522.17" y="233.93" width="3.3" height="1.36" rx="0.6" stroke="none" stroke-width="0" fill="#1f4f1f" />
<rect x="527.41" y="233.93" width="3.3" height="1.36" rx="0.6" stroke="none" stroke-width="0" fill="#000" />
<rect x="532.65" y="233.93" width="3.3" height="1.36" rx="0.6" stroke="none" stroke-width="0" fill="#000" />
<rect x="537.89" y="233.93" width="3.3" height="1.36" rx="0.6" stroke="none" stroke-width="0" fill="#000" />
<rect x="503.85" y="236.5" width="3.3" height="1.36" rx="0.6" stroke="none" stroke-width="0" fill="#000" />
<rect x="509.09" y="236.5" width="3.3" height="1.36" rx="0.6" stroke="none" stroke-width="0" fill="#000" />
<rect x="514.33" y="236.5" width="3.3" height="1.36" rx="0.6" stroke="none" stroke-width="0" fill="#000" />
<rect x="519.57" y="236.5" width="3.3" height="1.36" rx="0.6" stroke="none" stroke-width="0" fill="#000" />
<rect x="524.81" y="236.5" width="3.3" height="1.36" rx="0.6" stroke="none" stroke-width="0" fill="#000" />
<rect x="530.05" y="236.5" width="3.3" height="1.36" rx="0.6" stroke="none" stroke-width="0" fill="#000" />
<rect x="535.29" y="236.5" width="3.3" height="1.36" rx="0.6" stroke="none" stroke-width="0" fill="#000" />
<rect x="540.53" y="236.5" width="3.3" height="1.36" rx="0.6" stroke="none" stroke-width="0" fill="#000" />
<rect x="506.45" y="239.07" width="3.3" height="1.36" rx="0.6" stroke="none" stroke-width="0" fill="#000" />
<rect x="511.69" y="239.07" width="3.3" height="1.36" rx="0.6" stroke="none" stroke-width="0" fill="#000" />
<rect x="516.93" y="239.07" width="3.3" height="1.36" rx="0.6" stroke="none" stroke-width="0" fill="#000" />
<rect x="522.17" y="239.07" width="3.3" height="1.36" rx="0.6" stroke="none" stroke-width="0" fill="#1f4f1f" />
<rect x="527.41" y="239.07" width="3.3" height="1.36" rx="0.6" stroke="none" stroke-width="0" fill="#000" />
<rect x="532.65" y="239.07" width="3.3" height="1.36" rx="0.6" stroke="none" stroke-width="0" fill="#000" />
<rect x="537.89" y="239.07" width="3.3" height="1.36" rx="0.6" stroke="none" stroke-width="0" fill="#000" />
<rect x="503.85" y="241.64" width="3.3" height="1.36" rx="0.6" stroke="none" stroke-width="0" fill="#000" />
<rect x="509.09" y="241.64" width="3.3" height="1.36" rx="0.6" stroke="none" stroke-width="0" fill="#000" />
<rect x="514.33" y="241.64" width="3.3" height="1.36" rx="0.6" stroke="none" stroke-width="0" fill="#000" />
<rect x="519.57" y="241.64" width="3.3" height="1.36" rx="0.6" stroke="none" stroke-width="0" fill="#000" />
<rect x="524.81" y="241.64" width="3.3" height="1.36" rx="0.6" stroke="none" stroke-width="0" fill="#000" />
<rect x="530.05" y="241.64" width="3.3" height="1.36" rx="0.6" stroke="none" stroke-width="0" fill="#000" />
<rect x="535.29" y="241.64" width="3.3" height="1.36" rx="0.6" stroke="none" stroke-width="0" fill="#000" />
<rect x="540.53" y="241.64" width="3.3" height="1.36" rx="0.6" stroke="none" stroke-width="0" fill="#000" />
<rect x="506.45" y="244.21" width="3.3" height="1.36" rx="0.6" stroke="none" stroke-width="0" fill="#000" />
<rect x="511.69" y="244.21" width="3.3" height="1.36" rx="0.6" stroke="none" stroke-width="0" fill="#000" />
<rect x="516.93" y="244.21" width="3.3" height="1.36" rx="0.6" stroke="none" stroke-width="0" fill="#000" />
<rect x="522.17" y="244.21" width="3.3" height="1.36" rx="0.6" stroke="none" stroke-width="0" fill="#1f4f1f" />
<rect x="527.41" y="244.21" width="3.3" height="1.36" rx="0.6" stroke="none" stroke-width="0" fill="#000" />
<rect x="532.65" y="244.21" width="3.3" height="1.36" rx="0.6" stroke="none" stroke-width="0" fill="#000" />
<rect x="537.89" y="244.21" width="3.3" height="1.36" rx="0.6" stroke="none" stroke-width="0" fill="#000" />
<rect x="503.85" y="246.78" width="3.3" height="1.36" rx="0.6" stroke="none" stroke-width="0" fill="#000" />
<rect x="509.09" y="246.78" width="3.3" height="1.36" rx="0.6" stroke="none" stroke-width="0" fill="#000" />
<rect x="514.33" y="246.78" width="3.3" height="1.36" rx="0.6" stroke="none" stroke-width="0" fill="#000" />
<rect x="519.57" y="246.78" width="3.3" height="1.36" rx="0.6" stroke="none" stroke-width="0" fill="#000" />
<rect x="524.81" y="246.78" width="3.3" height="1.36" rx="0.6" stroke="none" stroke-width="0" fill="#000" />
<rect x="530.05" y="246.78" width="3.3" height="1.36" rx="0.6" stroke="none" stroke-width="0" fill="#000" />
<rect x="535.29" y="246.78" width="3.3" height="1.36" rx="0.6" stroke="none" stroke-width="0" fill="#000" />
<rect x="540.53" y="246.78" width="3.3" height="1.36" rx="0.6" stroke="none" stroke-width="0" fill="#000" />
<rect x="506.45" y="249.35" width="3.3" height="1.36" rx="0.6" stroke="none" stroke-width="0" fill="#000" />
<rect x="511.69" y="249.35" width="3.3" height="1.36" rx="0.6" stroke="none" stroke-width="0" fill="#000" />
<rect x="516.93" y="249.35" width="3.3" height="1.36" rx="0.6" stroke="none" stroke-width="0" fill="#000" />
<rect x="522.17" y="249.35" width="3.3" height="1.36" rx="0.6" stroke="none" stroke-width="0" fill="#1f4f1f" />
<rect x="527.41" y="249.35" width="3.3" height="1.36" rx="0.6" stroke="none" stroke-width="0" fill="#000" />
<rect x="532.65" y="249.35" width="3.3" height="1.36" rx="0.6" stroke="none" stroke-width="0" fill="#000" />
<rect x="537.89" y="249.35" width="3.3" height="1.36" rx="0.6" stroke="none" stroke-width="0" fill="#000" />
<rect x="503.85" y="251.92" width="3.3" height="1.36" rx="0.6" stroke="none" stroke-width="0" fill="#000" />
<rect x="509.09" y="251.92" width="3.3" height="1.36" rx="0.6" stroke="none" stroke-width="0" fill="#000" />
<rect x="514.33" y="251.92" width="3.3" height="1.36" rx="0.6" stroke="none" stroke-width="0" fill="#000" />
<rect x="519.57" y="251.92" width="3.3" height="1.36" rx="0.6" stroke="none" stroke-width="0" fill="#000" />
<rect x="524.81" y="251.92" width="3.3" height="1.36" rx="0.6" stroke="none" stroke-width="0" fill="#000" />
<rect x="530.05" y="251.92" width="3.3" height="1.36" rx="0.6" stroke="none" stroke-width="0" fill="#000" />
<rect x="535.29" y="251.92" width="3.3" height="1.36" rx="0.6" stroke="none" stroke-width="0" fill="#000" />
<rect x="540.53" y="251.92" width="3.3" height="1.36" rx="0.6" stroke="none" stroke-width="0" fill="#000" />
<path d="M566.73,50 L585.43,60.2 A1.6,1.6 0 0 0 586.97,57.4 L568.27,47.2 A1.6,1.6 0 0 0 566.73,50 Z" stroke="#333" stroke-width="0.8" fill="#fff" />
<circle cx="567.5" cy="48.6" r="0.88" stroke="#333" stroke-width="0.6" fill="none"/>
<circle cx="586.2" cy="58.8" r="0.88" stroke="#333" stroke-width="0.6" fill="none"/>
<path d="M559.29,239.93 L566.39,260.03 A1.6,1.6 0 0 0 569.41,258.97 L562.31,238.87 A1.6,1.6 0 0 0 559.29,239.93 Z" stroke="#333" stroke-width="0.8" fill="#fff" />
<circle cx="560.8" cy="239.4" r="0.88" stroke="#333" stroke-width="0.6" fill="none"/>
<circle cx="567.9" cy="259.5" r="0.88" stroke="#333" stroke-width="0.6" fill="none"/>
<rect x="476.4" y="265" width="93.5" height="98" rx="0" stroke="#22cc22" stroke-width="1" fill="none" />
<line x1="473.3" y1="265.5" x2="473.3" y2="280" stroke="#22cc22" stroke-width="0.9" />
<line x1="573.3" y1="330" x2="573.3" y2="363" stroke="#22cc22" stroke-width="0.9" />
<line x1="474.2" y1="276" x2="476.2" y2="277.2" stroke="#222" stroke-width="0.8" />
<line x1="572.4" y1="276" x2="570.2" y2="277.2" stroke="#222" stroke-width="0.8" />
<line x1="474.2" y1="300" x2="476.2" y2="301.2" stroke="#222" stroke-width="0.8" />
<line x1="572.4" y1="300" x2="570.2" y2="301.2" stroke="#222" stroke-width="0.8" />
<line x1="474.2" y1="336" x2="476.2" y2="337.2" stroke="#222" stroke-width="0.8" />
<line x1="572.4" y1="336" x2="570.2" y2="337.2" stroke="#222" stroke-width="0.8" />
<line x1="474.2" y1="358" x2="476.2" y2="359.2" stroke="#222" stroke-width="0.8" />
<line x1="572.4" y1="358" x2="570.2" y2="359.2" stroke="#222" stroke-width="0.8" />
<rect x="478.5" y="360.5" width="89.6" height="2.4" rx="0" stroke="#22cc22" stroke-width="0.8" fill="none" />
<line x1="473.1" y1="264.8" x2="573.5" y2="264.8" stroke="#555" stroke-width="1" />
<line x1="523.5" y1="360.5" x2="523.5" y2="363" stroke="#30f830" stroke-width="0.6" />
<rect x="514.15" y="273.85" width="1.5" height="1.5" rx="0" stroke="none" stroke-width="0" fill="#22cc22" />
<rect x="514.15" y="287.75" width="1.5" height="1.5" rx="0" stroke="none" stroke-width="0" fill="#22cc22" />
<rect x="510.95" y="290.45" width="1.5" height="1.5" rx="0" stroke="none" stroke-width="0" fill="#22cc22" />
<rect x="519.05" y="292.15" width="1.5" height="1.5" rx="0" stroke="none" stroke-width="0" fill="#22cc22" />
<rect x="522.25" y="292.15" width="1.5" height="1.5" rx="0" stroke="none" stroke-width="0" fill="#22cc22" />
<rect x="537.35" y="275.75" width="1.5" height="1.5" rx="0" stroke="none" stroke-width="0" fill="#22cc22" />
<rect x="542.75" y="273.85" width="1.5" height="1.5" rx="0" stroke="none" stroke-width="0" fill="#22cc22" />
<rect x="537.35" y="285.55" width="1.5" height="1.5" rx="0" stroke="none" stroke-width="0" fill="#22cc22" />
<rect x="542.75" y="287.75" width="1.5" height="1.5" rx="0" stroke="none" stroke-width="0" fill="#22cc22" />
<rect x="538.15" y="292.15" width="1.5" height="1.5" rx="0" stroke="none" stroke-width="0" fill="#22cc22" />
<rect x="541.55" y="292.15" width="1.5" height="1.5" rx="0" stroke="none" stroke-width="0" fill="#22cc22" />
<rect x="557.45" y="292.15" width="1.5" height="1.5" rx="0" stroke="none" stroke-width="0" fill="#22cc22" />
<rect x="560.65" y="292.15" width="1.5" height="1.5" rx="0" stroke="none" stroke-width="0" fill="#22cc22" />
<rect x="566.25" y="275.75" width="1.5" height="1.5" rx="0" stroke="none" stroke-width="0" fill="#22cc22" />
<rect x="566.25" y="285.55" width="1.5" height="1.5" rx="0" stroke="none" stroke-width="0" fill="#22cc22" />
<rect x="478.65" y="290.95" width="1.5" height="1.5" rx="0" stroke="none" stroke-width="0" fill="#22cc22" />
<rect x="510.95" y="306.05" width="1.5" height="1.5" rx="0" stroke="none" stroke-width="0" fill="#22cc22" />
<rect x="519.05" y="331.25" width="1.5" height="1.5" rx="0" stroke="none" stroke-width="0" fill="#22cc22" />
<rect x="522.25" y="331.25" width="1.5" height="1.5" rx="0" stroke="none" stroke-width="0" fill="#22cc22" />
<rect x="538.15" y="331.25" width="1.5" height="1.5" rx="0" stroke="none" stroke-width="0" fill="#22cc22" />
<rect x="541.55" y="331.25" width="1.5" height="1.5" rx="0" stroke="none" stroke-width="0" fill="#22cc22" />
<rect x="557.45" y="331.25" width="1.5" height="1.5" rx="0" stroke="none" stroke-width="0" fill="#22cc22" />
<rect x="560.65" y="331.25" width="1.5" height="1.5" rx="0" stroke="none" stroke-width="0" fill="#22cc22" />
<rect x="510.95" y="332.95" width="1.5" height="1.5" rx="0" stroke="none" stroke-width="0" fill="#22cc22" />
<rect x="493.85" y="333.25" width="1.5" height="1.5" rx="0" stroke="none" stroke-width="0" fill="#22cc22" />
<rect x="478.65" y="337.35" width="1.5" height="1.5" rx="0" stroke="none" stroke-width="0" fill="#22cc22" />
<rect x="567.95" y="341.05" width="1.5" height="1.5" rx="0" stroke="none" stroke-width="0" fill="#22cc22" />
<rect x="567.95" y="344.25" width="1.5" height="1.5" rx="0" stroke="none" stroke-width="0" fill="#22cc22" />
<rect x="502.45" y="335.45" width="1.5" height="1.5" rx="0" stroke="none" stroke-width="0" fill="#0d4d0d" />
<rect x="502.45" y="349.15" width="1.5" height="1.5" rx="0" stroke="none" stroke-width="0" fill="#0d4d0d" />
<rect x="525.65" y="337.35" width="1.5" height="1.5" rx="0" stroke="none" stroke-width="0" fill="#0d4d0d" />
<rect x="528.05" y="341.05" width="1.5" height="1.5" rx="0" stroke="none" stroke-width="0" fill="#0d4d0d" />
<rect x="528.05" y="344.25" width="1.5" height="1.5" rx="0" stroke="none" stroke-width="0" fill="#0d4d0d" />
<rect x="525.65" y="347.65" width="1.5" height="1.5" rx="0" stroke="none" stroke-width="0" fill="#0d4d0d" />
<line x1="467.6" y1="364.1" x2="579" y2="364.1" stroke="#333" stroke-width="0.8" />
<rect x="478.6" y="364.6" width="0.9" height="1.4" rx="0" stroke="none" stroke-width="0" fill="#333" />
<rect x="486.6" y="364.6" width="0.9" height="1.4" rx="0" stroke="none" stroke-width="0" fill="#333" />
<rect x="494.6" y="364.6" width="0.9" height="1.4" rx="0" stroke="none" stroke-width="0" fill="#333" />
<rect x="502.6" y="364.6" width="0.9" height="1.4" rx="0" stroke="none" stroke-width="0" fill="#333" />
<rect x="510.6" y="364.6" width="0.9" height="1.4" rx="0" stroke="none" stroke-width="0" fill="#333" />
<rect x="518.6" y="364.6" width="0.9" height="1.4" rx="0" stroke="none" stroke-width="0" fill="#333" />
<rect x="526.6" y="364.6" width="0.9" height="1.4" rx="0" stroke="none" stroke-width="0" fill="#333" />
<rect x="534.6" y="364.6" width="0.9" height="1.4" rx="0" stroke="none" stroke-width="0" fill="#333" />
<rect x="542.6" y="364.6" width="0.9" height="1.4" rx="0" stroke="none" stroke-width="0" fill="#333" />
<rect x="550.6" y="364.6" width="0.9" height="1.4" rx="0" stroke="none" stroke-width="0" fill="#333" />
<rect x="558.6" y="364.6" width="0.9" height="1.4" rx="0" stroke="none" stroke-width="0" fill="#333" />
<rect x="566.6" y="364.6" width="0.9" height="1.4" rx="0" stroke="none" stroke-width="0" fill="#333" />
<line x1="466.7" y1="368.4" x2="579.9" y2="368.4" stroke="#111" stroke-width="1.4" />
<line x1="467.6" y1="370.1" x2="579" y2="370.1" stroke="#999" stroke-width="1.6" />
<path d="M473.9,371 L473.9,378 Q473.9,380.6 476.3,380.6 Q478.7,380.6 478.7,378 L478.7,371" stroke="#000" stroke-width="1.1" fill="none" />
<line x1="475.1" y1="371.5" x2="475.1" y2="379" stroke="#444" stroke-width="0.8" />
<path d="M567.6,371 L567.6,378 Q567.6,380.6 570,380.6 Q572.4,380.6 572.4,378 L572.4,371" stroke="#000" stroke-width="1.1" fill="none" />
<line x1="568.8" y1="371.5" x2="568.8" y2="379" stroke="#444" stroke-width="0.8" />
<line x1="467.3" y1="24.6" x2="467.3" y2="36.2" stroke="#3030ff" stroke-width="0.9" />
<line x1="579.3" y1="24.6" x2="579.3" y2="36.2" stroke="#3030ff" stroke-width="0.9" />
<line x1="467.3" y1="24.6" x2="505" y2="24.6" stroke="#3030ff" stroke-width="1" />
<line x1="541.3" y1="24.6" x2="579.3" y2="24.6" stroke="#3030ff" stroke-width="1" />
<polygon points="467.3,24.6 473.1,23 473.1,26.2" stroke="none" stroke-width="1" fill="#0000ff" />
<polygon points="579.3,24.6 573.5,26.2 573.5,23" stroke="none" stroke-width="1" fill="#0000ff" />
<line x1="441.1" y1="36.8" x2="466.5" y2="36.8" stroke="#3030ff" stroke-width="0.9" />
<line x1="441.1" y1="264.8" x2="472" y2="264.8" stroke="#3030ff" stroke-width="0.9" />
<line x1="441.1" y1="368.7" x2="466.5" y2="368.7" stroke="#3030ff" stroke-width="0.9" />
<line x1="441.1" y1="36.8" x2="441.1" y2="145.5" stroke="#3030ff" stroke-width="1" />
<line x1="441.1" y1="156" x2="441.1" y2="310.5" stroke="#3030ff" stroke-width="1" />
<line x1="441.1" y1="321.5" x2="441.1" y2="368.7" stroke="#3030ff" stroke-width="1" />
<polygon points="441.1,36.8 442.7,42.6 439.5,42.6" stroke="none" stroke-width="1" fill="#0000ff" />
<polygon points="441.1,264.8 439.5,259 442.7,259" stroke="none" stroke-width="1" fill="#0000ff" />
<polygon points="441.1,264.8 442.7,270.6 439.5,270.6" stroke="none" stroke-width="1" fill="#0000ff" />
<polygon points="441.1,368.7 439.5,362.9 442.7,362.9" stroke="none" stroke-width="1" fill="#0000ff" />
<polyline points="712.6,353 710.9,85 803.7,120.4 805.1,387.3 712.6,353" stroke="#111" stroke-width="1.75" fill="none" stroke-linejoin="round"/>
<polyline points="710.9,85 714.4,81.3" stroke="#111" stroke-width="1.3" fill="none" />
<polyline points="808.4,117 803.7,120.4" stroke="#111" stroke-width="1.3" fill="none" />
<line x1="714.4" y1="81.7" x2="808.4" y2="117.3" stroke="#222" stroke-width="1.8" stroke-dasharray="1.3,0.45"/>
<line x1="714.6" y1="82.6" x2="807.6" y2="117.8" stroke="#888" stroke-width="0.6" />
<rect x="718.1" y="84.06" width="1" height="1" rx="0" stroke="none" stroke-width="0" fill="#333" />
<rect x="727.3" y="87.58" width="1" height="1" rx="0" stroke="none" stroke-width="0" fill="#333" />
<rect x="743.86" y="93.92" width="1" height="1" rx="0" stroke="none" stroke-width="0" fill="#333" />
<rect x="761.34" y="100.6" width="1" height="1" rx="0" stroke="none" stroke-width="0" fill="#333" />
<rect x="777.9" y="106.94" width="1" height="1" rx="0" stroke="none" stroke-width="0" fill="#333" />
<rect x="794.46" y="113.28" width="1" height="1" rx="0" stroke="none" stroke-width="0" fill="#333" />
<rect x="802.74" y="116.44" width="1" height="1" rx="0" stroke="none" stroke-width="0" fill="#333" />
<line x1="808.4" y1="117" x2="809.2" y2="385" stroke="#111" stroke-width="1.3" />
<line x1="806.2" y1="121.5" x2="807.2" y2="386" stroke="#aaa" stroke-width="0.5" />
<line x1="809.2" y1="385" x2="805.1" y2="387.3" stroke="#111" stroke-width="1" />
<path d="M710.6,93.5 L708.3,94.6 L708.6,96.4 L710.6,95.6" stroke="#333" stroke-width="0.8" fill="none" />
<path d="M809.3,312.3 Q817,326 819.6,345 Q821.2,360 819.8,373.2 L809.6,378.3" stroke="#111" stroke-width="1.1" fill="none" />
<path d="M809.3,316 Q815.5,329 817.8,346 Q819.2,360 818,372.5" stroke="#777" stroke-width="0.5" fill="none" />
<line x1="810.9" y1="315" x2="810.9" y2="377.6" stroke="#222" stroke-width="0.8" />
<ellipse cx="813.6" cy="329.8" rx="1.2" ry="1.6" stroke="#111" stroke-width="1" fill="none" transform="rotate(12 813.6 329.8)"/>
<ellipse cx="814" cy="336.7" rx="1.7" ry="2.4" stroke="#111" stroke-width="1" fill="none" transform="rotate(12 814 336.7)"/>
<ellipse cx="814.2" cy="344.3" rx="2.1" ry="3" stroke="#111" stroke-width="1" fill="none" transform="rotate(12 814.2 344.3)"/>
<ellipse cx="814.3" cy="353.8" rx="2.5" ry="3.8" stroke="#111" stroke-width="1" fill="none" transform="rotate(12 814.3 353.8)"/>
<ellipse cx="814.4" cy="367.6" rx="3" ry="5" stroke="#111" stroke-width="1" fill="none" transform="rotate(12 814.4 367.6)"/>
<path d="M714.7,354.6 L704.6,362.0 Q702.4,365.6 705.5,366.8 C725,368.3 760,378 788.2,398.4 Q790.3,400.2 792.2,399.4 L801.4,387.8" stroke="#111" stroke-width="1.4" fill="none" />
<path d="M704.0,364.4 C725,366.2 760,375.8 787.8,395.6" stroke="#333" stroke-width="0.7" fill="none" />
<path d="M819.9,357.2 L829.8,358.2 Q833.4,360.5 831.2,363.0 L824.4,368.5 L819.8,370.5" stroke="#111" stroke-width="1.2" fill="none" />
<path d="M709.7,368.6 L709.7,370.8 Q709.7,372.6 711.9,372.6 Q714.1,372.6 714.1,370.8 L714.1,368.6" stroke="#111" stroke-width="1" fill="none" />
<line x1="711.9" y1="368.4" x2="711.9" y2="372.4" stroke="#555" stroke-width="0.5" />
<path d="M787.6,399 L787.6,401.2 Q787.6,403 789.8,403 Q792,403 792,401.2 L792,399" stroke="#111" stroke-width="1" fill="none" />
<line x1="789.8" y1="398.8" x2="789.8" y2="402.8" stroke="#555" stroke-width="0.5" />
<path d="M820.8,370 L820.8,372.2 Q820.8,374 823,374 Q825.2,374 825.2,372.2 L825.2,370" stroke="#111" stroke-width="1" fill="none" />
<line x1="823" y1="369.8" x2="823" y2="373.8" stroke="#555" stroke-width="0.5" />
<rect x="709.55" y="359.65" width="1.1" height="1.1" rx="0" stroke="none" stroke-width="0" fill="#111" />
<rect x="706.75" y="362.05" width="1.1" height="1.1" rx="0" stroke="none" stroke-width="0" fill="#111" />
<rect x="711.55" y="362.05" width="1.1" height="1.1" rx="0" stroke="none" stroke-width="0" fill="#111" />
<rect x="716.65" y="362.05" width="1.1" height="1.1" rx="0" stroke="none" stroke-width="0" fill="#111" />
<rect x="713.85" y="364.65" width="1.1" height="1.1" rx="0" stroke="none" stroke-width="0" fill="#111" />
<rect x="787.95" y="389.75" width="1.1" height="1.1" rx="0" stroke="none" stroke-width="0" fill="#111" />
<rect x="785.15" y="392.15" width="1.1" height="1.1" rx="0" stroke="none" stroke-width="0" fill="#111" />
<rect x="789.95" y="392.15" width="1.1" height="1.1" rx="0" stroke="none" stroke-width="0" fill="#111" />
<rect x="795.05" y="392.15" width="1.1" height="1.1" rx="0" stroke="none" stroke-width="0" fill="#111" />
<rect x="792.25" y="394.75" width="1.1" height="1.1" rx="0" stroke="none" stroke-width="0" fill="#111" />
<rect x="823.75" y="359.45" width="1.1" height="1.1" rx="0" stroke="none" stroke-width="0" fill="#111" />
<rect x="820.95" y="361.85" width="1.1" height="1.1" rx="0" stroke="none" stroke-width="0" fill="#111" />
<rect x="825.75" y="361.85" width="1.1" height="1.1" rx="0" stroke="none" stroke-width="0" fill="#111" />
<rect x="830.85" y="361.85" width="1.1" height="1.1" rx="0" stroke="none" stroke-width="0" fill="#111" />
<rect x="828.05" y="364.45" width="1.1" height="1.1" rx="0" stroke="none" stroke-width="0" fill="#111" />
<path d="M697.4,173.1 Q712,180 721.5,196.5" stroke="#3030ff" stroke-width="0.9" fill="none" />
<polygon points="723.8,199.4 719.08,195.44 721.32,193.76" stroke="none" stroke-width="1" fill="#0000ff" />
<path d="M762.2,417.5 Q773,413 783.5,404.5" stroke="#3030ff" stroke-width="0.9" fill="none" />
<polygon points="785.9,402.6 782.13,407.47 780.36,405.3" stroke="none" stroke-width="1" fill="#0000ff" />
<path d="M792.5,432.4 Q808,427 813,410 Q817,392 821.6,381.5" stroke="#3030ff" stroke-width="0.9" fill="none" />
<polygon points="822.9,377.3 822.24,383.43 819.6,382.5" stroke="none" stroke-width="1" fill="#0000ff" />
<path d="M64.8,463 L63.9,436.6 L61.9,422.3 Q61.5,416.4 66.7,416.5 Q115.8,431 164.9,416.5 Q170.2,416.4 169.8,422.3 L167.7,436.6 L167.0,463" stroke="#333" stroke-width="0.9" fill="none" />
<rect x="105.3" y="428.5" width="21.4" height="8.9" rx="4.45" stroke="#333" stroke-width="0.8" fill="none" />
<path d="M64.5,472.5 L61.9,489.8 Q61.6,494.8 66.5,494.3 Q115.8,478.1 165.1,494.3 Q170.0,494.8 169.7,489.8 L167.1,472.5" stroke="#333" stroke-width="0.9" fill="none" />
<rect x="64.75" y="422.1" width="1.5" height="1.5" rx="0" stroke="none" stroke-width="0" fill="#111" />
<rect x="72.35" y="422.1" width="1.5" height="1.5" rx="0" stroke="none" stroke-width="0" fill="#111" />
<rect x="68.55" y="424.65" width="1.5" height="1.5" rx="0" stroke="none" stroke-width="0" fill="#111" />
<rect x="64.75" y="427.2" width="1.5" height="1.5" rx="0" stroke="none" stroke-width="0" fill="#111" />
<rect x="72.35" y="427.2" width="1.5" height="1.5" rx="0" stroke="none" stroke-width="0" fill="#111" />
<rect x="158.05" y="422.1" width="1.5" height="1.5" rx="0" stroke="none" stroke-width="0" fill="#111" />
<rect x="165.65" y="422.1" width="1.5" height="1.5" rx="0" stroke="none" stroke-width="0" fill="#111" />
<rect x="161.85" y="424.65" width="1.5" height="1.5" rx="0" stroke="none" stroke-width="0" fill="#111" />
<rect x="158.05" y="427.2" width="1.5" height="1.5" rx="0" stroke="none" stroke-width="0" fill="#111" />
<rect x="165.65" y="427.2" width="1.5" height="1.5" rx="0" stroke="none" stroke-width="0" fill="#111" />
<rect x="64.75" y="482.1" width="1.5" height="1.5" rx="0" stroke="none" stroke-width="0" fill="#111" />
<rect x="72.35" y="482.1" width="1.5" height="1.5" rx="0" stroke="none" stroke-width="0" fill="#111" />
<rect x="68.55" y="484.65" width="1.5" height="1.5" rx="0" stroke="none" stroke-width="0" fill="#111" />
<rect x="64.75" y="487.2" width="1.5" height="1.5" rx="0" stroke="none" stroke-width="0" fill="#111" />
<rect x="72.35" y="487.2" width="1.5" height="1.5" rx="0" stroke="none" stroke-width="0" fill="#111" />
<rect x="158.05" y="482.1" width="1.5" height="1.5" rx="0" stroke="none" stroke-width="0" fill="#111" />
<rect x="165.65" y="482.1" width="1.5" height="1.5" rx="0" stroke="none" stroke-width="0" fill="#111" />
<rect x="161.85" y="484.65" width="1.5" height="1.5" rx="0" stroke="none" stroke-width="0" fill="#111" />
<rect x="158.05" y="487.2" width="1.5" height="1.5" rx="0" stroke="none" stroke-width="0" fill="#111" />
<rect x="165.65" y="487.2" width="1.5" height="1.5" rx="0" stroke="none" stroke-width="0" fill="#111" />
<path d="M65.4,463 L65.4,437.5 L69.3,437.5 L69.3,463" stroke="#111" stroke-width="1" fill="none" />
<rect x="65.4" y="437.3" width="3.9" height="2.2" rx="0" stroke="none" stroke-width="0" fill="#333" />
<line x1="67.35" y1="440" x2="67.35" y2="461" stroke="#888" stroke-width="0.7" />
<path d="M162.6,463 L162.6,437.5 L166.6,437.5 L166.6,463" stroke="#111" stroke-width="1" fill="none" />
<rect x="162.6" y="437.3" width="4" height="2.2" rx="0" stroke="none" stroke-width="0" fill="#333" />
<line x1="164.6" y1="440" x2="164.6" y2="461" stroke="#888" stroke-width="0.7" />
<line x1="69.3" y1="454.5" x2="162.6" y2="454.5" stroke="#30f830" stroke-width="0.9" />
<rect x="60.2" y="463.6" width="111.8" height="2.8" rx="0" stroke="none" stroke-width="0" fill="#9a9a9a" />
<rect x="60.2" y="463.1" width="111.8" height="8.7" rx="0" stroke="#222" stroke-width="0.9" fill="none" />
<line x1="60.2" y1="463.1" x2="172" y2="463.1" stroke="#111" stroke-width="1.4" />
<line x1="60.2" y1="466.5" x2="172" y2="466.5" stroke="#333" stroke-width="1" />
<line x1="60.2" y1="471.8" x2="172" y2="471.8" stroke="#444" stroke-width="1.2" />
<line x1="51" y1="462.4" x2="64" y2="462.4" stroke="#111" stroke-width="0.8" />
<rect x="65.5" y="465.3" width="1.4" height="1.4" rx="0" stroke="none" stroke-width="0" fill="#1a1" />
<rect x="115.3" y="465.3" width="1.4" height="1.4" rx="0" stroke="none" stroke-width="0" fill="#1a1" />
<rect x="165.1" y="465.3" width="1.4" height="1.4" rx="0" stroke="none" stroke-width="0" fill="#1a1" />
<line x1="38.6" y1="416.6" x2="65" y2="416.6" stroke="#3030ff" stroke-width="0.9" />
<line x1="38.6" y1="462.4" x2="51" y2="462.4" stroke="#3030ff" stroke-width="0.9" />
<line x1="38.6" y1="472.2" x2="60.5" y2="472.2" stroke="#3030ff" stroke-width="0.9" />
<line x1="38.6" y1="493.8" x2="64" y2="493.8" stroke="#3030ff" stroke-width="0.9" />
<line x1="38.8" y1="416.6" x2="38.8" y2="434.5" stroke="#3030ff" stroke-width="0.9" />
<line x1="38.8" y1="446" x2="38.8" y2="478" stroke="#000" stroke-width="1" />
<line x1="38.8" y1="446" x2="38.8" y2="478.5" stroke="#3030ff" stroke-width="0.9" />
<line x1="38.8" y1="493.8" x2="38.8" y2="505" stroke="#3030ff" stroke-width="0.9" />
<polygon points="38.8,416.6 40.4,422.4 37.2,422.4" stroke="none" stroke-width="1" fill="#0000ff" />
<polygon points="38.8,462.4 37.2,456.6 40.4,456.6" stroke="none" stroke-width="1" fill="#0000ff" />
<polygon points="38.8,466.8 37.2,462.8 40.4,462.8" stroke="none" stroke-width="1" fill="#0000ff" />
<polygon points="38.8,472.2 40.4,478 37.2,478" stroke="none" stroke-width="1" fill="#0000ff" />
<polygon points="38.8,493.8 40.4,499.6 37.2,499.6" stroke="none" stroke-width="1" fill="#0000ff" />
<line x1="168" y1="416.5" x2="196.5" y2="416.5" stroke="#3030ff" stroke-width="0.9" />
<line x1="169" y1="493.8" x2="196.5" y2="493.8" stroke="#3030ff" stroke-width="0.9" />
<line x1="193.2" y1="416.5" x2="193.2" y2="449.8" stroke="#3030ff" stroke-width="0.9" />
<line x1="193.2" y1="461.5" x2="193.2" y2="493.8" stroke="#3030ff" stroke-width="0.9" />
<polygon points="193.2,416.5 194.8,422.3 191.6,422.3" stroke="none" stroke-width="1" fill="#0000ff" />
<polygon points="193.2,493.8 191.6,488 194.8,488" stroke="none" stroke-width="1" fill="#0000ff" />
<line x1="59.8" y1="472.5" x2="59.8" y2="505" stroke="#3030ff" stroke-width="0.9" />
<line x1="172.1" y1="472.5" x2="172.1" y2="505" stroke="#3030ff" stroke-width="0.9" />
<line x1="59.8" y1="503.5" x2="97.8" y2="503.5" stroke="#3030ff" stroke-width="1" />
<line x1="133.6" y1="503.5" x2="172.1" y2="503.5" stroke="#3030ff" stroke-width="1" />
<polygon points="59.8,503.5 65.6,501.9 65.6,505.1" stroke="none" stroke-width="1" fill="#0000ff" />
<polygon points="172.1,503.5 166.3,505.1 166.3,501.9" stroke="none" stroke-width="1" fill="#0000ff" />
<text x="98.65" y="23.25" font-family="Liberation Serif" font-size="14.85" fill="#ff1010" textLength="33.91" lengthAdjust="spacingAndGlyphs" xml:space="preserve" >651.5</text>
<text x="56.63" y="27.55" font-family="Liberation Serif" font-size="13.03" fill="#ff1010" textLength="6.51" lengthAdjust="spacingAndGlyphs" xml:space="preserve" >6</text>
<text x="20.51" y="207.85" font-family="Liberation Serif" font-size="14.39" fill="#ff1010" textLength="26.88" lengthAdjust="spacingAndGlyphs" xml:space="preserve" >2008</text>
<text x="313.15" y="23.95" font-family="Liberation Serif" font-size="13.38" fill="#ff1010" textLength="26.25" lengthAdjust="spacingAndGlyphs" xml:space="preserve" >47.7</text>
<text x="272.65" y="95.35" font-family="Liberation Serif" font-size="13.79" fill="#ff1010" textLength="33.91" lengthAdjust="spacingAndGlyphs" xml:space="preserve" >53.25</text>
<text x="357.56" y="213.65" font-family="Liberation Serif" font-size="15.23" fill="#ff1010" textLength="27.14" lengthAdjust="spacingAndGlyphs" xml:space="preserve" >2008</text>
<text x="267.12" y="276.75" font-family="Liberation Serif" font-size="14.09" fill="#ff1010" textLength="40.62" lengthAdjust="spacingAndGlyphs" xml:space="preserve" >100.95</text>
<text x="258.51" y="382.15" font-family="Liberation Serif" font-size="14.55" fill="#ff1010" textLength="6.79" lengthAdjust="spacingAndGlyphs" xml:space="preserve" >8</text>
<text x="363.52" y="396.55" font-family="Liberation Serif" font-size="13.03" fill="#ff1010" textLength="13.15" lengthAdjust="spacingAndGlyphs" xml:space="preserve" >60</text>
<text x="506.36" y="28.95" font-family="Liberation Serif" font-size="14.24" fill="#ff1010" textLength="33.28" lengthAdjust="spacingAndGlyphs" xml:space="preserve" >651.5</text>
<text x="416.74" y="155.65" font-family="Liberation Serif" font-size="14.09" fill="#ff1010" textLength="47.19" lengthAdjust="spacingAndGlyphs" xml:space="preserve" >1329.25</text>
<text x="430.41" y="322.05" font-family="Liberation Serif" font-size="14.7" fill="#ff1010" textLength="20.14" lengthAdjust="spacingAndGlyphs" xml:space="preserve" >606</text>
<text x="17.75" y="444.85" font-family="Liberation Serif" font-size="14.09" fill="#ff1010" textLength="41.3" lengthAdjust="spacingAndGlyphs" xml:space="preserve" >267.05</text>
<text x="20.51" y="471.65" font-family="Liberation Serif" font-size="12.46" fill="#ff1010" textLength="12.28" lengthAdjust="spacingAndGlyphs" xml:space="preserve" >54</text>
<text x="5.91" y="487.35" font-family="Liberation Serif" font-size="13.03" fill="#ff1010" textLength="40.83" lengthAdjust="spacingAndGlyphs" xml:space="preserve" >128.95</text>
<text x="183.08" y="460.05" font-family="Liberation Serif" font-size="13.33" fill="#ff1010" textLength="20.42" lengthAdjust="spacingAndGlyphs" xml:space="preserve" >450</text>
<text x="98.44" y="508.25" font-family="Liberation Serif" font-size="14.85" fill="#ff1010" textLength="34.22" lengthAdjust="spacingAndGlyphs" xml:space="preserve" >651.5</text>
<text x="72.82" y="402.55" font-family="Liberation Serif" font-size="15.61" fill="#ff00ff" textLength="36.34" lengthAdjust="spacingAndGlyphs" xml:space="preserve" >FRONT</text>
<text x="124.95" y="402.55" font-family="Liberation Serif" font-size="15.61" fill="#ff00ff" textLength="27.96" lengthAdjust="spacingAndGlyphs">view</text>
<text x="274.29" y="402.55" font-family="Liberation Serif" font-size="15.08" fill="#ff00ff" textLength="28.28" lengthAdjust="spacingAndGlyphs" xml:space="preserve" >LEFT</text>
<text x="319.15" y="402.55" font-family="Liberation Serif" font-size="15.08" fill="#ff00ff" textLength="27.96" lengthAdjust="spacingAndGlyphs">view</text>
<text x="482.34" y="402.55" font-family="Liberation Serif" font-size="14.85" fill="#ff00ff" textLength="28.8" lengthAdjust="spacingAndGlyphs" xml:space="preserve" >BACK</text>
<text x="527.35" y="402.55" font-family="Liberation Serif" font-size="14.85" fill="#ff00ff" textLength="27.96" lengthAdjust="spacingAndGlyphs">view</text>
<text x="81.31" y="529.25" font-family="Liberation Serif" font-size="15.45" fill="#ff00ff" textLength="22.43" lengthAdjust="spacingAndGlyphs" xml:space="preserve" >TOP</text>
<text x="119.05" y="529.25" font-family="Liberation Serif" font-size="15.45" fill="#ff00ff" textLength="28.26" lengthAdjust="spacingAndGlyphs">view</text>
<text x="184.54" y="144" font-family="Liberation Sans" font-size="9.79" fill="#000" textLength="93.23" lengthAdjust="spacingAndGlyphs" xml:space="preserve" stroke="#000" stroke-width="0.15">320x160mm module</text>
<clipPath id="c1"><rect x="184.7" y="213.6" width="74.3" height="14.3"/></clipPath>
<text x="187.24" y="227.1" font-family="Liberation Sans" font-size="9.79" fill="#000" textLength="68.73" lengthAdjust="spacingAndGlyphs" xml:space="preserve" clip-path="url(#c1)" stroke="#000" stroke-width="0.15">Power supplies</text>
<clipPath id="c2"><rect x="190.9" y="263.6" width="71.1" height="14.4"/></clipPath>
<text x="193.45" y="277.3" font-family="Liberation Sans" font-size="10.07" fill="#000" textLength="65.84" lengthAdjust="spacingAndGlyphs" xml:space="preserve" clip-path="url(#c2)" stroke="#000" stroke-width="0.15">Receiving card</text>
<clipPath id="c3"><rect x="190.2" y="306.3" width="65.6" height="15.9"/></clipPath>
<text x="193.04" y="320.1" font-family="Liberation Sans" font-size="10.21" fill="#000" textLength="60.05" lengthAdjust="spacingAndGlyphs" xml:space="preserve" clip-path="url(#c3)" stroke="#000" stroke-width="0.15">Sending card</text>
<text x="630.55" y="165.8" font-family="Liberation Sans" font-size="9.7" fill="#000" textLength="55.47" lengthAdjust="spacingAndGlyphs" xml:space="preserve" stroke="#000" stroke-width="0.15">Acrylic cover</text>
<text x="630.84" y="181.6" font-family="Liberation Sans" font-size="9.7" fill="#000" textLength="62.62" lengthAdjust="spacingAndGlyphs" xml:space="preserve" stroke="#000" stroke-width="0.15">for protection</text>
<text x="753.65" y="435.3" font-family="Liberation Sans" font-size="10.07" fill="#000" textLength="33.14" lengthAdjust="spacingAndGlyphs" xml:space="preserve" stroke="#000" stroke-width="0.15">Wheels</text>
</svg></body></html>
